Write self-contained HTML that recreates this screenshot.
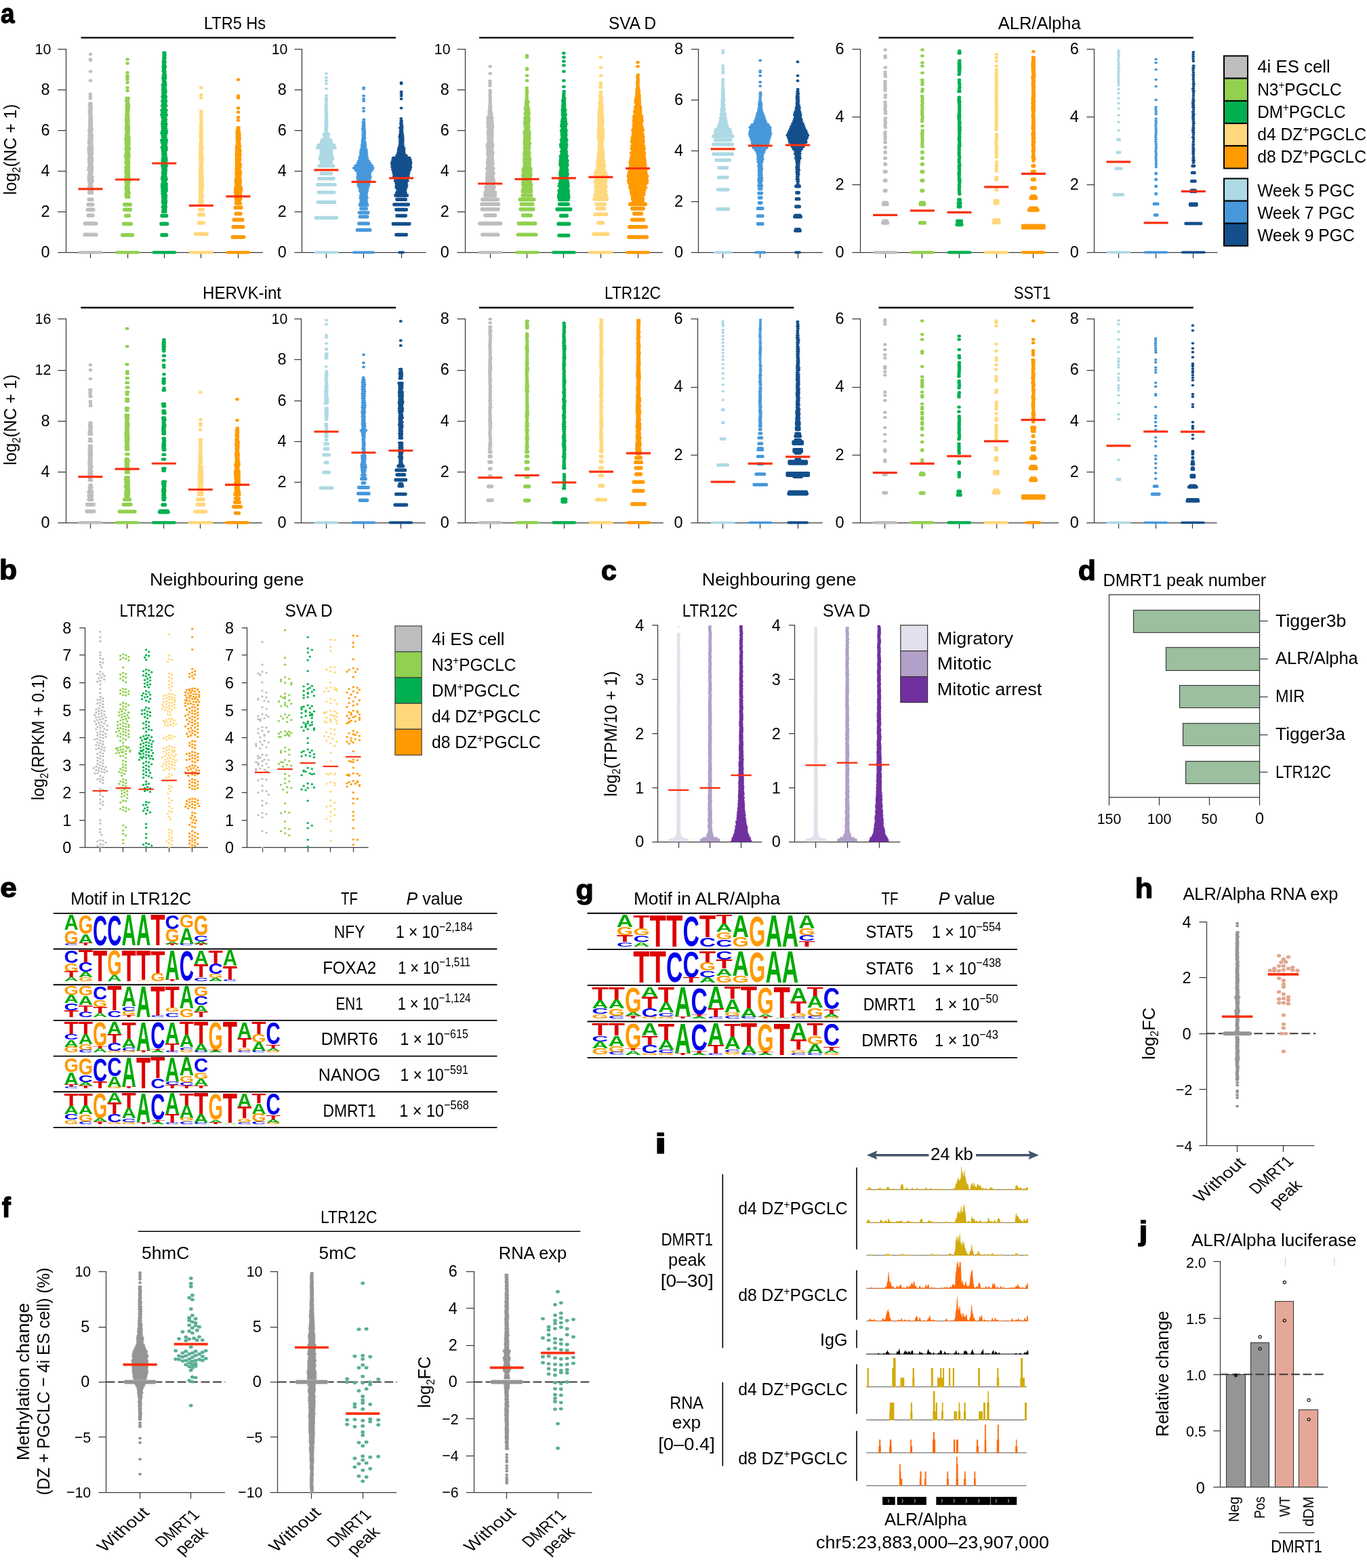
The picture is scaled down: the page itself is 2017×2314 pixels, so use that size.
<!DOCTYPE html>
<html><head><meta charset="utf-8"><title>Figure</title>
<style>html,body{margin:0;padding:0;background:#fff}svg{display:block}svg{font-family:"Liberation Sans",sans-serif;font-size:26.3px;fill:#000}path{fill:none}.d{stroke-linecap:round}</style></head>
<body><svg width="2017" height="2314" viewBox="0 0 2017 2314">
<rect width="2017" height="2314" fill="#fff"/>
<text transform="translate(1.1 33.5) scale(0.901 1)" font-weight="bold" font-size="41" stroke="#000" stroke-width="1.3" stroke-linejoin="round">a</text>
<path d="M119.5 55.6H584" stroke="#000" stroke-width="2.4"/>
<text transform="translate(346.5 43.4) scale(0.896 1)" text-anchor="middle">LTR5 Hs</text>
<path d="M97.5 71.9V372.5M85.3 372.5H97.5M85.3 312.5H97.5M85.3 252.5H97.5M85.3 192.5H97.5M85.3 132.5H97.5M85.3 72.5H97.5M85.3 372.5H387.8M133.5 372.5v8.5M188.5 372.5v8.5M242.5 372.5v8.5M296.5 372.5v8.5M351.5 372.5v8.5" stroke="#3a3a3a" stroke-width="1.25"/>
<text transform="translate(73.5 379.8) scale(1.020 1)" text-anchor="end" font-size="23">0</text>
<text transform="translate(73.5 319.8) scale(1.020 1)" text-anchor="end" font-size="23">2</text>
<text transform="translate(73.5 259.8) scale(1.020 1)" text-anchor="end" font-size="23">4</text>
<text transform="translate(73.5 199.9) scale(1.020 1)" text-anchor="end" font-size="23">6</text>
<text transform="translate(73.5 139.9) scale(1.020 1)" text-anchor="end" font-size="23">8</text>
<text transform="translate(75.3 79.9) scale(0.930 1)" text-anchor="end" font-size="23">10</text>
<path class="d" d="M131.7 356.3h3.7M131.9 352h3.6M131.5 347.8h4.3M131.8 343.5h3.1M132.4 339.3h2.1M131.6 335h4.4M131.3 330.8h4.5M131.3 326.5h4.7M131.7 322.3h2.9M132.5 318h2.6M131 313.8h4.6M131.1 309.5h4.4M132.2 305.3h3.1M131.9 301h2.8M131.7 296.8h3.7M131.3 292.5h4.5M132.1 288.3h2.5M131.7 284h3.8M131.4 279.8h4M131 275.5h4.7M131.4 271.3h4.4M132.2 267h2.8M131.5 262.8h3.3M131.7 258.5h3.6M132.2 254.3h2.8M131.9 250h3.7M132.5 245.8h2M131.9 241.5h2.9M132.2 237.3h2.8M132.8 233h1.6M132.6 228.8h2.1M132.4 224.5h2.2M132.7 220.3h1.9M132.9 216h1.5M132.9 211.8h1.2M132.2 207.5h1.8M132.6 203.3h1.7M133 199h1.1M132.3 194.8h1.9M132.8 190.5h1M133.3 182h0M133.3 177.8h0M133.3 173.5h0M125.3 432.1h16.4M125.3 433.6h16.4M125.3 411.5h16.4M125.3 413h16.4M130.3 396.5h6.4M130.3 398h6.4M129.3 386h8.4M129.3 387.5h8.4M130.3 376.7h6.4M130.3 378.2h6.4M131.3 367.3h4.4M131.3 368.8h4.4M133.5 148.7h0M133.5 131.9h0M133.5 111.2h0M133.5 109.4h0M133.5 100h0M118.3 465.5h30.4" stroke="#bebebe" stroke-width="5.6" transform="scale(1 0.8)"/>
<path class="d" d="M186.6 363.8h3.3M186.1 359.5h3.3M186.4 355.3h3.8M186.6 351h2.6M185.8 346.8h3.9M186.6 342.5h2.3M186.7 338.3h2.8M186 334h4.1M186 329.8h4.1M186 325.5h3.8M186.7 321.3h2.9M185.8 317h3.9M186.2 312.8h3.1M185.9 308.5h3.7M187.1 304.3h2.2M185.8 300h4.1M186.6 295.8h3M186.2 291.5h3.3M185.3 287.3h4.9M186.6 283h3.2M186.8 278.8h2.7M185.8 274.5h4.7M186.7 270.3h2.8M186.2 266h3.9M186.5 261.8h3.6M185.6 257.5h4.3M186.6 253.3h3.4M186.2 249h3M187.1 244.8h2.4M186.7 240.5h2.8M186.5 236.3h3.1M186.9 232h2.5M187 227.8h1.8M186.5 223.5h2.7M186.7 219.3h2.3M186.9 215h1.7M186.8 210.8h1.8M187.4 206.5h1.3M187.2 202.3h1.9M187.2 198h2.3M187.1 193.8h2.4M187.3 189.5h1.4M186.7 185.3h1.9M187.1 181h2.2M180.8 432.9h14.4M180.8 434.4h14.4M182.8 412.3h10.4M182.8 413.8h10.4M185.8 397.3h4.4M185.8 398.8h4.4M183.8 386h8.4M183.8 387.5h8.4M183.8 376.7h8.4M183.8 378.2h8.4M188 167.5h0M188 161.9h0M188 152.5h0M188 146.9h0M188 143.1h0M188 139.4h0M188 133.7h0M188 116.9h0M188 109.4h0M172.8 465.5h30.4" stroke="#92d050" stroke-width="5.6" transform="scale(1 0.8)"/>
<path class="d" d="M240.5 390.5h3.4M241.1 386.3h2.8M240.3 382h4M241.4 377.8h2.5M240.3 373.5h4.2M240.7 369.3h3.6M240.7 365h3.6M240.4 360.8h4.1M240 356.5h3.9M239.9 352.3h5.2M239.7 348h5.5M239.5 343.8h5.5M239.7 339.5h5.5M240.8 335.3h2.9M239.7 331h5.5M239.8 326.8h4.6M240.6 322.5h3.2M240.3 318.3h3.9M240.9 314h3.5M240.7 309.8h3.6M239.7 305.5h5.5M240.3 301.3h3.9M240.1 297h4.8M240.2 292.8h4.8M241 288.5h3.2M240.6 284.3h3.4M240.8 280h3.2M240.1 275.8h5M239.4 271.5h5.6M240.6 267.3h3.7M239.5 263h5.4M238.7 258.8h6.6M240.6 254.5h3.6M240.1 250.3h3.9M239 246h6.1M239.8 241.8h5.5M240.4 237.5h4.1M240.2 233.3h4M239.8 229h5.1M240.1 224.8h4M240.9 220.5h3.5M240 216.3h4M238.9 212h6.3M239.9 207.8h4.2M239 203.5h6M240.8 199.3h2.8M239.7 195h5M240.8 190.8h3M239.7 186.5h5M241 182.3h2.9M240 178h4.4M240.9 173.8h2.3M240.7 169.5h3.5M240.4 165.3h3.4M240.9 161h2.2M240.3 156.8h3.5M241.6 152.5h2M241.3 148.3h1.5M240.8 144h2.8M241.3 139.8h2.2M242 135.5h1.2M241.2 131.3h1.7M241.4 127h1.2M241.3 122.8h2.2M241.6 118.5h0.9M241.3 114.3h1.8M241.7 110h0.8M241.9 105.8h1.1M242 101.5h1.1M242 97.3h0.8M239.1 432.9h6.4M239.1 434.4h6.4M238.1 412.3h8.4M238.1 413.8h8.4M239.1 397.3h6.4M239.1 398.8h6.4M227.1 465.5h30.4" stroke="#00b050" stroke-width="5.6" transform="scale(1 0.8)"/>
<path class="d" d="M295.2 375h3.1M295.3 370.8h2.7M295.5 366.5h2M295.2 362.3h3.2M295.2 358h2.8M295.1 353.8h2.9M295.5 349.5h2.1M295.3 345.3h3.4M295.5 341h2.8M295.3 336.8h3.2M295.7 332.5h2M295.7 328.3h2.7M295.3 324h2.7M296.1 319.8h1.7M295.3 315.5h2.4M295.3 311.3h2.3M296 307h1.5M296.2 302.8h1.1M295.9 298.5h2.2M295.5 294.3h2.3M295.8 290h2.3M295.7 285.8h1.7M296 281.5h1.2M296.1 277.3h1M296 273h1.9M295.7 268.8h1.6M296.3 264.5h0.6M296.4 260.3h0.8M296.6 256h1.1M295.8 251.8h1.3M296.2 247.5h0.8M296 243.3h1.3M296.7 239h0.7M296.4 234.8h1M296.5 230.5h0M296.9 226.3h0M297 222h0M296.8 217.8h0M296.6 213.5h0M297 209.3h0M297 205h0M288.6 431h16.4M288.6 432.5h16.4M293.6 410.4h6.4M293.6 411.9h6.4M293.6 395.4h6.4M293.6 396.9h6.4M294.6 386h4.4M294.6 387.5h4.4M296.8 180.6h0M296.8 175h0M296.8 161.9h0M281.6 465.5h30.4" stroke="#ffd87c" stroke-width="5.6" transform="scale(1 0.8)"/>
<path class="d" d="M348.6 375.5h6M348.9 371.3h4.5M348.4 367h6.5M348.8 362.8h5.2M347.9 358.5h6.6M347.5 354.3h7.4M347.5 350h8.2M347.9 345.8h7.4M348.9 341.5h5M348.4 337.3h5.9M348.1 333h6.3M348.8 328.8h5M349.7 324.5h3.9M348.8 320.3h5.7M349.2 316h5.1M349.2 311.8h4M349.2 307.5h4.7M349.3 303.3h5.2M349.4 299h3.6M349.2 294.8h4.4M349.5 290.5h3.9M349.1 286.3h4.9M349.3 282h4.2M349.4 277.8h4.7M349.3 273.5h3.7M349.6 269.3h3.9M350.6 265h2.3M350.5 260.8h2M350.2 256.5h3.1M350.1 252.3h2.9M350.2 248h2.8M349.9 243.8h2.5M350.7 239.5h1.3M351.2 235.3h0.8M343.3 436.6h16.4M343.3 438.1h16.4M344.3 417.9h14.4M344.3 419.4h14.4M345.3 404.8h12.4M345.3 406.3h12.4M348.3 393.5h6.4M348.3 395h6.4M347.3 382.3h8.4M347.3 383.8h8.4M351.5 221.8h0M351.5 216.2h0M351.5 206.8h0M351.5 199.3h0M351.5 180.6h0M351.5 176.8h0M351.5 146.9h0M336.3 465.5h30.4" stroke="#ff9a00" stroke-width="5.6" transform="scale(1 0.8)"/>
<path d="M115.5 278.8h36" stroke="#f9300f" stroke-width="3.2"/>
<path d="M170 265h36" stroke="#f9300f" stroke-width="3.2"/>
<path d="M224.3 241h36" stroke="#f9300f" stroke-width="3.2"/>
<path d="M278.8 303.4h36" stroke="#f9300f" stroke-width="3.2"/>
<path d="M333.5 289.9h36" stroke="#f9300f" stroke-width="3.2"/>
<path d="M445.5 71.9V372.5M434.5 372.5H445.5M434.5 312.5H445.5M434.5 252.5H445.5M434.5 192.5H445.5M434.5 132.5H445.5M434.5 72.5H445.5M434.5 372.5H628.5M481.5 372.5v8.5M536.5 372.5v8.5M592.5 372.5v8.5" stroke="#3a3a3a" stroke-width="1.25"/>
<text transform="translate(422.7 379.8) scale(1.020 1)" text-anchor="end" font-size="23">0</text>
<text transform="translate(422.7 319.8) scale(1.020 1)" text-anchor="end" font-size="23">2</text>
<text transform="translate(422.7 259.8) scale(1.020 1)" text-anchor="end" font-size="23">4</text>
<text transform="translate(422.7 199.9) scale(1.020 1)" text-anchor="end" font-size="23">6</text>
<text transform="translate(422.7 139.9) scale(1.020 1)" text-anchor="end" font-size="23">8</text>
<text transform="translate(424.5 79.9) scale(0.930 1)" text-anchor="end" font-size="23">10</text>
<path class="d" d="M480.7 244.3h1.5M480.4 240.1h1.3M480.5 235.8h1.6M481 231.6h1.5M480.3 227.3h1.7M480.6 223.1h1.7M480.9 218.8h1.2M480.7 214.6h1.6M481 210.3h1.1M480.9 206.1h0.8M480.6 201.8h1M481 197.6h0.7M480.6 193.3h1M481.3 189.1h0M481.3 184.8h0.6M480.9 180.6h0.6M481.7 176.3h0M465.9 401h31M465.9 402.5h31M468.9 372.2h25M468.9 373.7h25M469.9 354.2h23M469.9 355.7h23M468.4 339.9h26M468.4 341.4h26M470.4 328.7h22M470.4 330.2h22M473.9 319.3h15M473.9 320.8h15M470.9 305.4h21M470.9 306.9h21M473.9 298.7h15M473.9 300.2h15M471.9 292.3h19M471.9 293.8h19M472.9 286.7h17M472.9 288.2h17M473.9 281.1h15M473.9 282.6h15M473.9 276.6h15M473.9 278.1h15M468.4 271.7h26M468.4 273.2h26M469.9 267.2h23M469.9 268.7h23M473.9 262.3h15M473.9 263.8h15M474.9 257.8h13M474.9 259.3h13M478.9 252.9h5M478.9 254.4h5M477.9 247.3h7M477.9 248.8h7M481.4 163.7h0M481.4 154.4h0M481.4 148.7h0M481.4 143.1h0M481.4 135.6h0M465.9 465.5h31" stroke="#add9e4" stroke-width="5.0" transform="scale(1 0.8)"/>
<path class="d" d="M532.2 373.7h8.7M532.9 369.4h7.6M531.8 365.2h9.5M532.3 360.9h8.4M532.8 356.7h8M531.2 352.4h10.4M530.8 348.2h11.4M529.2 343.9h14.2M528.6 339.7h15.6M528 335.4h16.6M528.1 331.2h17.2M527.5 326.9h18.9M528.1 322.7h17.5M527.8 318.4h18.3M525 314.2h23.8M522.3 309.9h28M524.5 305.7h24.3M527.7 301.4h18.4M529.2 297.2h14.7M530.6 292.9h11.5M531.2 288.7h10.2M532.5 284.4h8.2M532.3 280.2h8.6M532.9 275.9h7.4M534.1 271.7h4.9M534.3 267.4h4.6M534.8 263.2h3.8M535 258.9h2.6M535.5 254.7h2.6M535.7 250.4h2M535.8 246.2h2.2M535.8 241.9h2.1M535.1 237.7h2.3M535.7 233.4h1.6M536 229.2h1.4M535.9 224.9h1M536.9 220.7h0M527.1 423.5h19M527.1 425h19M529.6 411.5h14M529.6 413h14M531.1 399.1h11M531.1 400.6h11M530.1 391.6h13M530.1 393.1h13M532.6 384.2h8M532.6 385.7h8M531.1 377.4h11M531.1 378.9h11M536.6 205h0M536.6 199.3h0M536.6 186.2h0M536.6 182.5h0M536.6 176.8h0M536.6 163.7h0M536.6 161.9h0M522.1 465.5h29" stroke="#4698db" stroke-width="5.0" transform="scale(1 0.8)"/>
<path class="d" d="M585.2 354.9h13.2M586.7 350.7h11.3M584.8 346.4h14.5M584.8 342.2h15.3M584.5 337.9h15M583.2 333.7h18.1M583 329.4h18.3M581.4 325.2h20.7M581 320.9h21.8M580.4 316.7h23M579.3 312.4h25.9M578.8 308.2h27.1M578.5 303.9h27.2M578.3 299.7h27.9M579.4 295.4h26.1M580.1 291.2h24.1M585.5 286.9h13.9M587.2 282.7h9.2M587.9 278.4h8.1M588.2 274.2h8M589.4 269.9h5.4M590.2 265.7h4.1M590.3 261.4h4.1M590.4 257.2h4M589.7 252.9h4.5M590.2 248.7h3.8M591 244.4h2.2M591.1 240.2h1.9M590.4 235.9h2.9M591.7 231.7h1.4M591.4 227.4h1.1M591.8 223.2h0.7M591.8 218.9h0M584.6 432.1h15M584.6 433.6h15M580.1 412.3h24M580.1 413.8h24M585.6 397.3h13M585.6 398.8h13M584.6 386h15M584.6 387.5h15M581.6 376.7h21M581.6 378.2h21M585.6 367.3h13M585.6 368.8h13M583.6 359.8h17M583.6 361.3h17M592.1 199.3h0M592.1 182.5h0M592.1 176.8h0M592.1 173.1h0M592.1 169.3h0M592.1 154.4h0M592.1 152.5h0M589.6 465.5h5" stroke="#134f8b" stroke-width="5.0" transform="scale(1 0.8)"/>
<path d="M463.4 250.9h36" stroke="#f9300f" stroke-width="3.2"/>
<path d="M518.6 268.3h36" stroke="#f9300f" stroke-width="3.2"/>
<path d="M574.1 262.9h36" stroke="#f9300f" stroke-width="3.2"/>
<path d="M707 55.6H1171.5" stroke="#000" stroke-width="2.4"/>
<text transform="translate(933 43.4) scale(0.927 1)" text-anchor="middle">SVA D</text>
<path d="M686.5 71.9V372.5M674.6 372.5H686.5M674.6 312.5H686.5M674.6 252.5H686.5M674.6 192.5H686.5M674.6 132.5H686.5M674.6 72.5H686.5M674.6 372.5H977.8M723.5 372.5v8.5M777.5 372.5v8.5M831.5 372.5v8.5M886.5 372.5v8.5M941.5 372.5v8.5" stroke="#3a3a3a" stroke-width="1.25"/>
<text transform="translate(662.8 379.8) scale(1.020 1)" text-anchor="end" font-size="23">0</text>
<text transform="translate(662.8 319.8) scale(1.020 1)" text-anchor="end" font-size="23">2</text>
<text transform="translate(662.8 259.8) scale(1.020 1)" text-anchor="end" font-size="23">4</text>
<text transform="translate(662.8 199.9) scale(1.020 1)" text-anchor="end" font-size="23">6</text>
<text transform="translate(662.8 139.9) scale(1.020 1)" text-anchor="end" font-size="23">8</text>
<text transform="translate(664.6 79.9) scale(0.930 1)" text-anchor="end" font-size="23">10</text>
<path class="d" d="M717.9 349.3h10.1M716.9 345h12.2M719.1 340.8h8.5M718.5 336.5h10.1M718.5 332.3h9.8M718.6 328h8.8M719.1 323.8h7.6M718.9 319.5h9.3M720.1 315.3h6.6M718.4 311h9.5M719.8 306.8h6.2M719.6 302.5h7.6M719.6 298.3h7.4M719.9 294h6.6M720.9 289.8h5.2M720 285.5h6.3M719.6 281.3h7.6M720.3 277h5.4M719.8 272.8h6.3M719.2 268.5h7.5M720.1 264.3h6.2M721.3 260h4.1M720.5 255.8h5.2M721 251.5h4.7M720.3 247.3h5.9M720.4 243h5.2M721.1 238.8h4.8M719.9 234.5h6.7M720.6 230.3h5.6M720 226h5.9M720.4 221.8h5.3M720 217.5h6M721.5 213.3h3M722.2 209h2.6M722.1 204.8h1.6M722.9 200.5h0.9M722.6 196.3h1.3M723.3 192h0M723.4 187.8h0M723.2 183.5h0M723.3 179.3h0M722.9 175h0M723.4 170.8h0M723.1 166.5h0M723 158h0M723 153.8h0M722.9 149.5h0M712 432.1h22.4M712 433.6h22.4M708 411.5h30.4M708 413h30.4M716 396.5h14.4M716 398h14.4M711.5 385.3h23.4M711.5 386.8h23.4M711 375.9h24.4M711 377.4h24.4M712 367.3h22.4M712 368.8h22.4M716 359.8h14.4M716 361.3h14.4M716 354.2h14.4M716 355.7h14.4M723.2 135.6h0M723.2 122.5h0M708 465.5h30.4" stroke="#bebebe" stroke-width="5.6" transform="scale(1 0.8)"/>
<path class="d" d="M771.7 349.3h11.7M772.9 345h9.9M771.7 340.8h12M771.6 336.5h11.2M772.6 332.3h9.5M772.3 328h9.9M771.6 323.8h11.2M772.9 319.5h9.8M772 315.3h10.5M772.5 311h10.5M774 306.8h7.3M774.2 302.5h7.1M773.9 298.3h7.2M773.7 294h8.1M774.2 289.8h6.8M773.9 285.5h6.4M774 281.3h7M774.7 277h5.2M774.2 272.8h6.5M774.9 268.5h5.5M774 264.3h7.7M774.4 260h5.7M774.4 255.8h6.4M774.8 251.5h5.8M774.3 247.3h6.7M774.1 243h6.8M775.7 238.8h3.9M775.3 234.5h4.7M775 230.3h4.4M774.4 226h5.6M775.1 221.8h5.1M774.8 217.5h5.3M775.9 213.3h3.6M775.1 209h5.3M776.1 204.8h3.5M775.2 200.5h4.4M776 196.3h2.5M776.5 192h1.7M776.4 187.8h2.8M777.2 183.5h0M777.3 179.3h0M777.2 175h0M777.7 170.8h0M777.2 166.5h0M777.2 162.3h0M764.3 432.1h26.4M764.3 433.6h26.4M765.3 411.5h24.4M765.3 413h24.4M771.8 396.5h11.4M771.8 398h11.4M768.3 385.3h18.4M768.3 386.8h18.4M769.3 375.9h16.4M769.3 377.4h16.4M767.3 367.3h20.4M767.3 368.8h20.4M771.3 359.8h12.4M771.3 361.3h12.4M771.3 352.3h12.4M771.3 353.8h12.4M777.5 148.7h0M777.5 139.4h0M777.5 128.1h0M777.5 126.2h0M777.5 105.6h0M777.5 102.6h0M762.3 465.5h30.4" stroke="#92d050" stroke-width="5.6" transform="scale(1 0.8)"/>
<path class="d" d="M824.6 364.3h14.3M824.7 360h13.9M825.5 355.8h12.5M825 351.5h13.4M827 347.3h10.4M825.2 343h12.8M825.9 338.8h11.9M827 334.5h10.2M827.1 330.3h9.5M827.5 326h8.6M826.8 321.8h10.4M827 317.5h9.5M827.8 313.3h8.9M828.1 309h7.7M827 304.8h10M827 300.5h9.4M827.2 296.3h9.7M827.6 292h8M827.3 287.8h9.1M829.1 283.5h6.2M828.6 279.3h6.5M829.6 275h5.2M827.9 270.8h7.4M827.6 266.5h8.1M829.1 262.3h5.9M828.6 258h7.2M829.7 253.8h4.9M829.4 249.5h5.5M829.2 245.3h5.5M828.6 241h6.5M830.1 236.8h4M828.7 232.5h5.6M829.3 228.3h5.7M829.5 224h4.9M830.1 219.8h3.9M830.9 215.5h2.5M830.2 211.3h4.1M830.3 207h2.7M830.1 202.8h3.6M830.7 198.5h1.8M830.7 194.3h2.1M831.1 190h1.3M830.6 185.8h2M831.4 181.5h1.4M831.8 177.3h0M831.9 173h0M832.2 168.8h0M825.2 433.6h13.4M825.2 435.1h13.4M824.2 412.3h15.4M824.2 413.8h15.4M827.7 397.3h8.4M827.7 398.8h8.4M822.2 385.3h19.4M822.2 386.8h19.4M825.7 375.9h12.4M825.7 377.4h12.4M825.7 367.3h12.4M825.7 368.8h12.4M831.9 160h0M831.9 148.7h0M831.9 131.9h0M831.9 120.6h0M831.9 113.1h0M831.9 105.6h0M831.9 98.1h0M816.7 465.5h30.4" stroke="#00b050" stroke-width="5.6" transform="scale(1 0.8)"/>
<path class="d" d="M879.9 356.8h13.3M879.1 352.5h14.4M879.8 348.3h13.3M879.1 344h15.2M880 339.8h12.5M878.2 335.5h15.7M879.7 331.3h13.9M878.3 327h16.2M878.5 322.8h15.8M879.2 318.5h14.1M880.2 314.3h11.8M882.1 310h8.4M881.7 305.8h10M882.8 301.5h7.8M882 297.3h8.7M882.8 293h6.5M883.1 288.8h7.2M883.2 284.5h6.1M883.7 280.3h5.9M884.1 276h4.9M884.3 271.8h4.4M884.5 267.5h3.6M884.8 263.3h3.7M884.5 259h4M883 254.8h6.8M883.7 250.5h5.6M883.3 246.3h5.9M883.6 242h5.6M883.3 237.8h6.5M884.2 233.5h4.1M884.4 229.3h4.1M883.9 225h5.4M884.6 220.8h4.2M883.7 216.5h4.8M884 212.3h4.3M884.5 208h3.2M884.1 203.8h4.1M885.4 199.5h2.6M885.1 195.3h2.9M884.9 191h2.6M885.8 186.8h1.1M886.3 182.5h0.9M885.7 178.3h1.5M886.4 174h0M886.3 169.8h0.7M886.1 161.3h0M886.5 157h0M886.4 152.8h0M876.2 431h20.4M876.2 432.5h20.4M883.2 410.4h6.4M883.2 411.9h6.4M878.2 394.6h16.4M878.2 396.1h16.4M881.2 384.2h10.4M881.2 385.7h10.4M880.2 375.9h12.4M880.2 377.4h12.4M877.2 366.5h18.4M877.2 368h18.4M878.2 359.8h16.4M878.2 361.3h16.4M886.4 139.4h0M886.4 124.4h0M886.4 105.6h0M871.2 465.5h30.4" stroke="#ffd87c" stroke-width="5.6" transform="scale(1 0.8)"/>
<path class="d" d="M934.4 371.8h14M933.7 367.5h14.7M933.5 363.3h14.3M932.3 359h17.4M931.7 354.8h18.2M931.3 350.5h19.4M929.6 346.3h23M930 342h21.4M928.5 337.8h25.7M927.4 333.5h27.2M928.2 329.3h25.4M927.4 325h27.4M928 320.8h25.2M928.8 316.5h23.9M928.8 312.3h24.3M930.4 308h21.7M930.7 303.8h21.2M930.2 299.5h20.9M931.2 295.3h19.9M931.4 291h19.2M932.7 286.8h17.3M931.5 282.5h19M933.5 278.3h15.7M932.3 274h18M932.8 269.8h16.6M933.9 265.5h14.6M932.3 261.3h16.8M933.1 257h15.4M933.4 252.8h15.6M934.5 248.5h13.6M934.6 244.3h12.5M933.8 240h14.6M935.4 235.8h11.9M935.2 231.5h11.4M935.8 227.3h10.1M935.2 223h12M935.8 218.8h10.8M935.7 214.5h10.8M937.4 210.3h7.3M936.6 206h8M937.9 201.8h6.8M937.7 197.5h7.1M939.2 193.3h4.1M938 189h5.5M938.3 184.8h4.9M938.9 180.5h4.1M939.6 176.3h3.5M940 172h2.3M940.1 167.8h2.4M940.3 163.5h1.4M941.2 159.3h0M940.9 155h0M940.8 150.8h0.6M941.3 146.5h0M940.9 142.3h0M941.2 138h0M927.8 436.6h26.4M927.8 438.1h26.4M928.8 417.9h24.4M928.8 419.4h24.4M932.8 404.8h16.4M932.8 406.3h16.4M935.8 393.5h10.4M935.8 395h10.4M932.8 384.2h16.4M932.8 385.7h16.4M929.8 375.9h22.4M929.8 377.4h22.4M941 122.5h0M941 115h0M925.8 465.5h30.4" stroke="#ff9a00" stroke-width="5.6" transform="scale(1 0.8)"/>
<path d="M705.2 271h36" stroke="#f9300f" stroke-width="3.2"/>
<path d="M759.5 264.4h36" stroke="#f9300f" stroke-width="3.2"/>
<path d="M813.9 262.9h36" stroke="#f9300f" stroke-width="3.2"/>
<path d="M868.4 261.4h36" stroke="#f9300f" stroke-width="3.2"/>
<path d="M923 248.5h36" stroke="#f9300f" stroke-width="3.2"/>
<path d="M1030.5 71.9V372.5M1019.8 372.5H1030.5M1019.8 297.5H1030.5M1019.8 222.5H1030.5M1019.8 147.5H1030.5M1019.8 72.5H1030.5M1019.8 372.5H1213.8M1066.5 372.5v8.5M1121.5 372.5v8.5M1177.5 372.5v8.5" stroke="#3a3a3a" stroke-width="1.25"/>
<text transform="translate(1008 379.8) scale(1.020 1)" text-anchor="end" font-size="23">0</text>
<text transform="translate(1008 304.8) scale(1.020 1)" text-anchor="end" font-size="23">2</text>
<text transform="translate(1008 229.8) scale(1.020 1)" text-anchor="end" font-size="23">4</text>
<text transform="translate(1008 154.9) scale(1.020 1)" text-anchor="end" font-size="23">6</text>
<text transform="translate(1008 79.9) scale(1.020 1)" text-anchor="end" font-size="23">8</text>
<path class="d" d="M1060.3 231.2h12.6M1062.1 227h9.5M1062.9 222.7h8.3M1062.8 218.5h7.8M1064.1 214.2h5.7M1063.9 210h5.9M1065 205.7h2.9M1064.5 201.5h4.2M1065.6 197.2h2.6M1065.4 193h2.6M1065.4 188.7h2.1M1065.6 184.5h2.6M1066.2 180.2h1.5M1066.1 176h1.8M1066 171.7h1.4M1066.1 167.5h1.3M1066.4 163.2h1M1066.6 159h0M1066.5 154.7h0M1066.5 150.5h0M1066.9 146.2h0M1058.7 385.1h16M1058.7 386.6h16M1059.2 349h15M1059.2 350.5h15M1060.2 326.5h13M1060.2 328h13M1060.7 308.7h12M1060.7 310.2h12M1056.7 294.7h20M1056.7 296.2h20M1052.7 283.4h28M1052.7 284.9h28M1052.7 265.6h28M1052.7 267.1h28M1055.2 257.6h23M1055.2 259.1h23M1052.2 250.6h29M1052.2 252.1h29M1055.2 244.5h23M1055.2 246h23M1056.2 238.4h21M1056.2 239.9h21M1060.2 232.8h13M1060.2 234.3h13M1066.7 135.1h0M1066.7 130.5h0M1066.7 125.8h0M1066.7 121.1h0M1066.7 97.7h0M1066.7 93h0M1055.2 465.5h23" stroke="#add9e4" stroke-width="5.0" transform="scale(1 0.8)"/>
<path class="d" d="M1120.1 336.6h2.8M1119.4 332.4h4.4M1119.9 328.1h4M1119.9 323.9h3.5M1120.1 319.6h3.1M1119.9 315.4h3.5M1120.1 311.1h3.7M1119.4 306.9h4.1M1119.8 302.6h3.4M1118.6 298.4h5.6M1118.5 294.1h6.7M1118.6 289.9h6.3M1118.2 285.6h6.9M1117.2 281.4h9.6M1115 277.1h12.9M1111.8 272.9h19.3M1111.2 268.6h21.4M1110.2 264.4h23M1109.6 260.1h24.2M1108.6 255.9h26.3M1107.1 251.6h28.7M1106.1 247.4h30.9M1106.5 243.1h29.9M1107.6 238.9h28.4M1106.8 234.6h29.3M1109.4 230.4h24.2M1113.5 226.1h16.7M1114.5 221.9h14.4M1116 217.6h11.6M1116.9 213.4h9.7M1117.7 209.1h7.5M1119.2 204.9h4.6M1119.6 200.6h3.7M1120.5 196.4h2.3M1120.3 192.1h2.9M1121 187.9h1.3M1121.5 183.6h0M1121.7 179.4h0M1121.7 175.1h0.6M1122 170.9h0M1118.2 412.3h7M1118.2 413.8h7M1118.2 397.7h7M1118.2 399.2h7M1118.2 383.7h7M1118.2 385.2h7M1120.2 373.4h3M1120.2 374.9h3M1120.2 364h3M1120.2 365.5h3M1119.7 355.6h4M1119.7 357.1h4M1120.2 347.6h3M1120.2 349.1h3M1119.7 341.5h4M1119.7 343h4M1121.7 158.6h0M1121.7 151.5h0M1121.7 139.8h0M1121.7 132.8h0M1121.7 130.5h0M1121.7 111.7h0M1115.2 465.5h13" stroke="#4698db" stroke-width="5.0" transform="scale(1 0.8)"/>
<path class="d" d="M1177.3 339h0M1176.8 334.7h0.9M1175.9 330.5h1.7M1176.2 326.2h1.1M1176.3 322h1.9M1175.7 317.7h2.1M1175.7 313.5h3M1175.5 309.2h2.5M1176.1 305h2.1M1175.9 300.7h2.6M1175.6 296.5h3.2M1174.3 292.2h6M1174.8 288h5.1M1173.2 283.7h7M1173.7 279.5h6.6M1171.1 275.2h11.4M1169.1 271h16M1168.2 266.7h17.6M1165.1 262.5h24.1M1164.6 258.2h24.5M1163.4 254h27.4M1161.8 249.7h30.1M1163.3 245.5h27.1M1164.8 241.2h24.4M1166.5 237h20.6M1167.7 232.7h18.1M1169.4 228.5h15.3M1171.1 224.2h11.6M1172.2 220h10M1173.3 215.7h7.5M1172.3 211.5h8.9M1173.1 207.2h7.2M1174.7 203h4.6M1174.9 198.7h4.6M1176 194.5h2.6M1175.8 190.2h1.9M1176.3 186h1.8M1175.8 181.7h1.9M1176 177.5h1.6M1176.5 173.2h1.3M1176.6 169h0.8M1177.2 164.7h0M1173.5 424.9h7M1173.5 426.4h7M1174.5 422.6h5M1174.5 424.1h5M1172.5 399.1h9M1172.5 400.6h9M1173.5 396.8h7M1173.5 398.3h7M1174.5 380.4h5M1174.5 381.9h5M1175 366.3h4M1175 367.8h4M1175.5 354.6h3M1175.5 356.1h3M1174.5 342.9h5M1174.5 344.4h5M1177 149.2h0M1177 139.8h0M1177 114.1h0M1174.5 465.5h5" stroke="#134f8b" stroke-width="5.0" transform="scale(1 0.8)"/>
<path d="M1048.7 219.8h36" stroke="#f9300f" stroke-width="3.2"/>
<path d="M1103.7 215h36" stroke="#f9300f" stroke-width="3.2"/>
<path d="M1159 214.2h36" stroke="#f9300f" stroke-width="3.2"/>
<path d="M1296.5 55.6H1760.8" stroke="#000" stroke-width="2.4"/>
<text transform="translate(1533.7 43.4) scale(0.970 1)" text-anchor="middle">ALR/Alpha</text>
<path d="M1269.5 71.9V372.5M1257.4 372.5H1269.5M1257.4 272.5H1269.5M1257.4 172.5H1269.5M1257.4 72.5H1269.5M1257.4 372.5H1561.8M1306.5 372.5v8.5M1360.5 372.5v8.5M1415.5 372.5v8.5M1470.5 372.5v8.5M1524.5 372.5v8.5" stroke="#3a3a3a" stroke-width="1.25"/>
<text transform="translate(1245.6 379.8) scale(1.020 1)" text-anchor="end" font-size="23">0</text>
<text transform="translate(1245.6 279.8) scale(1.020 1)" text-anchor="end" font-size="23">2</text>
<text transform="translate(1245.6 179.9) scale(1.020 1)" text-anchor="end" font-size="23">4</text>
<text transform="translate(1245.6 79.9) scale(1.020 1)" text-anchor="end" font-size="23">6</text>
<path class="d" d="M1305.9 256.2h0M1306.2 251.9h0M1305.9 247.7h0M1306.1 243.4h0M1306.4 234.9h0M1306.1 230.7h0M1306.5 226.4h0M1306 222.2h0M1306.4 217.9h0M1306.5 209.4h0M1306.5 205.2h0M1306 200.9h0M1306.3 196.7h0M1306.1 192.4h0M1306 188.2h0M1306.3 179.7h0M1306.5 175.4h0M1305.9 166.9h0M1306.1 162.7h0M1306 158.4h0M1305.9 154.2h0M1306.1 149.9h0M1306.4 141.4h0M1306.1 137.2h0M1306 132.9h0M1306.3 124.4h0M1303 410.4h6.4M1303 411.9h6.4M1304 407.3h4.4M1304 408.8h4.4M1303.5 376h5.4M1303.5 377.5h5.4M1304 373.5h4.4M1304 375h4.4M1305.5 351h1.4M1305.5 352.5h1.4M1305.5 332.3h1.4M1305.5 333.8h1.4M1305.5 316h1.4M1305.5 317.5h1.4M1306 302.3h0.4M1306 303.8h0.4M1306 291.1h0.4M1306 292.6h0.4M1306.2 280.4h0M1306.2 281.9h0M1306.2 271.1h0M1306.2 272.6h0M1306.2 261.7h0M1306.2 263.2h0M1306.2 106.2h0M1306.2 103.1h0M1306.2 91.9h0M1291 465.5h30.4" stroke="#bebebe" stroke-width="5.6" transform="scale(1 0.8)"/>
<path class="d" d="M1361 270.7h0M1360.8 266.4h0M1361 262.2h0M1361.1 257.9h0M1360.8 253.7h0M1360.8 249.4h0M1360.8 245.2h0M1361.2 240.9h0M1361 232.4h0M1360.7 223.9h0M1360.8 219.7h0M1361.2 215.4h0M1360.7 211.2h0M1360.6 206.9h0M1360.7 202.7h0M1360.9 198.4h0M1360.7 194.2h0M1361.2 189.9h0M1360.8 185.7h0M1361 181.4h0M1360.6 177.2h0M1360.7 168.7h0M1361.2 164.4h0M1361 155.9h0M1361 151.7h0M1360.8 147.4h0M1357.7 410.4h6.4M1357.7 411.9h6.4M1358.2 376h5.4M1358.2 377.5h5.4M1358.7 373.5h4.4M1358.7 375h4.4M1360.2 351h1.4M1360.2 352.5h1.4M1360.2 332.3h1.4M1360.2 333.8h1.4M1360.2 316h1.4M1360.2 317.5h1.4M1360.7 302.3h0.4M1360.7 303.8h0.4M1360.7 291.1h0.4M1360.7 292.6h0.4M1360.7 280.4h0.4M1360.7 281.9h0.4M1360.9 134.4h0M1360.9 121.9h0M1360.9 115.6h0M1360.9 103.1h0M1360.9 91.9h0M1345.7 465.5h30.4" stroke="#92d050" stroke-width="5.6" transform="scale(1 0.8)"/>
<path class="d" d="M1415.8 358h0M1415.4 353.8h0M1415.3 349.5h0M1415.6 345.3h0M1415.4 341h0M1415.8 336.8h0M1415.3 332.5h0.8M1415.3 328.3h0M1415.3 324h0M1414.8 319.8h0.6M1415.5 315.5h0M1415.4 311.3h0M1415 307h0.7M1415.8 302.8h0M1415.2 298.5h0M1415.2 294.3h0M1415.8 290h0M1415.2 285.8h0M1415.2 281.5h0M1415.3 277.3h0M1415.2 273h0M1415.2 268.8h0.8M1415.8 264.5h0M1415.6 260.3h0M1415.1 256h0.6M1415.7 251.8h0M1415.6 247.5h0M1415.7 243.3h0M1415.4 239h0.8M1415.5 234.8h0.6M1415.7 230.5h0M1415.4 226.3h0.7M1415.4 222h0M1414.9 217.8h0.8M1414.8 213.5h0.8M1415.5 209.3h0M1415.7 205h0M1415.7 200.8h0M1415.8 196.5h0M1415.5 192.3h0M1415.2 188h0.6M1414.8 183.8h0.6M1415.3 179.5h0M1412.3 413.5h6.4M1412.3 415h6.4M1412.8 407.3h5.4M1412.8 408.8h5.4M1414.3 380.4h2.4M1414.3 381.9h2.4M1414.3 374.2h2.4M1414.3 375.7h2.4M1414.8 367.9h1.4M1414.8 369.4h1.4M1400.3 465.5h30.4" stroke="#00b050" stroke-width="5.6" transform="scale(1 0.8)"/>
<path class="d" d="M1414.9 168.7h0.8M1415.5 164.5h0M1415.8 160.2h0M1415.8 156h0M1415.3 151.7h0M1415.5 147.5h0" stroke="#00b050" stroke-width="5.6" transform="scale(1 0.8)"/>
<path class="d" d="M1415.2 137.5h0M1415.6 133.2h0M1415.2 129h0.7M1415.3 124.7h0.8M1415.2 120.5h0.7M1415 116.2h0.7M1415.8 112h0" stroke="#00b050" stroke-width="5.6" transform="scale(1 0.8)"/>
<path class="d" d="M1415.2 98.1h0.8M1415.7 93.9h0" stroke="#00b050" stroke-width="5.6" transform="scale(1 0.8)"/>
<path class="d" d="M1470.4 315.5h0M1469.9 311.3h0M1470.4 307h0M1470.4 302.8h0M1470.3 298.5h0M1470.1 290h0M1470.5 285.8h0M1470.1 281.5h0M1469.9 277.3h0M1470.5 273h0M1470.3 268.8h0M1469.9 264.5h0M1470.1 260.3h0M1470.3 256h0M1470.5 251.8h0M1470.3 247.5h0M1470 239h0M1469.9 234.8h0M1470.2 230.5h0M1470.1 226.3h0M1469.9 222h0M1470.4 217.8h0M1469.9 213.5h0M1470.5 209.3h0M1470.4 205h0M1470.4 200.8h0M1470.1 196.5h0M1470.4 192.3h0M1470 188h0M1469.9 183.8h0M1470.1 179.5h0M1470.2 175.3h0M1470.1 171h0M1470.1 166.8h0M1470.1 162.5h0M1470.3 158.3h0M1470.1 154h0M1470.4 149.8h0M1470.2 145.5h0M1470.1 141.3h0M1470.1 137h0M1470.3 132.8h0M1470.4 128.5h0M1466.5 409.8h7.4M1466.5 411.3h7.4M1467 405.4h6.4M1467 406.9h6.4M1468.5 374.2h3.4M1468.5 375.7h3.4M1468.5 369.8h3.4M1468.5 371.3h3.4M1470 349.2h0.4M1470 350.7h0.4M1470 346h0.4M1470 347.5h0.4M1470 330.4h0.4M1470 331.9h0.4M1470 327.3h0.4M1470 328.8h0.4M1470.2 121.9h0M1470.2 112.5h0M1470.2 106.2h0M1470.2 100h0M1455 465.5h30.4" stroke="#ffd87c" stroke-width="5.6" transform="scale(1 0.8)"/>
<path class="d" d="M1524.9 296.8h0M1524.4 292.6h1.5M1524.1 288.3h0.9M1524.9 284.1h0M1524.2 279.8h0.9M1524.6 275.6h0.8M1524.6 271.3h0.6M1524.2 267.1h0.6M1524.3 262.8h1.4M1524.5 258.6h0.7M1524.1 254.3h1.5M1524.1 250.1h1.2M1524 245.8h1.4M1524.9 241.6h0M1524 237.3h1.2M1524.1 233.1h1.2M1524.6 228.8h0.7M1524.3 224.6h0.8M1524.6 220.3h0.6M1524.2 216.1h0.7M1524 211.8h1M1524.8 207.6h0M1524 203.3h1.5M1523.9 199.1h1.4M1524.3 194.8h0.9M1524 190.6h1M1524.2 186.3h1.3M1524 182.1h1M1524.5 177.8h1.1M1524.6 173.6h1M1524.6 169.3h0.7M1524.4 165.1h0.7M1524.7 160.8h0.7M1524.2 156.6h1M1524.3 152.3h0.8M1524.5 148.1h0.9M1523.7 143.8h1.5M1524.3 139.6h1.6M1524.7 135.3h0.9M1524.3 131.1h0.9M1524 126.8h1.4M1524.1 122.6h1.3M1523.8 118.3h1.5M1524 114.1h1.4M1524.6 109.8h0.7M1524.4 105.6h0.6M1509.6 419.1h30.4M1509.6 420.6h30.4M1509.6 416h30.4M1509.6 417.5h30.4M1518.6 386.7h12.4M1518.6 388.2h12.4M1520.6 383.5h8.4M1520.6 385h8.4M1521.1 364.8h7.4M1521.1 366.3h7.4M1522.6 361.7h4.4M1522.6 363.2h4.4M1522.6 346h4.4M1522.6 347.5h4.4M1523.6 330.4h2.4M1523.6 331.9h2.4M1523.6 316h2.4M1523.6 317.5h2.4M1524.1 305.4h1.4M1524.1 306.9h1.4M1524.8 95h0M1509.6 465.5h30.4" stroke="#ff9a00" stroke-width="5.6" transform="scale(1 0.8)"/>
<path d="M1288.2 317.4h36" stroke="#f9300f" stroke-width="3.2"/>
<path d="M1342.9 310.9h36" stroke="#f9300f" stroke-width="3.2"/>
<path d="M1397.5 313.4h36" stroke="#f9300f" stroke-width="3.2"/>
<path d="M1452.2 275.9h36" stroke="#f9300f" stroke-width="3.2"/>
<path d="M1506.8 256.4h36" stroke="#f9300f" stroke-width="3.2"/>
<path d="M1614.5 71.9V372.5M1603.5 372.5H1614.5M1603.5 272.5H1614.5M1603.5 172.5H1614.5M1603.5 72.5H1614.5M1603.5 372.5H1796.3M1650.5 372.5v8.5M1705.5 372.5v8.5M1760.5 372.5v8.5" stroke="#3a3a3a" stroke-width="1.25"/>
<text transform="translate(1591.7 379.8) scale(1.020 1)" text-anchor="end" font-size="23">0</text>
<text transform="translate(1591.7 279.8) scale(1.020 1)" text-anchor="end" font-size="23">2</text>
<text transform="translate(1591.7 179.9) scale(1.020 1)" text-anchor="end" font-size="23">4</text>
<text transform="translate(1591.7 79.9) scale(1.020 1)" text-anchor="end" font-size="23">6</text>
<path class="d" d="M1650.6 153.1h0M1650.2 148.9h0M1650.2 144.6h0M1650.5 140.4h0M1650.2 136.1h0M1650.1 131.9h0M1650.7 127.6h0M1650.6 123.4h0M1650.6 119.1h0M1650.5 114.9h0M1650.1 110.6h0M1650.5 106.4h0M1650.7 102.1h0M1650.2 97.9h0M1650.6 93.6h0M1643.7 358.5h13.4M1643.7 360h13.4M1646.7 310.4h7.4M1646.7 311.9h7.4M1648.7 280.4h3.4M1648.7 281.9h3.4M1649.2 256.7h2.4M1649.2 258.2h2.4M1650.4 240.6h0M1650.4 225h0M1650.4 212.5h0M1650.4 200h0M1650.4 190.6h0M1650.4 181.2h0M1650.4 171.8h0M1650.4 164.4h0M1650.4 157.5h0M1634.7 465.5h31.4" stroke="#add9e4" stroke-width="4.6" transform="scale(1 0.8)"/>
<path class="d" d="M1705.8 308.2h0M1705.7 303.9h0M1705.8 299.7h0M1705.9 295.4h0M1705.4 291.2h0M1705.8 286.9h0M1705.8 282.7h0M1705.3 278.4h0M1705.8 274.2h0M1705.9 269.9h0M1705.8 265.7h0M1705.3 261.4h0M1705.5 257.2h0M1705.3 252.9h0M1705.5 248.7h0M1705.7 244.4h0M1705.7 240.2h0M1705.6 235.9h0M1705.3 231.7h0M1705.7 227.4h0M1705.6 223.2h0M1705.6 218.9h0M1705.6 210.4h0M1705.8 206.2h0M1705.3 201.9h0M1705.5 197.7h0M1703.9 396h3.4M1703.9 397.5h3.4M1702.9 375.4h5.4M1702.9 376.9h5.4M1705.4 356.7h0.4M1705.4 358.2h0.4M1705.4 342.9h0.4M1705.4 344.4h0.4M1705.4 330.4h0.4M1705.4 331.9h0.4M1705.4 319.2h0.4M1705.4 320.7h0.4M1705.6 184.3h0M1705.6 159.4h0M1705.6 146.9h0M1705.6 128.1h0M1705.6 115.6h0M1705.6 109.4h0M1689.9 465.5h31.4" stroke="#4698db" stroke-width="4.6" transform="scale(1 0.8)"/>
<path class="d" d="M1760.7 299.9h0.6M1760.3 295.7h1.4M1760.5 291.4h0.8M1760.9 287.2h0M1760.3 282.9h0.8M1760.4 278.7h0.8M1760.4 274.4h0.9M1760.5 270.2h0M1760.4 265.9h0.7M1760.7 261.7h0M1761.1 257.4h0M1760.1 253.2h0.9M1761 248.9h0M1760.4 244.7h0.9M1759.9 240.4h1.2M1760.4 236.2h0.9M1760.9 231.9h0M1760.8 227.7h0.7M1760.6 223.4h0.7M1760.3 219.2h0.8M1760.2 214.9h0.8M1760.4 210.7h1.1M1759.9 206.4h1.1M1761.1 202.2h0M1760.2 197.9h1.1M1760.2 193.7h0.9M1759.9 189.4h1M1760.5 185.2h0.9M1760.7 180.9h0M1760.9 176.7h0M1761 172.4h0M1760.6 168.2h1M1760.1 163.9h0.9M1761.1 159.7h0M1760.7 155.4h0.9M1761.1 151.2h0M1760.7 146.9h0M1760.9 142.7h0M1760.4 138.4h0.8M1760.9 134.2h0M1760.5 129.9h0M1760.4 125.7h0.7M1760.8 121.4h0.6M1760.8 112.9h0M1760.6 108.7h0M1760.6 104.4h0M1760.5 100.2h0M1760.9 95.9h0M1749.6 411.6h22.4M1749.6 413.1h22.4M1756.1 377.3h9.4M1756.1 378.8h9.4M1756.1 375.4h9.4M1756.1 376.9h9.4M1757.1 352.3h7.4M1757.1 353.8h7.4M1758.1 350.4h5.4M1758.1 351.9h5.4M1758.1 333.5h5.4M1758.1 335h5.4M1759.1 317.9h3.4M1759.1 319.4h3.4M1759.6 305.4h2.4M1759.6 306.9h2.4M1745.1 465.5h31.4" stroke="#134f8b" stroke-width="4.6" transform="scale(1 0.8)"/>
<path d="M1632.4 238.9h36" stroke="#f9300f" stroke-width="3.2"/>
<path d="M1687.6 328.9h36" stroke="#f9300f" stroke-width="3.2"/>
<path d="M1742.8 282.4h36" stroke="#f9300f" stroke-width="3.2"/>
<path d="M119.3 454H584" stroke="#000" stroke-width="2.4"/>
<text transform="translate(357 441) scale(0.916 1)" text-anchor="middle">HERVK-int</text>
<path d="M97.5 469.9V771.5M85.4 771.5H97.5M85.4 696.5H97.5M85.4 621.5H97.5M85.4 546.5H97.5M85.4 470.5H97.5M85.4 771.5H386.8M133.5 771.5v8.5M187.5 771.5v8.5M241.5 771.5v8.5M295.5 771.5v8.5M350.5 771.5v8.5" stroke="#3a3a3a" stroke-width="1.25"/>
<text transform="translate(73.6 778.7) scale(1.020 1)" text-anchor="end" font-size="23">0</text>
<text transform="translate(73.6 703.6) scale(1.020 1)" text-anchor="end" font-size="23">4</text>
<text transform="translate(73.6 628.5) scale(1.020 1)" text-anchor="end" font-size="23">8</text>
<text transform="translate(75.4 553.4) scale(0.930 1)" text-anchor="end" font-size="23">12</text>
<text transform="translate(75.4 478.3) scale(0.930 1)" text-anchor="end" font-size="23">16</text>
<path class="d" d="M132.5 903.1h1.5M132.2 898.9h2.8M132.9 894.6h1.4M132.5 886.1h1.8M132.6 881.9h1.4M132 877.6h2.9M131.8 873.4h2.8M132 869.1h2.6M132.3 864.9h1.5M132.3 860.6h2.8M132 856.4h2.2M131.8 852.1h2.4M132.2 847.9h1.7M132.5 843.6h1.8M132.2 839.4h2.5M132 835.1h2.2M132.4 830.9h2.1M132.3 826.6h1.9M132.3 822.4h2M132.6 813.9h1.7M132.5 809.6h1.2M132.2 801.1h2.3M132 796.9h2.2M132.9 792.6h1.2M132.7 788.4h1.9M132.7 784.1h1M132.8 779.9h1.4M128.2 942.5h10.4M128.2 944h10.4M128.7 930h9.4M128.7 931.5h9.4M131.2 920.7h4.4M131.2 922.2h4.4M131.2 913.6h4.4M131.2 915.1h4.4M131.2 907h4.4M131.2 908.5h4.4M133.4 698.9h0M133.4 682.5h0M133.4 673.1h0M118.2 964.1h30.4" stroke="#bebebe" stroke-width="5.6" transform="scale(1 0.8)"/>
<path class="d" d="M133.7 748.7h0M133.5 744.4h0M133.3 740.2h0M133.2 731.7h0.7M133.1 727.4h0M133.1 723.2h0M132.9 718.9h0.8" stroke="#bebebe" stroke-width="5.6" transform="scale(1 0.8)"/>
<path class="d" d="M185.7 910.1h3.8M186 905.9h3.8M186.5 901.6h2.7M185.2 897.4h4.1M186.3 893.1h2.9M185.7 888.9h3.7M185.5 884.6h3.6M186 880.4h3.1M186.6 871.9h2.6M186.3 867.6h3.1M186.1 863.4h2.4M186.4 859.1h2M186.4 854.9h1.8M186.1 850.6h3.2M186.3 846.4h1.9M186.7 837.9h2.3M186.5 829.4h2.3M186.2 825.1h2.3M186.6 820.9h1.7M186.8 816.6h1.7M186.2 812.4h2.5M186.6 808.1h2.4M186.1 803.9h2.5M186 799.6h2.5M186.6 795.4h1.6M186.7 791.1h1.6M186.6 786.9h1.9M186.5 782.6h2.6M186.9 778.4h1.2M186.8 774.1h1.5M186.2 769.9h2.2M186.2 765.6h2.5M186.7 757.1h1.3M186.3 752.9h2.1M186.8 740.1h1.7M186.8 735.9h1.5M187.1 727.4h0.8M187.2 723.1h1.2M187.2 714.6h1.6M187 706.1h1.5M187.3 697.6h1M187.4 689.1h0.7M187.9 684.9h0M187 672.1h0.8M176.4 943h22.4M176.4 944.5h22.4M182.4 930h10.4M182.4 931.5h10.4M183.9 920.7h7.4M183.9 922.2h7.4M185.9 913.6h3.4M185.9 915.1h3.4M187.6 639.1h0M187.6 606.2h0M172.4 964.1h30.4" stroke="#92d050" stroke-width="5.6" transform="scale(1 0.8)"/>
<path class="d" d="M241.1 922.3h1.2M240.8 918.1h2.2M241 913.8h1.4M240.9 909.6h1.5M240.5 905.3h2.5M241.1 901.1h1.3M241.3 896.8h1.6M240.5 892.6h2.2M240.7 888.3h2.8M235.6 943.9h12.4M235.6 945.4h12.4M236.6 942.3h10.4M236.6 943.8h10.4M240.1 930.5h3.4M240.1 932h3.4M226.6 964.1h30.4" stroke="#00b050" stroke-width="5.6" transform="scale(1 0.8)"/>
<path class="d" d="M241 868.3h1.2M240.9 864.1h2M240.6 847.1h1.9M241.1 838.6h1.5M241.2 830.1h1.7M241 825.8h1.2M240.9 821.6h1.8M241.2 817.3h1.2M241.7 813.1h0.8M241.2 808.8h1.3M241 800.3h1.5M241 796.1h1.5M240.7 791.8h1.4M241 787.6h1.7M241.2 783.3h1.6M241.2 779.1h0.8M241.2 774.8h1.9M240.7 770.6h1.8M241.1 762.1h2M241 757.8h1.4M241 749.3h1.7M240.5 745.1h1.9" stroke="#00b050" stroke-width="5.6" transform="scale(1 0.8)"/>
<path class="d" d="M241.2 720h1.3M242 715.8h0M241.3 707.3h0.7M241 703.1h1.1M241.3 698.8h0.9M242 690.3h0M241.8 677.6h0M241.6 673.3h0M241.3 664.8h0.7M241.6 656.3h0.8M241.8 647.8h0M241.2 643.6h0.9M241.3 639.3h0.9M241.2 635.1h0.9M241.3 630.8h0.9M241.9 626.6h0" stroke="#00b050" stroke-width="5.6" transform="scale(1 0.8)"/>
<path class="d" d="M293.9 912.9h3.8M293.8 908.7h3.7M293.6 904.4h4.8M293.6 900.2h3.9M294.6 895.9h2.7M294.5 891.7h2.9M294.4 887.4h3.4M294 883.2h4M294.3 878.9h3.1M293.5 874.7h4.1M294.6 870.4h3M294.5 866.2h2.5M294.2 861.9h3.7M295.1 857.7h0.9M295 853.4h1.1M295.5 849.2h1.2M295 844.9h1.5M295.1 840.7h1.1M295.5 836.4h0.7M295.1 832.2h0.9M296 827.9h0M295.3 823.7h1.2M296.1 819.4h0M295.7 815.2h0M295.6 810.9h0.8M288.1 943h15.4M288.1 944.5h15.4M291.1 930h9.4M291.1 931.5h9.4M291.6 920.7h8.4M291.6 922.2h8.4M295.8 792.8h0M295.8 784.6h0M295.8 781.1h0M295.8 774h0M295.8 723.6h0M280.6 964.1h30.4" stroke="#ffd87c" stroke-width="5.6" transform="scale(1 0.8)"/>
<path class="d" d="M347 912.9h5.8M347.3 908.7h5.3M348.6 904.4h3.5M348.1 900.2h3.1M348.5 895.9h3.4M347.5 891.7h5M348.4 887.4h3.8M348.1 883.2h4.1M347.7 878.9h4.6M347.4 874.7h4.6M347.6 870.4h4.7M348.5 866.2h2.5M348.7 861.9h2.4M347.7 857.7h4.4M348.7 853.4h3.2M349.3 849.2h2M349.1 844.9h1.8M348.7 840.7h2.6M348.7 836.4h2.6M349.2 832.2h1.3M349.1 827.9h1.7M349.1 823.7h2M348.6 819.4h2.4M349.3 815.2h2M349 810.9h1.4M349.5 806.7h0.9M349.1 802.4h1.2M349.7 798.2h0.9M349.3 793.9h1.2M350.3 789.7h0M347.8 945.8h4.4M347.8 947.3h4.4M344.8 934h10.4M344.8 935.5h10.4M346.8 925.8h6.4M346.8 927.3h6.4M347.8 918.8h4.4M347.8 920.3h4.4M350 775.2h0M350 736.5h0M334.8 964.1h30.4" stroke="#ff9a00" stroke-width="5.6" transform="scale(1 0.8)"/>
<path d="M115.4 703.7h36" stroke="#f9300f" stroke-width="3.2"/>
<path d="M169.6 692.1h36" stroke="#f9300f" stroke-width="3.2"/>
<path d="M223.8 684h36" stroke="#f9300f" stroke-width="3.2"/>
<path d="M277.8 722.5h36" stroke="#f9300f" stroke-width="3.2"/>
<path d="M332 715.4h36" stroke="#f9300f" stroke-width="3.2"/>
<path d="M444.5 469.9V771.5M434.3 771.5H444.5M434.3 711.5H444.5M434.3 651.5H444.5M434.3 591.5H444.5M434.3 530.5H444.5M434.3 470.5H444.5M434.3 771.5H627.8M481.5 771.5v8.5M536.5 771.5v8.5M591.5 771.5v8.5" stroke="#3a3a3a" stroke-width="1.25"/>
<text transform="translate(422.5 778.7) scale(1.020 1)" text-anchor="end" font-size="23">0</text>
<text transform="translate(422.5 718.6) scale(1.020 1)" text-anchor="end" font-size="23">2</text>
<text transform="translate(422.5 658.5) scale(1.020 1)" text-anchor="end" font-size="23">4</text>
<text transform="translate(422.5 598.5) scale(1.020 1)" text-anchor="end" font-size="23">6</text>
<text transform="translate(422.5 538.4) scale(1.020 1)" text-anchor="end" font-size="23">8</text>
<text transform="translate(424.3 478.3) scale(0.930 1)" text-anchor="end" font-size="23">10</text>
<path class="d" d="M481 795.1h0.6M481.4 790.9h0.8M481 786.6h0.8M480.4 782.4h1.6M481 773.9h1.4M480.7 769.6h1.6M480.6 765.4h2M481.2 761.2h1.3M480.5 756.9h2.6M480.7 752.7h1.9M479.9 744.2h2.8M480.3 739.9h3M480.4 735.7h2.9M480.3 731.4h2M480.6 727.2h1.8M480.1 722.9h2.2M480.9 718.7h1.3M480.6 714.4h2M481.1 710.2h1.3M481.2 705.9h0.9M480.7 701.7h1.1M480.8 697.4h0.7M481.3 693.2h1M481.1 688.9h1.2M481.7 684.7h0M481.2 676.2h0M473 899.5h17M473 901h17M477.5 870.6h8M477.5 872.1h8M480 852.6h3M480 854.1h3M477.5 838.3h8M477.5 839.8h8M479 827.1h5M479 828.6h5M479.5 818.1h4M479.5 819.6h4M481 810.5h1M481 812h1M480.5 803.8h2M480.5 805.3h2M480.5 797.4h2M480.5 798.9h2M481.5 645h0M481.5 643.1h0M481.5 633.7h0M481.5 622.4h0M481.5 618.7h0M481.5 598h0M481.5 590.5h0M466 964.1h31" stroke="#add9e4" stroke-width="5.0" transform="scale(1 0.8)"/>
<path class="d" d="M480.8 660.9h1.2M481 656.6h1.3M481.2 652.4h1.3" stroke="#add9e4" stroke-width="5.0" transform="scale(1 0.8)"/>
<path class="d" d="M534.3 866.5h4.3M533.9 862.2h5.6M533.6 858h5.3M534.2 853.7h3.8M535.1 849.5h3.1M534.4 845.2h4.1M534.2 841h4.2M536.3 836.7h0.9M536 832.5h1.6M535.6 828.2h1.7M535.9 824h1.3M535.9 819.7h1.7M536 815.5h1.2M535.5 811.2h1.5M536 807h1.3M535.2 802.7h2M534.8 798.5h2.9M532.9 794.2h7M535.3 790h2.5M535.2 785.7h3M534.9 781.5h3.1M535 777.2h2.3M535.3 773h2.2M534.8 768.7h2.8M535.1 764.5h2.1M534.4 760.2h3.4M535.1 756h2.5M534.7 751.7h3.3M535.1 747.5h3.2M535.1 743.2h3M535.5 739h1.9M534.8 734.7h2.5M535 730.5h2.6M534.6 726.2h3.2M535.4 722h2.5M534.8 717.7h2.6M534.8 713.5h2.8M535.3 709.2h2.6M535 705h2.5M535.5 700.7h1.7M536.2 696.5h0M530.9 922.1h11M530.9 923.6h11M528.4 909.7h16M528.4 911.2h16M529.4 898.4h14M529.4 899.9h14M534.9 890.2h3M534.9 891.7h3M533.4 882.6h6M533.4 884.1h6M534.4 875.9h4M534.4 877.4h4M534.9 869.5h3M534.9 871h3M536.4 676.9h0M536.4 669.4h0M536.4 654.3h0M520.9 964.1h31" stroke="#4698db" stroke-width="5.0" transform="scale(1 0.8)"/>
<path class="d" d="M590.2 855.2h2.4M590.2 851h2.1M590.2 846.7h2.6M589.2 842.5h3.5M590 838.2h2.4M589.8 834h3.4M589.9 829.7h3.4M589.8 825.5h3.3M589.9 821.2h3.2M589.4 817h3.6M589.8 808.5h3.1M590 804.2h2.5M589.4 800h3.5M590 795.7h2.7M589.9 791.5h2.6M589.8 787.2h3.5M589.3 783h3.6M589.7 778.7h3.6M589.7 774.5h2.6M589.6 770.2h4.1M590.2 766h2.7M589.5 761.7h3.1M589.1 757.5h4.7M589 753.2h4.9M589.6 749h3.3M589 744.7h4.8M589.1 740.5h5.1M589.6 736.2h3.8M589.5 732h4.2M589.2 727.7h4.5M589.1 723.5h4.7M589.6 719.2h2.9M589.6 715h3.6M589.3 710.7h3.9M588.6 706.5h4.8M589.8 698h2.6M590.3 693.7h2.5M589.8 689.5h3M590.4 685.2h2M590.2 681h1.7M582.8 930.7h17M582.8 932.2h17M584.3 910.8h14M584.3 912.3h14M588.8 895.8h5M588.8 897.3h5M589.8 892h3M589.8 893.5h3M583.8 884.5h15M583.8 886h15M585.8 875.1h11M585.8 876.6h11M584.8 866.5h13M584.8 868h13M587.8 859h7M587.8 860.5h7M591.3 637.4h0M591.3 628.1h0M591.3 592.4h0M575.8 964.1h31" stroke="#134f8b" stroke-width="5.0" transform="scale(1 0.8)"/>
<path d="M463.5 637h36" stroke="#f9300f" stroke-width="3.2"/>
<path d="M518.4 668h36" stroke="#f9300f" stroke-width="3.2"/>
<path d="M573.3 665h36" stroke="#f9300f" stroke-width="3.2"/>
<path d="M707 454H1171.3" stroke="#000" stroke-width="2.4"/>
<text transform="translate(933.5 441) scale(0.865 1)" text-anchor="middle">LTR12C</text>
<path d="M686.5 469.9V771.5M674.6 771.5H686.5M674.6 696.5H686.5M674.6 621.5H686.5M674.6 546.5H686.5M674.6 470.5H686.5M674.6 771.5H978.8M723.5 771.5v8.5M777.5 771.5v8.5M832.5 771.5v8.5M887.5 771.5v8.5M942.5 771.5v8.5" stroke="#3a3a3a" stroke-width="1.25"/>
<text transform="translate(662.8 778.7) scale(1.020 1)" text-anchor="end" font-size="23">0</text>
<text transform="translate(662.8 703.6) scale(1.020 1)" text-anchor="end" font-size="23">2</text>
<text transform="translate(662.8 628.5) scale(1.020 1)" text-anchor="end" font-size="23">4</text>
<text transform="translate(662.8 553.4) scale(1.020 1)" text-anchor="end" font-size="23">6</text>
<text transform="translate(662.8 478.3) scale(1.020 1)" text-anchor="end" font-size="23">8</text>
<path class="d" d="M722.9 828h0M722.8 823.8h0.8M722.8 819.5h0.8M723.5 815.3h0M723.5 811h0M723.5 806.8h0M722.9 802.5h0M723 798.3h0M723.1 794h0M723.5 789.8h0M722.9 785.5h0.7M723 781.3h0.8M722.8 777h0.7M722.9 772.8h0M723.3 768.5h0M722.9 764.3h0M723 760h0M723 755.8h0M723.1 751.5h0.8M723.3 747.3h0M723.4 743h0M722.8 738.8h0.8M723.3 734.5h0M723.1 730.3h0M723.3 726h0M723.4 721.8h0M723.2 717.5h0M723.5 713.3h0M723.1 709h0M722.9 704.8h0M723.2 700.5h0.6M722.9 696.3h0M723 692h0M723 687.8h0M722.5 683.5h0.8M722.9 679.3h0.8M722.8 675h0.8M723.1 670.8h0M723.1 666.5h0M723 662.3h0.8M723.5 658h0M723.1 653.8h0M723.5 649.5h0M723.1 645.3h0M723 641h0M722.9 636.8h0M723.3 632.5h0M723.3 628.3h0M723.5 624h0M723.5 619.8h0M722.9 615.5h0M723.1 611.3h0.8M723.2 607h0M722.9 602.8h0.7M720.5 922.1h5.4M720.5 923.6h5.4M721 896.7h4.4M721 898.2h4.4M722.5 877.9h1.4M722.5 879.4h1.4M722.5 863.9h1.4M722.5 865.4h1.4M722 851.7h2.4M722 853.2h2.4M722.5 841.3h1.4M722.5 842.8h1.4M722.5 832.9h1.4M722.5 834.4h1.4M723.2 595.7h0M723.2 588.6h0M708 964.1h30.4" stroke="#bebebe" stroke-width="5.6" transform="scale(1 0.8)"/>
<path class="d" d="M777.4 828h0M777 823.8h1.2M777.7 819.5h0M777.7 815.3h0M777.2 811h0.9M777.1 806.8h1M777.9 802.5h0M777.4 798.3h0M777 794h1.2M777.6 789.8h0M777 785.5h1.1M777.3 781.3h0.8M777.4 777h0M777.7 772.8h0M777 768.5h0.7M777.3 764.3h1M777.2 760h0.9M777.9 755.8h0M777.9 751.5h0M777.5 747.3h0.6M777.6 743h0M777.6 738.8h0M777.9 734.5h0M777.4 730.3h0M777.8 726h0M777.2 721.8h1.1M776.9 717.5h1M777.2 713.3h1M777.4 709h0.6M777.2 704.8h0.6M777.7 700.5h0M777.5 696.3h0M777.3 692h0M777.3 687.8h0M777.1 683.5h1M777.4 679.3h0.8M777.5 675h0M777.2 670.8h0.8M777.7 666.5h0M777.9 662.3h0M777.7 658h0M777.6 653.8h0M777.9 649.5h0M777.3 645.3h0.8M777 641h0.8M777.7 636.8h0M777.9 632.5h0M777.8 628.3h0M777.4 624h0M777.3 619.8h0.8M777.6 615.5h0M774.9 922.5h5.4M774.9 924h5.4M774.9 896.7h5.4M774.9 898.2h5.4M776.4 878.9h2.4M776.4 880.4h2.4M776.4 863.9h2.4M776.4 865.4h2.4M776.4 851.7h2.4M776.4 853.2h2.4M776.9 841.3h1.4M776.9 842.8h1.4M776.9 832.9h1.4M776.9 834.4h1.4M762.4 964.1h30.4" stroke="#92d050" stroke-width="5.6" transform="scale(1 0.8)"/>
<path class="d" d="M777.4 605.1h0.6M777.5 600.8h0.6M777.5 596.6h0M777.5 592.3h0.7" stroke="#92d050" stroke-width="5.6" transform="scale(1 0.8)"/>
<path class="d" d="M831.7 900.8h0.7M832.5 896.5h0M832.4 892.3h0M832.3 888h0.7M832.5 883.8h0M832.6 879.5h0M832.4 875.3h0M830.1 924.9h4.4M830.1 926.4h4.4M830.1 920.2h4.4M830.1 921.7h4.4M817.1 964.1h30.4" stroke="#00b050" stroke-width="5.6" transform="scale(1 0.8)"/>
<path class="d" d="M831.9 863.7h1M831.8 859.4h0.6M832.4 855.2h0M832.2 850.9h0M832.6 846.7h0M831.6 842.4h1.1M832.2 838.2h0.6M832.5 833.9h0M832.2 829.7h0.8M832.2 825.4h0.7M831.4 821.2h1.3M831.7 816.9h1M832.1 812.7h0.9M831.5 808.4h1.1M831.6 804.2h1M832.5 799.9h0M832.3 795.7h0M831.7 791.4h1M831.7 787.2h1.1M831.5 782.9h0.9M832.1 778.7h0.7M832.1 774.4h0M831.9 770.2h0.8M831.7 765.9h0.7M832.5 761.7h0M832.6 757.4h0M831.7 753.2h0.7M831.7 748.9h1M832.6 744.7h0M832.1 740.4h1.1M831.6 736.2h0.6M832.6 731.9h0M832.5 727.7h0M831.7 723.4h0.7M832.6 719.2h0M832.2 714.9h0M832.2 710.7h0M832.2 706.4h0.6M832.2 702.2h0.7M832.2 697.9h0M832.3 693.7h0M832.1 689.4h0M832.5 685.2h0M832 680.9h0M832 676.7h0M832 672.4h0.6M832.2 668.2h0M832.4 663.9h0M832.2 659.7h0.8M832.5 655.4h0M832.3 651.2h0M832.6 646.9h0M832.2 642.7h0.9M832.1 638.4h0.8M832.1 634.2h0M831.9 629.9h0.7M832.4 625.7h0M832 621.4h0M832 617.2h0M832.4 612.9h0M832.2 608.7h0M832.6 604.4h0M832.5 600.2h0M832.1 595.9h0" stroke="#00b050" stroke-width="5.6" transform="scale(1 0.8)"/>
<path class="d" d="M886.9 828h0.8M886.9 823.8h0.7M887.4 819.5h0M887 815.3h0.8M887.2 811h0M886.2 806.8h1.2M886.8 802.5h0.7M886.8 798.3h0.6M886.9 794h0M887 789.8h0M886.9 785.5h1M886.6 781.3h1M886.8 777h1M887.4 772.8h0M887 768.5h0M886.8 764.3h0M886.9 760h0M887 755.8h0M886.9 751.5h1.1M886.8 747.3h0M887 743h0M887.3 738.8h0M887.2 734.5h0M886.4 730.3h1M886.8 726h1.1M886.9 721.8h0M887 717.5h0.8M886.9 713.3h0.8M886.7 709h1.1M886.9 704.8h0.7M886.7 700.5h0.8M886.7 696.3h0.8M887.4 692h0M887.3 687.8h0M887 683.5h0.7M887 679.3h0.7M886.6 675h0.9M887.2 670.8h0M886.4 666.5h0.7M887 662.3h0M887.2 658h0M886.9 653.8h0.9M887 649.5h0.6M887.1 645.3h0.6M886.6 641h0.8M886.9 636.8h0M887.2 632.5h0M886.9 628.3h0.8M887.4 624h0M886.8 619.8h0M887.2 615.5h0M887.1 611.3h0.7M886.6 607h0.7M886.5 602.8h0.9M886.6 598.5h0.7M887.2 594.3h0M887 590h0.6M880.9 921.1h12.4M880.9 922.6h12.4M884.9 895.3h4.4M884.9 896.8h4.4M885.9 876.5h2.4M885.9 878h2.4M885.9 862.5h2.4M885.9 864h2.4M886.4 850.7h1.4M886.4 852.2h1.4M886.4 841.3h1.4M886.4 842.8h1.4M886.4 831.9h1.4M886.4 833.4h1.4M871.9 964.1h30.4" stroke="#ffd87c" stroke-width="5.6" transform="scale(1 0.8)"/>
<path class="d" d="M940.3 837.4h3.2M939.9 833.1h4.2M939.6 828.9h4.2M940 824.6h3.3M939.9 820.4h4.5M940.2 816.1h3.5M941 811.9h2.4M940.2 807.6h4M940.3 803.4h2.9M940.9 799.1h2.4M940.7 794.9h2.1M940.6 790.6h3.2M939.9 786.4h3.6M940.6 782.1h3.2M940.7 777.9h2.1M940.9 773.6h2.5M941.1 769.4h1.7M940.9 765.1h2M940.5 760.9h3.4M940.1 756.6h3.2M940.6 752.4h2.2M940.5 748.1h3M940.6 743.9h2.1M940.9 739.6h2.7M941 735.4h2.5M940.8 731.1h1.8M941.2 726.9h1.5M941.2 722.6h1.3M941 718.4h1.6M941 714.1h1.4M941.5 709.9h1.2M941.3 705.6h1.1M941.7 701.4h1.2M941.1 697.1h2.2M940.9 692.9h2.1M940.9 688.6h2M941 684.4h1.9M941.5 680.1h0.8M941.1 675.9h1.4M941.3 671.6h1.6M941.7 667.4h1.1M941.4 663.1h1.1M941.7 658.9h0.7M941.5 654.6h1.1M941.4 650.4h1.6M941.4 646.1h0.8M941.5 641.9h1.1M941.6 637.6h1.3M941.2 633.4h1.1M942 629.1h0M941.1 624.9h1.2M941.4 620.6h1.2M941.3 616.4h0.7M941.8 612.1h0.9M941.4 607.9h0.7M942.1 603.6h0M941.6 599.4h0.9M941.7 595.1h0.7M941.8 590.9h0.7M932.8 929.1h18.4M932.8 930.6h18.4M935.3 904.7h13.4M935.3 906.2h13.4M935.3 888.3h13.4M935.3 889.8h13.4M938.8 874.2h6.4M938.8 875.7h6.4M938.3 862.5h7.4M938.3 864h7.4M937.8 852.1h8.4M937.8 853.6h8.4M938.8 843.7h6.4M938.8 845.2h6.4M926.8 964.1h30.4" stroke="#ff9a00" stroke-width="5.6" transform="scale(1 0.8)"/>
<path d="M705.2 704.8h36" stroke="#f9300f" stroke-width="3.2"/>
<path d="M759.6 701.5h36" stroke="#f9300f" stroke-width="3.2"/>
<path d="M814.3 712h36" stroke="#f9300f" stroke-width="3.2"/>
<path d="M869.1 696.2h36" stroke="#f9300f" stroke-width="3.2"/>
<path d="M924 668.8h36" stroke="#f9300f" stroke-width="3.2"/>
<path d="M1029.5 469.9V771.5M1019.4 771.5H1029.5M1019.4 671.5H1029.5M1019.4 571.5H1029.5M1019.4 470.5H1029.5M1019.4 771.5H1213.9M1066.5 771.5v8.5M1121.5 771.5v8.5M1177.5 771.5v8.5" stroke="#3a3a3a" stroke-width="1.25"/>
<text transform="translate(1007.6 778.7) scale(1.020 1)" text-anchor="end" font-size="23">0</text>
<text transform="translate(1007.6 678.6) scale(1.020 1)" text-anchor="end" font-size="23">2</text>
<text transform="translate(1007.6 578.4) scale(1.020 1)" text-anchor="end" font-size="23">4</text>
<text transform="translate(1007.6 478.3) scale(1.020 1)" text-anchor="end" font-size="23">6</text>
<path class="d" d="M1066.8 601.1h0M1066.6 596.9h0M1066.5 592.6h0M1059.5 857h14.4M1059.5 858.5h14.4M1064 808.8h5.4M1064 810.3h5.4M1066 778.8h1.4M1066 780.3h1.4M1066 755h1.4M1066 756.5h1.4M1066.7 737.6h0M1066.7 721.9h0M1066.7 709.4h0M1066.7 698.1h0M1066.7 688.8h0M1066.7 679.4h0M1066.7 671.9h0M1066.7 663.7h0M1066.7 657.5h0M1066.7 651.2h0M1066.7 645h0M1066.7 638.7h0M1066.7 632.4h0M1066.7 626.2h0M1066.7 619.9h0M1066.7 613.7h0M1066.7 608.7h0M1051 964.1h31.4" stroke="#add9e4" stroke-width="4.6" transform="scale(1 0.8)"/>
<path class="d" d="M1121.3 781.4h1.4M1120.8 777.1h1.5M1120.8 772.9h1.5M1121.4 768.6h1.1M1121.5 764.4h1.2M1121.1 760.1h1.7M1120.9 755.9h1.4M1121.4 751.6h1.1M1121 747.4h1.4M1120.8 743.1h1.3M1120.8 738.9h1.4M1120.9 734.6h1.3M1121.1 730.4h1.1M1121 726.1h1M1121 721.9h1.2M1121.4 717.6h1.2M1121.7 713.4h0.6M1121.7 709.1h0.8M1120.9 704.9h1.3M1121.6 700.6h0.6M1121.2 696.4h0.6M1121.2 692.1h1.3M1121.9 687.9h0M1121.7 683.6h0.8M1122 679.4h0M1121.5 675.1h1.1M1121.7 670.9h0M1121.7 666.6h0M1121.5 662.4h0M1121.7 658.1h0M1121.3 653.9h0.6M1121.3 649.6h0.7M1121.6 645.4h0.6M1121.7 641.1h0.7M1121.7 636.9h0M1121.6 632.6h0.6M1121.6 628.4h0M1121.8 624.1h0M1121.1 619.9h0.7M1121.5 615.6h0M1121.7 611.4h0M1121.5 607.1h0.6M1121.8 602.9h0M1121.9 598.6h0M1122 594.4h0M1122.1 590.1h0M1112.6 893.3h18.4M1112.6 894.8h18.4M1115.6 873.9h12.4M1115.6 875.4h12.4M1118.6 855.1h6.4M1118.6 856.6h6.4M1118.1 841.3h7.4M1118.1 842.8h7.4M1118.6 828.8h6.4M1118.6 830.3h6.4M1119.1 826.3h5.4M1119.1 827.8h5.4M1119.6 817.6h4.4M1119.6 819.1h4.4M1119.6 806.9h4.4M1119.6 808.4h4.4M1120.6 798.8h2.4M1120.6 800.3h2.4M1121.1 791.3h1.4M1121.1 792.8h1.4M1121.1 785h1.4M1121.1 786.5h1.4M1106.1 964.1h31.4" stroke="#4698db" stroke-width="4.6" transform="scale(1 0.8)"/>
<path class="d" d="M1175.7 776.4h2.5M1175.5 772.1h3.3M1176 767.9h2.4M1175.8 763.6h3.2M1175.5 759.4h2.8M1176.3 755.1h2.6M1176.2 750.9h1.5M1176.2 746.6h2.3M1176.2 742.4h1.8M1176.5 738.1h1.8M1176.6 733.9h2M1176.3 729.6h1.6M1175.9 725.4h2.5M1176.6 721.1h1.7M1176.4 716.9h2M1176.3 712.6h1.4M1176.4 708.4h2M1176.8 704.1h1.5M1176 699.9h2.1M1176.4 695.6h1.8M1176.2 691.4h2.1M1176.4 687.1h1M1176.7 682.9h1.7M1176.5 678.6h2M1176.4 674.4h1.3M1177 670.1h1M1176.9 665.9h1.1M1177 661.6h0.9M1176.8 657.4h0.7M1176.7 653.1h0.9M1176.7 648.9h1.3M1176.9 644.6h0.9M1176.6 640.4h1M1176.9 636.1h0M1176.7 631.9h1M1176.9 627.6h1.2M1176.4 623.4h1M1176.5 619.1h0.8M1176.9 614.9h0M1176.9 610.6h0M1177.3 606.4h0M1176.8 602.1h0.6M1177.1 597.9h0M1176.9 593.6h0M1163.8 910.2h26.8M1163.8 911.7h26.8M1164.8 907h24.8M1164.8 908.5h24.8M1161.8 875.8h30.8M1161.8 877.3h30.8M1161.8 872.6h30.8M1161.8 874.1h30.8M1171.8 878.3h10.8M1171.8 879.8h10.8M1164.8 853.9h24.8M1164.8 855.4h24.8M1164.8 850.7h24.8M1164.8 852.2h24.8M1174.8 847h4.8M1174.8 848.5h4.8M1171.8 831.9h10.8M1171.8 833.4h10.8M1171.8 828.8h10.8M1171.8 830.3h10.8M1173.8 834.5h6.8M1173.8 836h6.8M1170.8 817.6h12.8M1170.8 819.1h12.8M1170.8 814.4h12.8M1170.8 815.9h12.8M1173.8 811.3h6.8M1173.8 812.8h6.8M1173.8 803.8h6.8M1173.8 805.3h6.8M1174.8 799.4h4.8M1174.8 800.9h4.8M1175.3 791.3h3.8M1175.3 792.8h3.8M1175.3 788.1h3.8M1175.3 789.6h3.8M1175.3 781.9h3.8M1175.3 783.4h3.8M1175.3 778.8h3.8M1175.3 780.3h3.8M1163.8 964.1h26.8" stroke="#134f8b" stroke-width="5.2" transform="scale(1 0.8)"/>
<path d="M1048.7 711.2h36" stroke="#f9300f" stroke-width="3.2"/>
<path d="M1103.8 684.2h36" stroke="#f9300f" stroke-width="3.2"/>
<path d="M1159.2 674.2h36" stroke="#f9300f" stroke-width="3.2"/>
<path d="M1296.5 454H1760.8" stroke="#000" stroke-width="2.4"/>
<text transform="translate(1523 441) scale(0.821 1)" text-anchor="middle">SST1</text>
<path d="M1269.5 469.9V771.5M1257.4 771.5H1269.5M1257.4 671.5H1269.5M1257.4 571.5H1269.5M1257.4 470.5H1269.5M1257.4 771.5H1562M1305.5 771.5v8.5M1360.5 771.5v8.5M1415.5 771.5v8.5M1470.5 771.5v8.5M1524.5 771.5v8.5" stroke="#3a3a3a" stroke-width="1.25"/>
<text transform="translate(1245.6 778.7) scale(1.020 1)" text-anchor="end" font-size="23">0</text>
<text transform="translate(1245.6 678.6) scale(1.020 1)" text-anchor="end" font-size="23">2</text>
<text transform="translate(1245.6 578.4) scale(1.020 1)" text-anchor="end" font-size="23">4</text>
<text transform="translate(1245.6 478.3) scale(1.020 1)" text-anchor="end" font-size="23">6</text>
<path class="d" d="M1304.1 908.3h3.4M1304.1 909.8h3.4M1304.6 874.5h2.4M1304.6 876h2.4M1305.8 851.5h0M1305.8 848.3h0M1305.8 832.7h0M1305.8 829.6h0M1305.8 813.9h0M1305.8 801.4h0M1305.8 788.9h0M1305.8 770.1h0M1305.8 760.7h0M1305.8 738.8h0M1305.8 729.4h0M1305.8 723.2h0M1305.8 691.9h0M1305.8 685.6h0M1305.8 679.4h0M1305.8 676.2h0M1305.8 660.6h0M1305.8 654.3h0M1305.8 645h0M1305.8 635.6h0M1305.8 598h0M1305.8 593h0M1305.8 589.9h0M1290.6 964.1h30.4" stroke="#bebebe" stroke-width="5.6" transform="scale(1 0.8)"/>
<path class="d" d="M1358.5 908.9h4.4M1358.5 910.4h4.4M1358.5 874.5h4.4M1358.5 876h4.4M1359.5 872.6h2.4M1359.5 874.1h2.4M1360.7 852.7h0M1360.7 848.3h0M1360.7 831.4h0M1360.7 829.6h0M1360.7 815.2h0M1360.7 802.7h0M1360.7 792h0M1360.7 788.9h0M1360.7 782.6h0M1360.7 779.5h0M1360.7 773.2h0M1360.7 770.1h0M1360.7 763.9h0M1360.7 760.7h0M1360.7 754.5h0M1360.7 751.3h0M1360.7 745.1h0M1360.7 732.6h0M1360.7 729.4h0M1360.7 723.2h0M1360.7 713.8h0M1360.7 710.7h0M1360.7 707.5h0M1360.7 704.4h0M1360.7 701.3h0M1360.7 695h0M1360.7 676.2h0M1360.7 651.2h0M1360.7 648.1h0M1360.7 626.2h0M1360.7 616.8h0M1360.7 591.8h0M1345.5 964.1h30.4" stroke="#92d050" stroke-width="5.6" transform="scale(1 0.8)"/>
<path class="d" d="M1415.3 835.8h0M1414.9 831.6h0M1415.1 827.3h0M1415 823.1h0M1414.9 818.8h0M1414.9 810.3h0M1415.5 806.1h0M1415.5 801.8h0M1415 797.6h0M1415.4 793.3h0M1415.2 789.1h0M1415.2 784.8h0M1415.2 780.6h0M1415.5 776.3h0M1415.3 772.1h0M1415.2 767.8h0M1414.9 759.3h0M1415 750.8h0M1413.5 912.1h3.4M1413.5 913.6h3.4M1414 905.8h2.4M1414 907.3h2.4M1415.2 879.6h0M1415.2 875.3h0M1415.2 871.5h0M1415.2 854.6h0M1415.2 851.5h0M1415.2 645h0M1415.2 626.2h0M1415.2 619.9h0M1400 964.1h30.4" stroke="#00b050" stroke-width="5.6" transform="scale(1 0.8)"/>
<path class="d" d="M1414.9 732.6h0M1414.9 728.3h0M1415.4 724.1h0M1415 715.6h0M1415.5 711.3h0M1415.2 707.1h0M1415.1 702.8h0M1414.9 694.3h0M1415 690.1h0M1415.2 685.8h0M1415.5 681.6h0M1415.4 677.3h0M1415.2 673.1h0M1415.5 668.8h0M1415.5 660.3h0M1415.2 656.1h0" stroke="#00b050" stroke-width="5.6" transform="scale(1 0.8)"/>
<path class="d" d="M1469.8 809.7h0M1470 805.4h0M1470 801.2h0M1469.7 796.9h0M1470 792.7h0M1470.2 788.4h0M1470 784.2h0M1470.1 775.7h0M1470.3 771.4h0M1470 762.9h0M1469.8 754.4h0M1470 750.2h0M1470.3 745.9h0M1470.3 741.7h0M1466.3 908.3h7.4M1466.3 909.8h7.4M1467.8 903.9h4.4M1467.8 905.4h4.4M1467.8 872.6h4.4M1467.8 874.1h4.4M1467.8 869.5h4.4M1467.8 871h4.4M1469.3 847.6h1.4M1469.3 849.1h1.4M1469.3 844.5h1.4M1469.3 846h1.4M1469.8 828.8h0.4M1469.8 830.3h0.4M1469.8 825.7h0.4M1469.8 827.2h0.4M1470 601.1h0M1470 594.9h0M1470 591.8h0M1454.8 964.1h30.4" stroke="#ffd87c" stroke-width="5.6" transform="scale(1 0.8)"/>
<path class="d" d="M1469.7 724.1h0M1470.3 719.8h0M1469.8 702.8h0M1470.3 698.6h0M1469.8 694.3h0M1469.7 681.6h0M1469.9 673.1h0M1470.3 664.6h0M1470.1 660.3h0M1469.7 647.6h0M1470.2 634.8h0" stroke="#ffd87c" stroke-width="5.6" transform="scale(1 0.8)"/>
<path class="d" d="M1524.6 778.4h0M1524.2 774.1h1.2M1524.4 769.9h0.7M1524.3 765.6h1.1M1524.1 761.4h1.1M1524.9 757.1h0M1524.5 752.9h0M1524.1 748.6h0.8M1524.1 744.4h0.7M1524.6 740.1h0M1524.4 735.9h0.9M1523.9 731.6h0.8M1524.9 727.4h0M1524.9 723.1h0M1524.4 718.9h0.9M1524.4 714.6h0M1524.6 710.4h0.7M1523.9 706.1h0.9M1524.5 701.9h0M1523.8 697.6h1M1524.2 693.4h0.9M1524.2 689.1h0.9M1524.3 684.9h0M1524.1 680.6h0.9M1524.8 676.4h0M1524.2 672.1h0.7M1524.4 667.9h0.8M1524 663.6h0.7M1524.4 655.1h0M1524.5 650.9h0M1524.3 646.6h0M1509.4 917.7h30.4M1509.4 919.2h30.4M1509.4 914.6h30.4M1509.4 916.1h30.4M1520.9 885.1h7.4M1520.9 886.6h7.4M1522.4 882h4.4M1522.4 883.5h4.4M1520.4 863.2h8.4M1520.4 864.7h8.4M1521.9 860.1h5.4M1521.9 861.6h5.4M1521.4 844.5h6.4M1521.4 846h6.4M1523.4 841.3h2.4M1523.4 842.8h2.4M1523.4 828.8h2.4M1523.4 830.3h2.4M1523.4 825.7h2.4M1523.4 827.2h2.4M1522.9 815.1h3.4M1522.9 816.6h3.4M1524.4 803.8h0.4M1524.4 805.3h0.4M1523.4 794.4h2.4M1523.4 795.9h2.4M1522.9 788.1h3.4M1522.9 789.6h3.4M1524.6 632.4h0M1524.6 626.2h0M1524.6 591.8h0M1515.4 964.1h18.4" stroke="#ff9a00" stroke-width="5.6" transform="scale(1 0.8)"/>
<path d="M1287.8 697.7h36" stroke="#f9300f" stroke-width="3.2"/>
<path d="M1342.7 684.2h36" stroke="#f9300f" stroke-width="3.2"/>
<path d="M1397.2 673.2h36" stroke="#f9300f" stroke-width="3.2"/>
<path d="M1452 651.1h36" stroke="#f9300f" stroke-width="3.2"/>
<path d="M1506.6 619.6h36" stroke="#f9300f" stroke-width="3.2"/>
<path d="M1614.5 469.9V771.5M1603.5 771.5H1614.5M1603.5 696.5H1614.5M1603.5 621.5H1614.5M1603.5 546.5H1614.5M1603.5 470.5H1614.5M1603.5 771.5H1795.6M1650.5 771.5v8.5M1705.5 771.5v8.5M1759.5 771.5v8.5" stroke="#3a3a3a" stroke-width="1.25"/>
<text transform="translate(1591.7 778.7) scale(1.020 1)" text-anchor="end" font-size="23">0</text>
<text transform="translate(1591.7 703.6) scale(1.020 1)" text-anchor="end" font-size="23">2</text>
<text transform="translate(1591.7 628.5) scale(1.020 1)" text-anchor="end" font-size="23">4</text>
<text transform="translate(1591.7 553.4) scale(1.020 1)" text-anchor="end" font-size="23">6</text>
<text transform="translate(1591.7 478.3) scale(1.020 1)" text-anchor="end" font-size="23">8</text>
<path class="d" d="M1648.7 883.6h3.4M1648.7 885.1h3.4M1650.4 848.2h0M1650.4 773.1h0M1650.4 764.6h0M1650.4 743.5h0M1650.4 729.4h0M1650.4 720h0M1650.4 715.4h0M1650.4 710.7h0M1650.4 701.3h0M1650.4 696.6h0M1650.4 689.5h0M1650.4 677.8h0M1650.4 673.1h0M1650.4 668.4h0M1650.4 666.1h0M1650.4 661.4h0M1650.4 649.6h0M1650.4 640.3h0M1650.4 626.2h0M1650.4 612.1h0M1650.4 598h0M1650.4 591h0M1634.7 964.1h31.4" stroke="#add9e4" stroke-width="4.6" transform="scale(1 0.8)"/>
<path class="d" d="M1705.4 650.1h0M1705.2 645.8h0M1705.2 641.6h0M1704.9 637.3h0M1705 633.1h0M1705.1 628.8h0M1705.1 624.6h0M1700 910.8h10.4M1700 912.3h10.4M1703 896.3h4.4M1703 897.8h4.4M1705.2 882.9h0M1705.2 872.6h0M1705.2 863.2h0M1705.2 854.8h0M1705.2 846.8h0M1705.2 840.7h0M1705.2 823.3h0M1705.2 813.9h0M1705.2 806.9h0M1705.2 792.8h0M1705.2 785.8h0M1705.2 778.7h0M1705.2 771.7h0M1705.2 767h0M1705.2 750.6h0M1705.2 729.4h0M1705.2 727.1h0M1705.2 713h0M1705.2 706h0M1705.2 687.2h0M1705.2 682.5h0M1705.2 677.8h0M1705.2 668.4h0M1705.2 663.7h0M1689.5 964.1h31.4" stroke="#4698db" stroke-width="4.6" transform="scale(1 0.8)"/>
<path class="d" d="M1751.7 923.5h16.4M1751.7 925h16.4M1752.2 921.1h15.4M1752.2 922.6h15.4M1754.2 897.7h11.4M1754.2 899.2h11.4M1756.2 895.3h7.4M1756.2 896.8h7.4M1757.7 878.9h4.4M1757.7 880.4h4.4M1757.7 876.5h4.4M1757.7 878h4.4M1758.7 864.8h2.4M1758.7 866.3h2.4M1759.2 862.5h1.4M1759.2 864h1.4M1758.7 855.4h2.4M1758.7 856.9h2.4M1759.2 850.7h1.4M1759.2 852.2h1.4M1759.7 843.7h0.4M1759.7 845.2h0.4M1759.7 836.6h0.4M1759.7 838.1h0.4M1759.7 831.9h0.4M1759.7 833.4h0.4M1759.9 809.2h0M1759.9 802.2h0M1759.9 790.5h0M1759.9 788.1h0M1759.9 785.8h0M1759.9 778.7h0M1759.9 750.6h0M1759.9 745.9h0M1759.9 731.8h0M1759.9 727.1h0M1759.9 710.7h0M1759.9 701.3h0M1759.9 696.6h0M1759.9 691.9h0M1759.9 687.2h0M1759.9 684.8h0M1759.9 680.2h0M1759.9 675.5h0M1759.9 673.1h0M1759.9 670.8h0M1759.9 659h0M1759.9 649.6h0M1759.9 642.6h0M1759.9 633.2h0M1759.9 609.7h0M1759.9 600.4h0M1744.2 964.1h31.4" stroke="#134f8b" stroke-width="4.6" transform="scale(1 0.8)"/>
<path d="M1632.4 657.9h36" stroke="#f9300f" stroke-width="3.2"/>
<path d="M1687.2 636.9h36" stroke="#f9300f" stroke-width="3.2"/>
<path d="M1741.9 637.2h36" stroke="#f9300f" stroke-width="3.2"/>
<text transform="translate(24.3 220.6) rotate(-90) scale(0.929 1)" text-anchor="middle"><tspan dy="0">log</tspan><tspan dy="5.3" font-size="16.3">2</tspan><tspan dy="-5.3">(NC + 1)</tspan></text>
<text transform="translate(24.3 619.6) rotate(-90) scale(0.929 1)" text-anchor="middle"><tspan dy="0">log</tspan><tspan dy="5.3" font-size="16.3">2</tspan><tspan dy="-5.3">(NC + 1)</tspan></text>
<rect x="1806" y="82.5" width="35" height="33.2" fill="#bebebe" stroke="#000" stroke-width="2"/>
<text transform="translate(1855.2 107.3) scale(0.981 1)">4i ES cell</text>
<rect x="1806" y="115.7" width="35" height="33.2" fill="#92d050" stroke="#000" stroke-width="2"/>
<text transform="translate(1855.2 140.5) scale(0.931 1)"><tspan dy="0">N3</tspan><tspan dy="-9.5" font-size="16.3">+</tspan><tspan dy="9.5">PGCLC</tspan></text>
<rect x="1806" y="148.9" width="35" height="33.2" fill="#00b050" stroke="#000" stroke-width="2"/>
<text transform="translate(1855.2 173.7) scale(0.925 1)"><tspan dy="0">DM</tspan><tspan dy="-9.5" font-size="16.3">+</tspan><tspan dy="9.5">PGCLC</tspan></text>
<rect x="1806" y="182.1" width="35" height="33.2" fill="#ffd87c" stroke="#000" stroke-width="2"/>
<text transform="translate(1855.2 206.9) scale(0.937 1)"><tspan dy="0">d4 DZ</tspan><tspan dy="-9.5" font-size="16.3">+</tspan><tspan dy="9.5">PGCLC</tspan></text>
<rect x="1806" y="215.3" width="35" height="33.2" fill="#ff9a00" stroke="#000" stroke-width="2"/>
<text transform="translate(1855.2 240.1) scale(0.937 1)"><tspan dy="0">d8 DZ</tspan><tspan dy="-9.5" font-size="16.3">+</tspan><tspan dy="9.5">PGCLC</tspan></text>
<rect x="1806" y="263.5" width="35" height="33.1" fill="#add9e4" stroke="#000" stroke-width="2"/>
<text transform="translate(1855.2 289.5) scale(0.939 1)">Week 5 PGC</text>
<rect x="1806" y="296.6" width="35" height="33.1" fill="#4698db" stroke="#000" stroke-width="2"/>
<text transform="translate(1855.2 322.6) scale(0.939 1)">Week 7 PGC</text>
<rect x="1806" y="329.7" width="35" height="33.1" fill="#134f8b" stroke="#000" stroke-width="2"/>
<text transform="translate(1855.2 355.7) scale(0.939 1)">Week 9 PGC</text>
<text transform="translate(-1.1 855.2) scale(1.045 1)" font-weight="bold" font-size="41" stroke="#000" stroke-width="1.3" stroke-linejoin="round">b</text>
<text transform="translate(334.7 864) scale(1.024 1)" text-anchor="middle">Neighbouring gene</text>
<text transform="translate(217.1 909.6) scale(0.849 1)" text-anchor="middle">LTR12C</text>
<text transform="translate(455.6 909.6) scale(0.927 1)" text-anchor="middle">SVA D</text>
<text transform="translate(65.2 1088) rotate(-90) scale(0.911 1)" text-anchor="middle"><tspan dy="0">log</tspan><tspan dy="5.3" font-size="16.3">2</tspan><tspan dy="-5.3">(RPKM + 0.1)</tspan></text>
<path d="M125.5 925.9V1250.5M117.2 1250.5H125.5M117.2 1210.5H125.5M117.2 1169.5H125.5M117.2 1128.5H125.5M117.2 1088.5H125.5M117.2 1047.5H125.5M117.2 1007.5H125.5M117.2 966.5H125.5M117.2 926.5H125.5M117.2 1250.5H307M147.5 1250.5v7M181.5 1250.5v7M215.5 1250.5v7M249.5 1250.5v7M283.5 1250.5v7" stroke="#3a3a3a" stroke-width="1.25"/>
<text transform="translate(105.4 1259.4) scale(1.020 1)" text-anchor="end" font-size="23">0</text>
<text transform="translate(105.4 1218.8) scale(1.020 1)" text-anchor="end" font-size="23">1</text>
<text transform="translate(105.4 1178.2) scale(1.020 1)" text-anchor="end" font-size="23">2</text>
<text transform="translate(105.4 1137.7) scale(1.020 1)" text-anchor="end" font-size="23">3</text>
<text transform="translate(105.4 1097.1) scale(1.020 1)" text-anchor="end" font-size="23">4</text>
<text transform="translate(105.4 1056.5) scale(1.020 1)" text-anchor="end" font-size="23">5</text>
<text transform="translate(105.4 1016) scale(1.020 1)" text-anchor="end" font-size="23">6</text>
<text transform="translate(105.4 975.4) scale(1.020 1)" text-anchor="end" font-size="23">7</text>
<text transform="translate(105.4 934.8) scale(1.020 1)" text-anchor="end" font-size="23">8</text>
<path class="d" d="M147.9 1071.5h0M147.9 1080.8h0M147.9 1087.8h0M147.9 1106.7h0M147.9 1111.4h0M147.9 1116.5h0M151.9 1118.1h0M147.9 1122.9h0M151.9 1124h0M147.9 1127.6h0M149.9 1131.8h0M147.9 1139.3h0M151.9 1142.7h0M143.9 1143h0M147.9 1145.2h0M153.9 1146.8h0M149.9 1149.5h0M145.9 1150.4h0M153.9 1152.5h0M147.9 1155h0M143.9 1156.2h0M147.9 1161h0M147.9 1168.3h0M147.9 1175.7h0M147.9 1181.8h0M151.9 1184.5h0M147.9 1186.6h0M143.9 1187.1h0M151.9 1189.5h0M147.9 1191.9h0M143.9 1193.3h0M151.9 1194.9h0M147.9 1197.2h0M151.9 1199.6h0M145.9 1201.5h0M141.9 1203.5h0M149.9 1205h0M145.9 1206.2h0M153.9 1206.7h0M141.9 1208.5h0M149.9 1210.1h0M145.9 1211.3h0M153.9 1212.5h0M139.8 1213.1h0M149.9 1214.9h0M145.9 1216h0M156 1216.7h0M141.9 1217.3h0M151.9 1219h0M147.9 1220.5h0M143.9 1221.3h0M156 1222.4h0M139.8 1223.5h0M149.9 1224.9h0M145.9 1226.1h0M153.9 1227.2h0M141.9 1228.4h0M147.9 1230.2h0M158 1230.8h0M151.9 1232.2h0M143.9 1233h0M147.9 1234.8h0M153.9 1236.5h0M141.9 1237.2h0M158 1238.2h0M147.9 1240.2h0M151.9 1241.2h0M143.9 1242.7h0M156 1244.5h0M147.9 1245.4h0M151.9 1246.7h0M143.9 1247.5h0M156 1249.7h0M147.9 1250.5h0M151.9 1252h0M143.9 1253.2h0M139.8 1254.3h0M147.9 1255.7h0M151.9 1257.4h0M143.9 1259.5h0M147.9 1260.6h0M151.9 1262.5h0M141.9 1263.9h0M145.9 1264.7h0M149.9 1266.7h0M153.9 1268.2h0M145.9 1269.4h0M141.9 1270.8h0M149.9 1271.5h0M153.9 1273.2h0M147.9 1276h0M151.9 1278.1h0M143.9 1278.7h0M147.9 1281.9h0M151.9 1282.9h0M143.9 1285.3h0M147.9 1286.9h0M151.9 1289.6h0M143.9 1290.2h0M147.9 1292.7h0M151.9 1294.5h0M143.9 1296.1h0M147.9 1298.2h0M151.9 1299.6h0M141.9 1300.3h0M156 1301.4h0M145.9 1302.5h0M137.8 1302.8h0M149.9 1304.1h0M153.9 1305.6h0M141.9 1306.2h0M145.9 1307.1h0M158 1308.4h0M149.9 1308.8h0M153.9 1310.3h0M143.9 1311.4h0M139.8 1311.8h0M147.9 1316h0M151.9 1318.7h0M147.9 1320.9h0M143.9 1321.9h0M151.9 1323.4h0M147.9 1325.7h0M151.9 1328.5h0M147.9 1338.2h0M151.9 1340h0M147.9 1343.6h0M147.9 1348.2h0M151.9 1351.1h0M147.9 1356.3h0M151.9 1359.7h0M147.9 1362.6h0M151.9 1365.4h0M147.9 1372.1h0M147.9 1391h0M147.9 1396.8h0M147.9 1406.3h0M147.9 1411.5h0M149.9 1416h0M147.9 1425.1h0M151.9 1425.9h0M143.9 1427.4h0M156 1429.2h0M147.9 1432h0M151.9 1433.1h0M143.9 1435.1h0M147.9 1436.6h0" stroke="#bebebe" stroke-width="3.5" transform="scale(1 0.87)"/>
<path class="d" d="M181.7 1109.7h0M185.7 1111.5h0M177.7 1112.3h0M189.8 1114.1h0M181.7 1115.8h0M185.7 1117.4h0M177.7 1118.3h0M189.8 1120.1h0M181.7 1132.1h0M181.7 1141.4h0M185.7 1143.3h0M177.7 1144h0M181.7 1147.8h0M185.7 1149.3h0M177.7 1151.1h0M181.7 1154.1h0M185.7 1157.2h0M181.7 1168.4h0M185.7 1168.9h0M177.7 1171h0M189.8 1172.3h0M181.7 1173.2h0M185.7 1174.3h0M177.7 1176.5h0M189.8 1177.3h0M181.7 1179.3h0M185.7 1179.7h0M181.7 1192.1h0M185.7 1193.7h0M177.7 1194.9h0M189.8 1196.3h0M181.7 1197.6h0M185.7 1199.2h0M181.7 1202.3h0M177.7 1202.8h0M185.7 1204.7h0M179.7 1206.7h0M175.7 1208h0M189.8 1208.5h0M183.7 1209.7h0M179.7 1212h0M187.7 1213.2h0M175.7 1213.6h0M183.7 1215.3h0M179.7 1216.7h0M189.8 1217.4h0M185.7 1219.4h0M181.7 1220.8h0M177.7 1221.8h0M187.7 1223.5h0M173.6 1224.4h0M181.7 1226.3h0M185.7 1227.6h0M177.7 1228.5h0M189.8 1229.5h0M173.6 1230.1h0M181.7 1231.7h0M185.7 1232.8h0M189.8 1233h0M177.7 1235h0M173.6 1235.5h0M181.7 1236.3h0M185.7 1237.9h0M189.8 1239.2h0M175.7 1239.5h0M181.7 1241.2h0M171.6 1241.7h0M185.7 1242.6h0M177.7 1244.4h0M189.8 1245.5h0M181.7 1246.3h0M185.7 1247.7h0M173.6 1248.2h0M177.7 1249.8h0M189.8 1250.3h0M181.7 1252.9h0M185.7 1254.7h0M177.7 1256.7h0M181.7 1259.9h0M181.7 1265.2h0M185.7 1266.5h0M177.7 1267.3h0M189.8 1267.9h0M173.6 1268.8h0M187.7 1269.1h0M171.6 1269.7h0M181.7 1271h0M177.7 1272h0M191.8 1272.6h0M173.6 1273h0M185.7 1273.9h0M191.8 1275.1h0M181.7 1275.6h0M179.7 1275.9h0M175.7 1277.1h0M171.6 1277.5h0M185.7 1278.9h0M181.7 1282.1h0M177.7 1282.6h0M185.7 1285.4h0M181.7 1290.3h0M185.7 1291.9h0M181.7 1296.4h0M185.7 1298.1h0M181.7 1301.3h0M185.7 1302.7h0M177.7 1304.7h0M181.7 1306.4h0M185.7 1307.5h0M175.7 1309.2h0M179.7 1310.7h0M183.7 1312.6h0M179.7 1315.8h0M181.7 1321.9h0M185.7 1323.2h0M177.7 1325.2h0M181.7 1326.6h0M185.7 1328.5h0M175.7 1329.6h0M181.7 1331.9h0M185.7 1333.5h0M179.7 1335.9h0M175.7 1337.2h0M183.7 1339h0M179.7 1340.9h0M187.7 1341.8h0M183.7 1344.3h0M179.7 1346.3h0M187.7 1347.5h0M183.7 1349.8h0M179.7 1351.4h0M187.7 1353.7h0M181.7 1358.2h0M185.7 1359h0M177.7 1361.1h0M181.7 1369h0M185.7 1370.3h0M177.7 1372.1h0M189.8 1372.6h0M181.7 1374.4h0M185.7 1376.2h0M181.7 1400h0M185.7 1403.1h0M181.7 1408.9h0M181.7 1414.5h0M185.7 1417.3h0M181.7 1424.6h0M181.7 1430.5h0" stroke="#92d050" stroke-width="3.5" transform="scale(1 0.87)"/>
<path class="d" d="M215.6 1102.1h0M219.6 1105.8h0M215.6 1111.1h0M219.6 1112.5h0M213.6 1115.1h0M215.6 1119.3h0M215.6 1135.6h0M219.6 1137h0M211.6 1138.4h0M223.7 1140.1h0M215.6 1142.4h0M219.6 1144.6h0M211.6 1145.8h0M215.6 1147.2h0M221.6 1149.1h0M217.6 1151.4h0M213.6 1153.4h0M221.6 1154.4h0M217.6 1157.2h0M213.6 1159.4h0M221.6 1160.9h0M217.6 1161.9h0M213.6 1165h0M219.6 1165.8h0M215.6 1172.2h0M219.6 1174.5h0M211.6 1176h0M215.6 1177.6h0M221.6 1178.4h0M209.6 1180h0M217.6 1181.8h0M213.6 1182.7h0M221.6 1185.3h0M209.6 1185.9h0M215.6 1188.4h0M219.6 1190.2h0M215.6 1199.9h0M219.6 1201.4h0M213.6 1204h0M209.6 1205h0M217.6 1206.8h0M221.6 1208.2h0M213.6 1210.3h0M209.6 1211.2h0M217.6 1212.4h0M221.6 1214.1h0M213.6 1216.3h0M217.6 1218.4h0M215.6 1224h0M219.6 1224.9h0M211.6 1226.8h0M215.6 1229.4h0M219.6 1232.3h0M215.6 1234.2h0M211.6 1235.7h0M219.6 1237.3h0M223.7 1238.4h0M215.6 1241.2h0M215.6 1247.4h0M219.6 1247.5h0M211.6 1248.8h0M223.7 1250.4h0M207.5 1251.3h0M217.6 1251.8h0M213.6 1253.6h0M215.6 1253.8h0M221.6 1255.4h0M209.6 1256h0M225.7 1257.5h0M215.6 1258.8h0M219.6 1259.9h0M211.6 1260.7h0M223.7 1262.2h0M207.5 1262.7h0M215.6 1264h0M219.6 1265.2h0M211.6 1266.5h0M223.7 1266.8h0M207.5 1268.4h0M215.6 1269.1h0M219.6 1270.5h0M217.6 1270.7h0M211.6 1271.9h0M223.7 1272.7h0M207.5 1273.7h0M209.6 1274.3h0M215.6 1275.3h0M219.6 1275.8h0M225.7 1277.3h0M205.5 1277.7h0M211.6 1278.3h0M207.5 1279.4h0M215.6 1280.4h0M219.6 1281.4h0M223.7 1282.3h0M219.6 1282.7h0M211.6 1283.5h0M207.5 1284.6h0M215.6 1285.5h0M209.6 1286.1h0M221.6 1286.7h0M225.7 1287.5h0M205.5 1288.8h0M215.6 1291.9h0M219.6 1293.1h0M211.6 1294.7h0M223.7 1296.3h0M215.6 1298.5h0M219.6 1300.3h0M211.6 1301.4h0M215.6 1304.4h0M219.6 1306.4h0M211.6 1307h0M215.6 1309.8h0M221.6 1310.8h0M211.6 1313.2h0M215.6 1315.3h0M219.6 1316.6h0M211.6 1319h0M223.7 1319.3h0M215.6 1325.7h0M219.6 1329.2h0M215.6 1330.3h0M211.6 1331.4h0M217.6 1334.9h0M213.6 1336.8h0M221.6 1337.1h0M217.6 1339.8h0M213.6 1341.8h0M221.6 1343h0M215.6 1360.5h0M219.6 1361.1h0M215.6 1365.2h0M211.6 1365.5h0M217.6 1369.6h0M213.6 1371.3h0M217.6 1374.3h0M211.6 1375.4h0M221.6 1378h0M215.6 1380.2h0M215.6 1397.8h0M215.6 1403.9h0M215.6 1414.7h0M215.6 1421h0M215.6 1430.1h0M219.6 1431.7h0M211.6 1432.6h0M223.7 1434.5h0M215.6 1436.7h0" stroke="#00b050" stroke-width="3.5" transform="scale(1 0.87)"/>
<path class="d" d="M249.6 1076.1h0M249.6 1111.9h0M249.6 1118.1h0M253.6 1119.5h0M247.6 1122.5h0M249.6 1142.1h0M253.6 1144.3h0M249.6 1148.8h0M253.6 1151h0M249.6 1154.8h0M253.6 1157.8h0M249.6 1161.2h0M253.6 1164.1h0M249.6 1166.6h0M251.6 1170.9h0M249.6 1176.6h0M253.6 1177.6h0M245.6 1179h0M257.6 1179.5h0M241.5 1180.2h0M249.6 1181.5h0M253.6 1182.9h0M245.6 1183.6h0M257.6 1184.2h0M241.5 1185.3h0M249.6 1186.2h0M253.6 1186.7h0M257.6 1188.1h0M245.6 1189.2h0M241.5 1190.4h0M257.6 1190.6h0M249.6 1191.9h0M253.6 1192.8h0M245.6 1194.1h0M239.5 1194.5h0M257.6 1195.8h0M249.6 1196.7h0M253.6 1197.8h0M241.5 1197.9h0M245.6 1199.7h0M257.6 1200.6h0M249.6 1201.3h0M239.5 1202.1h0M253.6 1203.4h0M243.6 1203.9h0M247.6 1205.4h0M251.6 1207.6h0M247.6 1211.2h0M251.6 1213.2h0M249.6 1219.3h0M253.6 1219.7h0M245.6 1221.2h0M257.6 1222.1h0M241.5 1223h0M251.6 1223.7h0M243.6 1225h0M247.6 1225.8h0M255.6 1226.8h0M259.7 1227.8h0M251.6 1229.2h0M243.6 1229.7h0M247.6 1230.8h0M255.6 1231.4h0M249.6 1247.4h0M253.6 1247.9h0M245.6 1249.4h0M257.6 1250h0M249.6 1252h0M241.5 1252.4h0M253.6 1253.5h0M245.6 1254.7h0M249.6 1265.6h0M253.6 1267h0M245.6 1267.5h0M257.6 1268.3h0M241.5 1269.4h0M249.6 1271.2h0M253.6 1272.3h0M245.6 1272.4h0M257.6 1273.7h0M241.5 1275.1h0M255.6 1275.6h0M249.6 1276.9h0M245.6 1278.6h0M259.7 1279.3h0M253.6 1280.6h0M249.6 1281.6h0M243.6 1282.6h0M257.6 1283.4h0M239.5 1284.8h0M251.6 1285.6h0M247.6 1286.4h0M255.6 1287.6h0M243.6 1288.9h0M259.7 1289.7h0M249.6 1291h0M253.6 1292.1h0M245.6 1292.9h0M257.6 1293.7h0M241.5 1295.3h0M249.6 1295.7h0M253.6 1297h0M245.6 1297.9h0M257.6 1298.6h0M239.5 1299.9h0M249.6 1300.9h0M253.6 1302.7h0M245.6 1303.5h0M257.6 1304.5h0M249.6 1305.6h0M241.5 1306.5h0M249.6 1312.7h0M253.6 1314.6h0M249.6 1317.5h0M245.6 1319h0M249.6 1333.1h0M253.6 1334.8h0M249.6 1338h0M251.6 1342.5h0M247.6 1345.9h0M249.6 1354.4h0M253.6 1358.1h0M249.6 1361.6h0M249.6 1368h0M253.6 1371.3h0M249.6 1376h0M253.6 1377.5h0M247.6 1380.4h0M249.6 1385.6h0M251.6 1389.8h0M249.6 1407.1h0M253.6 1408.9h0M249.6 1412.7h0M253.6 1413.8h0M249.6 1417.9h0M253.6 1420.9h0M249.6 1423.4h0M253.6 1426.2h0M245.6 1427.1h0M249.6 1430.3h0M253.6 1433h0M249.6 1436.9h0" stroke="#ffd87c" stroke-width="3.5" transform="scale(1 0.87)"/>
<path class="d" d="M283.7 1066.8h0M283.7 1080.8h0M283.7 1101.8h0M283.7 1134.6h0M287.7 1138.3h0M283.7 1140.4h0M279.7 1142.8h0M287.7 1144.1h0M283.7 1146.3h0M279.7 1148.6h0M285.7 1150.8h0M283.7 1167.7h0M287.7 1167.9h0M279.7 1169.4h0M291.8 1169.7h0M275.6 1170.4h0M283.7 1171.6h0M279.7 1171.8h0M287.7 1173.1h0M293.8 1173.7h0M273.6 1174.5h0M281.7 1175h0M277.7 1176.1h0M285.7 1177.2h0M289.7 1177.5h0M293.8 1178.5h0M273.6 1179.4h0M281.7 1180.1h0M279.7 1180.5h0M285.7 1181.8h0M293.8 1181.9h0M289.7 1182.8h0M275.6 1183.5h0M279.7 1184.2h0M287.7 1185.4h0M283.7 1185.8h0M291.8 1187.2h0M273.6 1187.7h0M275.6 1188.1h0M279.7 1189.1h0M285.7 1190.4h0M293.8 1190.5h0M289.7 1191.2h0M273.6 1192.4h0M281.7 1193.3h0M277.7 1194h0M285.7 1195h0M291.8 1195.6h0M291.8 1196.6h0M273.6 1197.5h0M283.7 1199.3h0M287.7 1200.1h0M279.7 1201.3h0M291.8 1203h0M275.6 1203.6h0M283.7 1205.4h0M287.7 1205.9h0M279.7 1207.7h0M291.8 1208.8h0M283.7 1210.1h0M287.7 1210.9h0M277.7 1212.1h0M291.8 1213.4h0M273.6 1214h0M283.7 1215.6h0M287.7 1216.6h0M279.7 1217.9h0M291.8 1219.3h0M283.7 1220.6h0M275.6 1221.1h0M287.7 1222.8h0M279.7 1224.2h0M283.7 1225.3h0M291.8 1226.4h0M287.7 1227.5h0M277.7 1228.2h0M283.7 1230.4h0M291.8 1231.2h0M273.6 1232.1h0M287.7 1234.1h0M281.7 1234.8h0M277.7 1236.3h0M291.8 1237.1h0M283.7 1239.1h0M287.7 1240.4h0M279.7 1241.1h0M291.8 1242.8h0M283.7 1243.7h0M275.6 1244.7h0M287.7 1246.5h0M281.7 1247.8h0M277.7 1249.3h0M291.8 1250.1h0M283.7 1256.9h0M287.7 1257.6h0M279.7 1259.9h0M283.7 1262.3h0M287.7 1264h0M279.7 1264.7h0M283.7 1267.5h0M287.7 1269.3h0M283.7 1275.3h0M287.7 1276.6h0M279.7 1277.6h0M291.8 1278.6h0M275.6 1279.1h0M283.7 1281h0M287.7 1281.8h0M279.7 1282.5h0M291.8 1284.5h0M283.7 1286h0M287.7 1286.7h0M279.7 1288h0M275.6 1289h0M291.8 1289.9h0M283.7 1291.6h0M287.7 1292.7h0M283.7 1298.4h0M287.7 1298.8h0M279.7 1300.2h0M291.8 1301.5h0M275.6 1302.4h0M285.7 1302.9h0M281.7 1304.2h0M289.7 1305.9h0M277.7 1306.4h0M293.8 1307.3h0M283.7 1308.9h0M287.7 1310h0M273.6 1310.2h0M279.7 1311.3h0M291.8 1313h0M283.7 1313.8h0M287.7 1315.2h0M277.7 1315.7h0M283.7 1321.7h0M287.7 1323h0M279.7 1324.4h0M291.8 1325.6h0M283.7 1326.7h0M287.7 1328.3h0M279.7 1330.2h0M291.8 1331h0M283.7 1332.8h0M287.7 1333.3h0M279.7 1335.6h0M291.8 1336.6h0M283.7 1338.2h0M287.7 1338.6h0M283.7 1354.6h0M287.7 1355.2h0M279.7 1355.9h0M291.8 1357.6h0M275.6 1358.4h0M283.7 1359.7h0M287.7 1360.4h0M279.7 1361h0M291.8 1362.9h0M275.6 1363.8h0M283.7 1364.4h0M287.7 1365.5h0M279.7 1367h0M293.8 1367.4h0M273.6 1368.3h0M283.7 1369.6h0M287.7 1370.8h0M277.7 1371.3h0M283.7 1378.3h0M287.7 1379.3h0M283.7 1383.5h0M287.7 1386.1h0M281.7 1387.8h0M285.7 1390.7h0M289.7 1391.8h0M283.7 1395.2h0M287.7 1396.4h0M279.7 1399h0M283.7 1402.3h0M287.7 1403.5h0M283.7 1409.9h0M287.7 1412.3h0M279.7 1413.7h0M291.8 1414.4h0M283.7 1417h0M287.7 1418.7h0M279.7 1419.3h0M291.8 1421.4h0M283.7 1422.5h0M287.7 1424.7h0M279.7 1425.7h0M283.7 1427.1h0M287.7 1429.4h0M279.7 1430.9h0M291.8 1431.5h0M283.7 1433.5h0M287.7 1434.9h0M281.7 1437.4h0" stroke="#ff9a00" stroke-width="3.5" transform="scale(1 0.87)"/>
<path d="M136.7 1167.1h22.4" stroke="#f9300f" stroke-width="2.2"/>
<path d="M170.5 1163.1h22.4" stroke="#f9300f" stroke-width="2.2"/>
<path d="M204.4 1164.7h22.4" stroke="#f9300f" stroke-width="2.2"/>
<path d="M238.4 1151.7h22.4" stroke="#f9300f" stroke-width="2.2"/>
<path d="M272.5 1141.1h22.4" stroke="#f9300f" stroke-width="2.2"/>
<path d="M364.5 925.9V1250.5M356.8 1250.5H364.5M356.8 1210.5H364.5M356.8 1169.5H364.5M356.8 1128.5H364.5M356.8 1088.5H364.5M356.8 1047.5H364.5M356.8 1007.5H364.5M356.8 966.5H364.5M356.8 926.5H364.5M356.8 1250.5H543.6M387.5 1250.5v7M420.5 1250.5v7M454.5 1250.5v7M487.5 1250.5v7M521.5 1250.5v7" stroke="#3a3a3a" stroke-width="1.25"/>
<text transform="translate(345 1259.4) scale(1.020 1)" text-anchor="end" font-size="23">0</text>
<text transform="translate(345 1218.8) scale(1.020 1)" text-anchor="end" font-size="23">1</text>
<text transform="translate(345 1178.2) scale(1.020 1)" text-anchor="end" font-size="23">2</text>
<text transform="translate(345 1137.7) scale(1.020 1)" text-anchor="end" font-size="23">3</text>
<text transform="translate(345 1097.1) scale(1.020 1)" text-anchor="end" font-size="23">4</text>
<text transform="translate(345 1056.5) scale(1.020 1)" text-anchor="end" font-size="23">5</text>
<text transform="translate(345 1016) scale(1.020 1)" text-anchor="end" font-size="23">6</text>
<text transform="translate(345 975.4) scale(1.020 1)" text-anchor="end" font-size="23">7</text>
<text transform="translate(345 934.8) scale(1.020 1)" text-anchor="end" font-size="23">8</text>
<path class="d" d="M387 1089.2h0M387 1127.4h0M387 1139.5h0M393.1 1141h0M380.9 1142.2h0M383.9 1144.2h0M383.9 1145.2h0M387 1157.8h0M387 1171.6h0M393.1 1174.6h0M387 1181.7h0M393.1 1183h0M380.9 1185.1h0M380.9 1186.7h0M390.1 1188.5h0M396.2 1190.1h0M387 1199.4h0M393.1 1202.6h0M387 1211.6h0M393.1 1213.3h0M380.9 1214.8h0M396.2 1216.2h0M390.1 1218.3h0M383.9 1219.8h0M380.9 1220.2h0M383.9 1222.3h0M387 1233.4h0M393.1 1234.3h0M380.9 1236.2h0M387 1239.7h0M396.2 1240.7h0M396.2 1241.8h0M380.9 1243.8h0M390.1 1246.3h0M390.1 1248h0M383.9 1250.7h0M390.1 1256.5h0M383.9 1258.7h0M396.2 1259.6h0M377.8 1262h0M387 1263.1h0M377.8 1265.6h0M393.1 1267.5h0M383.9 1269.5h0M387 1280.2h0M393.1 1280.9h0M380.9 1282.6h0M383.9 1285h0M380.9 1286.4h0M390.1 1288.6h0M396.2 1289h0M387 1291h0M377.8 1292.6h0M380.9 1294.4h0M393.1 1295.7h0M380.9 1297.5h0M387 1298.9h0M396.2 1301.8h0M383.9 1303.4h0M377.8 1304.3h0M390.1 1305.7h0M377.8 1306.8h0M393.1 1308.5h0M383.9 1310.7h0M387 1321.1h0M393.1 1322.4h0M380.9 1323.3h0M387 1332.7h0M387 1341.4h0M393.1 1342h0M380.9 1344.3h0M396.2 1347.9h0M387 1358.3h0M393.1 1362.5h0M387 1366.4h0M387 1378.7h0M393.1 1381.1h0M380.9 1382.4h0M387 1386.2h0M387 1409.8h0M393.1 1412.4h0M387 1437.6h0" stroke="#bebebe" stroke-width="3.5" transform="scale(1 0.87)"/>
<path class="d" d="M420.6 1069.1h0M420.6 1115.8h0M420.6 1127.4h0M420.6 1148.9h0M426.7 1151.5h0M414.5 1152.8h0M414.5 1155.5h0M420.6 1158h0M429.8 1158.4h0M429.8 1161.1h0M420.6 1176.6h0M426.7 1179.1h0M414.5 1181.3h0M420.6 1181.9h0M417.5 1183.7h0M420.6 1184.9h0M426.7 1187.8h0M411.4 1189.6h0M411.4 1190.3h0M420.6 1192.2h0M429.8 1193.7h0M420.6 1196.1h0M414.5 1197.6h0M423.7 1198.4h0M420.6 1211.4h0M426.7 1213.2h0M414.5 1215h0M423.7 1216.9h0M417.5 1219h0M429.8 1221.2h0M411.4 1223h0M423.7 1224.8h0M420.6 1240.3h0M426.7 1241.1h0M414.5 1241.7h0M423.7 1243.1h0M429.8 1243.5h0M411.4 1244.4h0M423.7 1246h0M426.7 1246.5h0M420.6 1247.3h0M426.7 1248.4h0M414.5 1250h0M411.4 1250.1h0M420.6 1267.7h0M426.7 1271.5h0M414.5 1273.5h0M420.6 1274.7h0M414.5 1276.8h0M426.7 1280.1h0M420.6 1289h0M426.7 1291.1h0M414.5 1292.7h0M417.5 1293.1h0M411.4 1295.6h0M423.7 1297.2h0M429.8 1298.9h0M417.5 1300.2h0M417.5 1300.9h0M420.6 1312.8h0M426.7 1316h0M420.6 1321h0M426.7 1325.6h0M420.6 1328.4h0M414.5 1331.1h0M423.7 1335.2h0M429.8 1336.6h0M417.5 1339.2h0M423.7 1343.9h0M420.6 1363h0M420.6 1377.1h0M426.7 1378.3h0M414.5 1379.2h0M420.6 1393.3h0M420.6 1405h0M426.7 1406.3h0M414.5 1409.9h0M420.6 1413.5h0M426.7 1416.6h0" stroke="#92d050" stroke-width="3.5" transform="scale(1 0.87)"/>
<path class="d" d="M454.2 1080.8h0M454.2 1099.6h0M460.3 1102.4h0M454.2 1107h0M457.3 1113.8h0M454.2 1119.9h0M454.2 1138.2h0M454.2 1160.4h0M460.3 1163.4h0M448.1 1164.3h0M457.3 1166.7h0M454.2 1168.8h0M463.4 1170.2h0M448.1 1172h0M460.3 1173.6h0M454.2 1175h0M454.2 1176.7h0M448.1 1179.3h0M463.4 1180.3h0M454.2 1182.6h0M448.1 1184h0M454.2 1196.4h0M460.3 1197.6h0M448.1 1198.7h0M445 1199.8h0M457.3 1201.2h0M445 1202.8h0M445 1203.3h0M451.1 1205.4h0M463.4 1206.6h0M451.1 1207.1h0M457.3 1208.7h0M445 1209.6h0M460.3 1211.3h0M457.3 1213.1h0M460.3 1213.9h0M451.1 1214.5h0M445 1216.6h0M460.3 1218.1h0M454.2 1223.8h0M460.3 1225.1h0M448.1 1225.9h0M454.2 1226.8h0M451.1 1228.2h0M460.3 1229.4h0M457.3 1230.4h0M451.1 1231.4h0M445 1233.3h0M451.1 1233.6h0M463.4 1235.5h0M454.2 1236.9h0M463.4 1237.8h0M448.1 1239.3h0M454.2 1252h0M454.2 1260.4h0M454.2 1271.2h0M460.3 1272.9h0M448.1 1274.3h0M445 1276h0M457.3 1276.3h0M463.4 1279.3h0M451.1 1281h0M457.3 1282.4h0M445 1282.8h0M463.4 1284.6h0M454.2 1302.6h0M460.3 1304.3h0M448.1 1307h0M448.1 1308.4h0M451.1 1308.9h0M457.3 1311.7h0M463.4 1312.6h0M460.3 1313.4h0M445 1314.9h0M454.2 1328.9h0M460.3 1330.3h0M448.1 1333h0M463.4 1335.8h0M454.2 1336.5h0M445 1339h0M451.1 1340.2h0M454.2 1358.3h0M454.2 1396h0M460.3 1400.2h0M454.2 1404.6h0M454.2 1424.5h0M454.2 1436.2h0" stroke="#00b050" stroke-width="3.5" transform="scale(1 0.87)"/>
<path class="d" d="M487.8 1085h0M493.9 1085.5h0M487.8 1097.1h0M487.8 1104.1h0M487.8 1131.7h0M493.9 1132h0M481.7 1135.4h0M481.7 1136h0M487.8 1138.8h0M493.9 1140.5h0M487.8 1157.8h0M487.8 1165.8h0M493.9 1166.7h0M481.7 1167.3h0M497 1168.8h0M493.9 1170.2h0M497 1171.2h0M484.7 1172.4h0M478.6 1173.3h0M487.8 1185.3h0M493.9 1187.6h0M481.7 1189.8h0M487.8 1192.6h0M497 1194.3h0M487.8 1205.4h0M493.9 1206.6h0M481.7 1207.8h0M478.6 1208.4h0M497 1209.4h0M478.6 1210.4h0M487.8 1212.5h0M490.9 1213.6h0M493.9 1214.7h0M497 1215.6h0M481.7 1216.9h0M481.7 1217.8h0M493.9 1219.5h0M487.8 1220.4h0M487.8 1221.6h0M497 1222.7h0M478.6 1224.1h0M487.8 1224.5h0M481.7 1225.5h0M497 1227.5h0M487.8 1236.5h0M493.9 1237.3h0M481.7 1242.1h0M487.8 1244.5h0M493.9 1245.6h0M478.6 1248.5h0M484.7 1250.1h0M490.9 1252.8h0M481.7 1256.4h0M497 1258.1h0M487.8 1261h0M493.9 1264.9h0M487.8 1276.7h0M487.8 1290.7h0M487.8 1311.9h0M493.9 1312.5h0M481.7 1312.9h0M493.9 1313.2h0M484.7 1313.6h0M487.8 1326.6h0M493.9 1328.2h0M481.7 1329.2h0M493.9 1331.8h0M487.8 1342.9h0M487.8 1357.5h0M493.9 1361.3h0M487.8 1367.1h0M481.7 1368.2h0M493.9 1372.3h0M487.8 1377.2h0M493.9 1382.6h0M487.8 1384.4h0M481.7 1389.1h0M487.8 1393.4h0M487.8 1409.6h0M487.8 1425.9h0" stroke="#ffd87c" stroke-width="3.5" transform="scale(1 0.87)"/>
<path class="d" d="M521.2 1078h0M527.3 1078.5h0M521.2 1090.1h0M521.2 1097.1h0M521.2 1118.1h0M521.2 1133.4h0M527.3 1135.2h0M515.1 1136.3h0M512 1139.4h0M524.3 1139.8h0M521.2 1148.4h0M521.2 1165.4h0M527.3 1166.6h0M515.1 1168.7h0M530.4 1170.2h0M521.2 1172.6h0M512 1174.7h0M527.3 1175.3h0M518.1 1178.3h0M524.3 1182.5h0M515.1 1184.5h0M530.4 1187.8h0M521.2 1189.7h0M515.1 1192.6h0M527.3 1194.4h0M521.2 1196.9h0M512 1199.1h0M521.2 1205.5h0M527.3 1206.4h0M515.1 1207.7h0M527.3 1208.3h0M518.1 1209.9h0M530.4 1212.1h0M518.1 1212.3h0M512 1214.3h0M524.3 1215h0M521.2 1216.8h0M530.4 1217.6h0M515.1 1218.8h0M530.4 1220.9h0M518.1 1222.4h0M524.3 1223.5h0M515.1 1224.1h0M515.1 1225.5h0M512 1227h0M521.2 1239.7h0M527.3 1242.3h0M515.1 1243.7h0M521.2 1245.4h0M524.3 1246.7h0M530.4 1248.4h0M512 1250.1h0M518.1 1252.4h0M524.3 1253.8h0M530.4 1255.5h0M518.1 1256.6h0M512 1258.4h0M521.2 1259.5h0M515.1 1261.4h0M521.2 1274.4h0M521.2 1288.5h0M527.3 1289.7h0M515.1 1290.9h0M518.1 1292h0M521.2 1292.9h0M521.2 1302.3h0M521.2 1311.9h0M527.3 1312.6h0M515.1 1313.5h0M512 1314.6h0M530.4 1315.4h0M515.1 1315.9h0M521.2 1324.4h0M527.3 1325.3h0M515.1 1326.3h0M527.3 1326.9h0M512 1328.7h0M524.3 1329.3h0M518.1 1330.4h0M530.4 1331.7h0M530.4 1333.1h0M512 1334.4h0M521.2 1344.3h0M521.2 1354.6h0M527.3 1355h0M521.2 1363h0M521.2 1377h0M521.2 1384h0M521.2 1390.9h0M521.2 1404.9h0M521.2 1424.1h0M527.3 1424.5h0M521.2 1432.9h0" stroke="#ff9a00" stroke-width="3.5" transform="scale(1 0.87)"/>
<path d="M375.8 1139.9h22.4" stroke="#f9300f" stroke-width="2.2"/>
<path d="M409.4 1135.1h22.4" stroke="#f9300f" stroke-width="2.2"/>
<path d="M443 1126.1h22.4" stroke="#f9300f" stroke-width="2.2"/>
<path d="M476.6 1131h22.4" stroke="#f9300f" stroke-width="2.2"/>
<path d="M510 1116.8h22.4" stroke="#f9300f" stroke-width="2.2"/>
<rect x="582.9" y="923.8" width="39.3" height="38.1" fill="#bebebe" stroke="#444" stroke-width="1.2"/>
<text transform="translate(637 951.8) scale(0.981 1)">4i ES cell</text>
<rect x="582.9" y="961.9" width="39.3" height="38.1" fill="#92d050" stroke="#444" stroke-width="1.2"/>
<text transform="translate(637 989.9) scale(0.931 1)"><tspan dy="0">N3</tspan><tspan dy="-9.5" font-size="16.3">+</tspan><tspan dy="9.5">PGCLC</tspan></text>
<rect x="582.9" y="1000" width="39.3" height="38.1" fill="#00b050" stroke="#444" stroke-width="1.2"/>
<text transform="translate(637 1028) scale(0.925 1)"><tspan dy="0">DM</tspan><tspan dy="-9.5" font-size="16.3">+</tspan><tspan dy="9.5">PGCLC</tspan></text>
<rect x="582.9" y="1038.1" width="39.3" height="38.1" fill="#ffd87c" stroke="#444" stroke-width="1.2"/>
<text transform="translate(637 1066.1) scale(0.937 1)"><tspan dy="0">d4 DZ</tspan><tspan dy="-9.5" font-size="16.3">+</tspan><tspan dy="9.5">PGCLC</tspan></text>
<rect x="582.9" y="1076.2" width="39.3" height="38.1" fill="#ff9a00" stroke="#444" stroke-width="1.2"/>
<text transform="translate(637 1104.2) scale(0.937 1)"><tspan dy="0">d8 DZ</tspan><tspan dy="-9.5" font-size="16.3">+</tspan><tspan dy="9.5">PGCLC</tspan></text>
<text transform="translate(886.9 855.7) scale(1.005 1)" font-weight="bold" font-size="41" stroke="#000" stroke-width="1.3" stroke-linejoin="round">c</text>
<text transform="translate(1149.6 863.5) scale(1.024 1)" text-anchor="middle">Neighbouring gene</text>
<text transform="translate(1047.6 909.6) scale(0.854 1)" text-anchor="middle">LTR12C</text>
<text transform="translate(1249 909.6) scale(0.927 1)" text-anchor="middle">SVA D</text>
<text transform="translate(909.5 1083) rotate(-90) scale(0.933 1)" text-anchor="middle"><tspan dy="0">log</tspan><tspan dy="5.3" font-size="16.3">2</tspan><tspan dy="-5.3">(TPM/10 + 1)</tspan></text>
<path d="M970.5 921.9V1242.5M962.3 1242.5H970.5M962.3 1162.5H970.5M962.3 1082.5H970.5M962.3 1002.5H970.5M962.3 922.5H970.5M962.3 1242.5H1124.2M1001.5 1242.5v9M1047.5 1242.5v9M1093.5 1242.5v9" stroke="#3a3a3a" stroke-width="1.25"/>
<text transform="translate(950.2 1250.4) scale(1.020 1)" text-anchor="end" font-size="23">0</text>
<text transform="translate(950.2 1170.5) scale(1.020 1)" text-anchor="end" font-size="23">1</text>
<text transform="translate(950.2 1090.5) scale(1.020 1)" text-anchor="end" font-size="23">2</text>
<text transform="translate(950.2 1010.6) scale(1.020 1)" text-anchor="end" font-size="23">3</text>
<text transform="translate(950.2 930.6) scale(1.020 1)" text-anchor="end" font-size="23">4</text>
<path class="d" d="M988.1 1551.2h26.7M988.4 1548.5h25.7M995.2 1545.7h12.2M997.9 1543h6M998.6 1540.2h5.2M998.9 1537.5h4M999.4 1534.7h3.4M1000 1532h2.8M999.4 1529.2h3.1M999.5 1526.5h2.9M999.6 1523.7h3.1M1000.1 1521h2.7M999.5 1518.2h3.1M999.7 1515.5h2.8M999.7 1512.7h2.8M999.5 1510h2.7M999.9 1507.2h2.8M999.8 1504.5h2.6M999.5 1501.7h3M999.9 1499h2.6M999.9 1496.2h2.9M999.4 1493.5h3M1000 1490.7h3M999.7 1488h2.6M999.4 1485.2h3M999.9 1482.5h2.7M999.6 1479.7h2.8M1000.1 1477h2.6M1000 1474.2h2.8M999.9 1471.5h2.7M999.7 1468.7h2.6M999.8 1466h2.9M999.6 1463.2h2.9M1000.2 1460.5h2.7M999.9 1457.7h2.7M1000.3 1455h2.5M999.6 1452.2h2.8M999.6 1449.5h2.8M1000 1446.7h2.8M1000.1 1444h2.5M999.7 1441.2h2.7M1000 1438.5h2.8M1000.2 1435.7h2.3M999.7 1433h2.5M999.9 1430.2h2.6M999.6 1427.5h2.6M1000.2 1424.7h2.3M1000.1 1422h2.3M999.8 1419.2h2.5M1000.3 1416.5h2.4M1000 1413.7h2.4M999.8 1411h2.6M1000.1 1408.2h2.5M999.9 1405.5h2.4M999.6 1402.7h2.5M999.9 1400h2.5M999.9 1397.2h2.1M999.9 1394.5h2.2M1000.2 1391.7h2.5M1000.3 1389h2.3M999.9 1386.2h2.2M1000.2 1383.5h2.1M999.9 1380.7h2.1M1000.3 1378h2.4M999.8 1375.2h2.2M1000 1372.5h2.2M1000.4 1369.7h2.2M1000 1367h2.4M1000.2 1364.2h2.3M999.9 1361.5h2.3M1000.4 1358.7h2.2M1000.3 1356h2.4M1000.3 1353.2h2.3M1000.1 1350.5h2.1M1000.4 1347.7h1.9M1000.1 1345h2.1M1000.3 1342.2h1.9M999.9 1339.5h2M1000 1336.7h1.9M1000.1 1334h2.2M999.9 1331.2h2.3M999.8 1328.5h2.2M1000.5 1325.7h1.9M1000.4 1323h1.9M999.9 1320.2h1.9M1000.5 1317.5h1.9M1000.4 1314.7h2.1M1000.1 1312h2.1M1000 1309.2h2.1M1000 1306.5h2.1M999.8 1303.7h2.1M1000 1301h2.2M1000 1298.2h1.8M1000.4 1295.5h2M1000.3 1292.7h2M1000.6 1290h1.7M1000.5 1287.2h1.8M1000.1 1284.5h1.8M1000.3 1281.7h1.7M1000.3 1279h1.8M1000.6 1276.2h1.8M1000.3 1273.5h1.8M1000.3 1270.7h1.8M999.9 1268h1.9M1000.3 1265.2h1.7M1000.4 1262.5h1.9M1000.2 1259.7h1.5M1000.3 1257h1.6M1000 1254.2h1.9M1000.7 1251.5h1.8M1000.6 1248.7h1.7M1000 1246h1.9M1000.5 1243.2h1.7M1000.1 1240.5h1.8M1000.7 1237.7h1.6M1000.1 1235h1.6M1000.1 1232.2h1.7M1000.6 1229.5h1.5M1000.5 1226.7h1.8M1000.3 1224h1.6M1000.6 1221.2h1.5M1000.7 1218.5h1.6M1000.4 1215.7h1.4M1000.2 1213h1.5M1000.4 1210.2h1.6M1000.8 1207.5h1.4M1000.1 1204.7h1.7M1000.6 1202h1.4M1000.6 1199.2h1.8M1000.3 1196.5h1.6M1000.4 1193.7h1.4M1000.3 1191h1.7M1000.7 1188.2h1.6M1000.2 1185.5h1.4M1000.5 1182.7h1.2M1000.2 1180h1.6M1000.6 1177.2h1.4M1000.7 1174.5h1.5M1000.2 1171.7h1.6M1000.8 1169h1.5" stroke="#e4dfec" stroke-width="3.4" transform="scale(1 0.8)"/>
<path class="d" d="M1034 1551.2h27M1034.5 1548.5h26.4M1038.1 1545.7h19M1043.7 1543h7.7M1043.5 1540.2h7.6M1044.6 1537.5h6.1M1045.7 1534.7h4.2M1046.1 1532h3.5M1046.2 1529.2h3.5M1045.3 1526.5h4M1045.7 1523.7h3.4M1045.6 1521h3.6M1046.2 1518.2h3.5M1045.5 1515.5h3.9M1045.4 1512.7h3.9M1045.6 1510h3.6M1046 1507.2h3.2M1045.8 1504.5h3.3M1046.2 1501.7h3.4M1045.9 1499h3.4M1045.9 1496.2h3.4M1045.5 1493.5h3.6M1045.8 1490.7h3M1045.9 1488h3.2M1045.8 1485.2h3.1M1045.9 1482.5h2.9M1046 1479.7h3.2M1046.2 1477h3.3M1045.8 1474.2h2.9M1046 1471.5h3.3M1045.6 1468.7h3.3M1046.2 1466h2.9M1046 1463.2h2.7M1046.3 1460.5h3.1M1046.1 1457.7h2.8M1046.6 1455h2.7M1046.2 1452.2h2.8M1046 1449.5h3M1045.8 1446.7h3M1046.2 1444h2.7M1046.4 1441.2h2.7M1046.5 1438.5h2.9M1046 1435.7h2.8M1046.2 1433h2.8M1046 1430.2h2.8M1046.5 1427.5h2.6M1045.8 1424.7h2.9M1046.3 1422h2.8M1046.5 1419.2h2.8M1046.4 1416.5h2.6M1046.5 1413.7h2.5M1046.3 1411h2.5M1046.6 1408.2h2.5M1046.1 1405.5h2.5M1045.9 1402.7h2.8M1046.7 1400h2.4M1046.2 1397.2h2.4M1046.4 1394.5h2.8M1046.2 1391.7h2.7M1046.1 1389h2.7M1046.4 1386.2h2.4M1046.2 1383.5h2.5M1046.5 1380.7h2.6M1045.9 1378h2.8M1046.2 1375.2h2.4M1046.2 1372.5h2.5M1046.4 1369.7h2.6M1046.3 1367h2.5M1046.6 1364.2h2.3M1046.5 1361.5h2.7M1046.4 1358.7h2.5M1046.2 1356h2.5M1046.3 1353.2h2.4M1046.7 1350.5h2.3M1046.4 1347.7h2.7M1046.2 1345h2.7M1046 1342.2h2.5M1046.3 1339.5h2.2M1046.6 1336.7h2.5M1046.3 1334h2.4M1046.7 1331.2h2.5M1046.5 1328.5h2.2M1046.5 1325.7h2.3M1046.6 1323h2.4M1046.6 1320.2h2.3M1046.3 1317.5h2.6M1046.4 1314.7h2.6M1046.2 1312h2.4M1046.4 1309.2h2.5M1046.2 1306.5h2.4M1046.3 1303.7h2.5M1046.3 1301h2.1M1046.4 1298.2h2.1M1046.2 1295.5h2.2M1046.6 1292.7h2.1M1046.2 1290h2.4M1046.8 1287.2h2.1M1046.6 1284.5h2.1M1046.9 1281.7h2.1M1046.3 1279h2M1046.1 1276.2h2.4M1046.7 1273.5h2.4M1046.6 1270.7h2.4M1046.8 1268h1.9M1046.6 1265.2h2.3M1046.7 1262.5h2.3M1046.9 1259.7h2M1046.2 1257h2.4M1046.3 1254.2h2M1046.7 1251.5h1.9M1046.2 1248.7h2.3M1046.6 1246h2.3M1046.8 1243.2h1.9M1046.2 1240.5h2.2M1046.5 1237.7h1.9M1046.3 1235h2.2M1046.6 1232.2h2.3M1046.3 1229.5h2M1046.9 1226.7h2.1M1046.7 1224h2.2M1046.7 1221.2h2.1M1046.4 1218.5h1.8M1046.4 1215.7h2M1046.7 1213h2.1M1046.7 1210.2h2.1M1046.4 1207.5h2M1046.6 1204.7h1.8M1046.6 1202h2M1046.9 1199.2h2M1046.6 1196.5h2.1M1046.9 1193.7h1.8M1046.7 1191h2.1M1046.8 1188.2h2.2M1046.6 1185.5h1.8M1046.8 1182.7h1.8M1046.5 1180h2.1M1047 1177.2h1.8M1046.8 1174.5h2.1M1047 1171.7h1.9M1046.8 1169h2.1M1047 1166.2h1.8M1046.5 1163.5h1.8M1046.4 1160.7h1.8M1046.5 1158h1.6M1046.8 1155.2h1.6" stroke="#b1a0c7" stroke-width="3.4" transform="scale(1 0.8)"/>
<path class="d" d="M1080.1 1551.2h27.6M1080.8 1548.5h25.9M1081.1 1545.7h25.3M1083 1543h21.4M1083.1 1540.2h21M1084.2 1537.5h18.5M1084.9 1534.7h17.5M1085 1532h16.8M1085.8 1529.2h16M1086.1 1526.5h15.7M1086 1523.7h15.2M1087.2 1521h13.2M1086.7 1518.2h13.2M1086.6 1515.5h13.3M1088.3 1512.7h11.1M1087.9 1510h11.7M1088.3 1507.2h10.1M1088.2 1504.5h11.1M1088.7 1501.7h9.9M1088.6 1499h9.7M1089.3 1496.2h8.8M1089.5 1493.5h8.1M1089.2 1490.7h8.5M1090 1488h7.5M1089.9 1485.2h7.9M1090 1482.5h7.5M1090.1 1479.7h7.2M1090.1 1477h7.1M1090.6 1474.2h6M1090.3 1471.5h7.2M1090.4 1468.7h5.8M1090.4 1466h6.8M1090.7 1463.2h6.3M1090.8 1460.5h5.9M1090.6 1457.7h5.7M1091.2 1455h5.4M1090.7 1452.2h6.1M1090.9 1449.5h5.7M1090.8 1446.7h5.3M1090.7 1444h5.7M1090.9 1441.2h5.1M1091.3 1438.5h5.2M1091.4 1435.7h4.8M1091 1433h5.1M1091.3 1430.2h4.5M1090.9 1427.5h5M1091.4 1424.7h4.6M1091.1 1422h4.4M1091.1 1419.2h5.1M1091.5 1416.5h4.2M1091 1413.7h4.7M1091.1 1411h4.4M1091 1408.2h4.7M1091.2 1405.5h4.4M1092 1402.7h3.9M1091.6 1400h4.7M1091.4 1397.2h4M1091.6 1394.5h4.4M1091.7 1391.7h3.8M1091.8 1389h3.7M1091.8 1386.2h3.8M1091.4 1383.5h3.9M1091.6 1380.7h3.8M1091.4 1378h3.8M1091.6 1375.2h3.9M1091.9 1372.5h3.6M1092 1369.7h3.6M1092 1367h3.3M1091.8 1364.2h3.2M1091.8 1361.5h3.5M1091.7 1358.7h3.4M1091.8 1356h3.2M1092 1353.2h3M1091.8 1350.5h3.5M1092.2 1347.7h3.2M1092.1 1345h3.3M1092.4 1342.2h3M1091.8 1339.5h3.3M1091.9 1336.7h3.1M1091.7 1334h3.2M1092 1331.2h2.8M1092.2 1328.5h2.9M1092.2 1325.7h3.2M1092.4 1323h2.8M1092.4 1320.2h2.9M1092.2 1317.5h3M1092 1314.7h3M1091.9 1312h2.9M1092.5 1309.2h2.8M1092.4 1306.5h2.9M1092.3 1303.7h3.1M1092.1 1301h2.8M1092.3 1298.2h2.8M1092 1295.5h2.8M1092.4 1292.7h2.8M1091.9 1290h2.8M1092.7 1287.2h2.5M1092.3 1284.5h2.8M1092.2 1281.7h2.6M1092 1279h2.7M1092.3 1276.2h2.5M1092 1273.5h2.8M1092.5 1270.7h2.6M1092.1 1268h2.5M1092.4 1265.2h2.8M1092.1 1262.5h2.5M1092.5 1259.7h2.4M1092.5 1257h2.7M1092 1254.2h2.6M1092.1 1251.5h2.4M1092.3 1248.7h2.6M1092.4 1246h2.7M1092.3 1243.2h2.2M1092.4 1240.5h2.6M1092.6 1237.7h2.5M1092.4 1235h2.3M1092.4 1232.2h2.4M1092.7 1229.5h2.4M1092.4 1226.7h2.2M1092.2 1224h2.5M1092.2 1221.2h2.3M1092.4 1218.5h2.1M1092.7 1215.7h2.2M1092.4 1213h2.3M1092.6 1210.2h2.2M1092.4 1207.5h2.3M1092.9 1204.7h2M1092.8 1202h2.3M1092.5 1199.2h1.9M1092.3 1196.5h2.1M1092.5 1193.7h2.1M1092.8 1191h2M1092.3 1188.2h1.9M1092.5 1185.5h2M1092.3 1182.7h2M1092.7 1180h2.2M1092.5 1177.2h2.1M1093 1174.5h1.8M1092.5 1171.7h1.9M1092.9 1169h2M1092.9 1166.2h1.9M1092.3 1163.5h2.1M1092.7 1160.7h1.7M1092.3 1158h1.9M1092.4 1155.2h2" stroke="#7030a0" stroke-width="3.4" transform="scale(1 0.8)"/>
<path class="d" d="M1001.2 925h0" stroke="#e4dfec" stroke-width="3.2"/>
<path d="M986 1166h30.4" stroke="#f9300f" stroke-width="2.4"/>
<path d="M1032.4 1162.8h30.4" stroke="#f9300f" stroke-width="2.4"/>
<path d="M1078.4 1144.1h30.4" stroke="#f9300f" stroke-width="2.4"/>
<path d="M1172.5 921.9V1242.5M1164 1242.5H1172.5M1164 1162.5H1172.5M1164 1082.5H1172.5M1164 1002.5H1172.5M1164 922.5H1172.5M1164 1242.5H1328.4M1203.5 1242.5v9M1250.5 1242.5v9M1297.5 1242.5v9" stroke="#3a3a3a" stroke-width="1.25"/>
<text transform="translate(1151.9 1250.4) scale(1.020 1)" text-anchor="end" font-size="23">0</text>
<text transform="translate(1151.9 1170.5) scale(1.020 1)" text-anchor="end" font-size="23">1</text>
<text transform="translate(1151.9 1090.5) scale(1.020 1)" text-anchor="end" font-size="23">2</text>
<text transform="translate(1151.9 1010.6) scale(1.020 1)" text-anchor="end" font-size="23">3</text>
<text transform="translate(1151.9 930.6) scale(1.020 1)" text-anchor="end" font-size="23">4</text>
<path class="d" d="M1190.6 1551.2h26.4M1190.3 1548.5h27.2M1196.9 1545.7h13.4M1201 1543h5.5M1201.3 1540.2h4.6M1202.1 1537.5h3.9M1201.9 1534.7h3.9M1202.1 1532h3.1M1201.8 1529.2h3.3M1202.5 1526.5h2.7M1202.6 1523.7h2.8M1202.1 1521h2.8M1202.2 1518.2h2.8M1202.1 1515.5h2.9M1202.1 1512.7h2.9M1202.1 1510h3.1M1202.3 1507.2h3M1202.1 1504.5h2.9M1202.1 1501.7h2.9M1202 1499h3M1202.1 1496.2h2.6M1202.8 1493.5h2.6M1202.2 1490.7h2.9M1202.2 1488h2.8M1202.4 1485.2h3M1202.5 1482.5h2.8M1202.2 1479.7h2.8M1202.1 1477h2.9M1202.6 1474.2h2.6M1202.2 1471.5h2.5M1202.3 1468.7h2.9M1202.7 1466h2.5M1202 1463.2h2.8M1202.5 1460.5h2.7M1202.1 1457.7h2.7M1202.7 1455h2.5M1202.5 1452.2h2.6M1202.7 1449.5h2.4M1202 1446.7h2.8M1202.3 1444h2.7M1202.3 1441.2h2.5M1202.5 1438.5h2.6M1202.6 1435.7h2.7M1202.8 1433h2.4M1202.4 1430.2h2.4M1202.6 1427.5h2.6M1202.6 1424.7h2.7M1202.6 1422h2.3M1202.2 1419.2h2.5M1202.6 1416.5h2.4M1202.7 1413.7h2.2M1202.5 1411h2.3M1202.3 1408.2h2.3M1202.7 1405.5h2.2M1202.5 1402.7h2.5M1202.6 1400h2.4M1202.3 1397.2h2.5M1202.4 1394.5h2.2M1202.3 1391.7h2.5M1202.5 1389h2.3M1202.3 1386.2h2.4M1202.7 1383.5h2.3M1202.5 1380.7h2.5M1202.5 1378h2.3M1202.4 1375.2h2.3M1202.8 1372.5h2.4M1202.2 1369.7h2.5M1202.7 1367h2.4M1202.7 1364.2h2.5M1202.5 1361.5h2.4M1202.9 1358.7h2.2M1202.4 1356h2.3M1202.4 1353.2h2.3M1202.3 1350.5h2.3M1202.4 1347.7h2.2M1202.8 1345h2.2M1202.3 1342.2h2.4M1202.6 1339.5h2.4M1202.2 1336.7h2.2M1202.4 1334h2.3M1202.4 1331.2h2.2M1202.3 1328.5h2.4M1202.7 1325.7h2.4M1202.5 1323h2.1M1202.3 1320.2h2.2M1202.8 1317.5h2.3M1202.6 1314.7h2M1202.6 1312h2.1M1202.5 1309.2h2.3M1202.6 1306.5h2.2M1202.4 1303.7h2M1202.9 1301h2.3M1202.4 1298.2h2.2M1202.6 1295.5h2.1M1202.4 1292.7h2.2M1202.4 1290h2M1202.6 1287.2h1.9M1202.7 1284.5h2.1M1202.8 1281.7h2.2M1202.7 1279h2.1M1202.5 1276.2h1.8M1202.9 1273.5h2.1M1202.4 1270.7h1.9M1202.9 1268h2M1203 1265.2h2.1M1202.4 1262.5h2.2M1202.6 1259.7h1.8M1202.8 1257h1.8M1202.8 1254.2h2.1M1202.6 1251.5h2M1203 1248.7h1.8M1202.6 1246h2.1M1202.9 1243.2h2.1M1202.9 1240.5h1.9M1202.5 1237.7h1.7M1202.5 1235h1.9M1202.9 1232.2h1.6M1202.9 1229.5h1.8M1202.9 1226.7h1.7M1202.9 1224h1.6M1203.1 1221.2h1.8M1202.6 1218.5h1.8M1203.2 1215.7h1.6M1202.5 1213h1.8M1203 1210.2h2M1202.7 1207.5h1.8M1202.8 1204.7h1.6M1202.6 1202h1.9M1202.7 1199.2h2M1203 1196.5h1.6M1202.7 1193.7h1.7M1203.3 1191h1.5M1203 1188.2h1.6M1202.8 1185.5h1.5M1202.9 1182.7h1.5M1202.8 1180h1.9M1202.8 1177.2h1.5M1202.9 1174.5h1.8M1202.9 1171.7h1.7M1202.9 1169h1.6M1203.2 1166.2h1.4M1203.2 1163.5h1.6M1203 1160.7h1.6M1202.9 1158h1.4" stroke="#e4dfec" stroke-width="3.4" transform="scale(1 0.8)"/>
<path class="d" d="M1236.7 1551.2h26.7M1237.1 1548.5h25.8M1240.4 1545.7h18.9M1245.2 1543h9.2M1245.9 1540.2h8.6M1247.4 1537.5h6.1M1247.5 1534.7h5.2M1247.7 1532h4.6M1248.3 1529.2h3.9M1248 1526.5h3.8M1247.8 1523.7h4.3M1248.2 1521h3.8M1248.3 1518.2h3.9M1248.5 1515.5h3.6M1247.9 1512.7h3.7M1247.9 1510h4.2M1248.5 1507.2h3.8M1248.4 1504.5h3.9M1248.6 1501.7h3.4M1247.9 1499h3.8M1248 1496.2h3.9M1248.4 1493.5h3.6M1248.7 1490.7h3.3M1248.4 1488h3.9M1248.2 1485.2h3.5M1248.5 1482.5h3.8M1248.2 1479.7h3.3M1248.3 1477h3.5M1248.2 1474.2h3.2M1249 1471.5h3M1248.8 1468.7h3M1248.5 1466h3M1248.2 1463.2h3.1M1248.8 1460.5h3.3M1248.8 1457.7h3.1M1248.4 1455h3.1M1248.7 1452.2h3.1M1248.8 1449.5h3.1M1248.5 1446.7h2.7M1248.9 1444h2.7M1248.9 1441.2h2.8M1248.8 1438.5h3.1M1248.5 1435.7h2.7M1248.7 1433h2.6M1248.5 1430.2h3.1M1248.8 1427.5h2.9M1248.7 1424.7h2.7M1248.9 1422h2.9M1248.8 1419.2h3.1M1249 1416.5h2.8M1248.5 1413.7h2.7M1248.7 1411h3M1248.7 1408.2h2.6M1248.6 1405.5h2.6M1248.7 1402.7h2.8M1248.6 1400h2.6M1249 1397.2h2.9M1248.8 1394.5h2.8M1249 1391.7h2.9M1248.7 1389h3M1248.7 1386.2h2.8M1248.7 1383.5h2.8M1249.1 1380.7h2.5M1248.8 1378h2.9M1248.9 1375.2h2.8M1248.5 1372.5h2.9M1248.5 1369.7h2.6M1249 1367h2.6M1248.3 1364.2h2.9M1248.6 1361.5h2.9M1249 1358.7h2.7M1248.4 1356h2.9M1248.7 1353.2h2.9M1248.9 1350.5h2.6M1249 1347.7h2.8M1249 1345h2.9M1248.6 1342.2h2.4M1248.7 1339.5h2.8M1249.1 1336.7h2.4M1248.6 1334h2.5M1249.1 1331.2h2.4M1248.9 1328.5h2.5M1249.1 1325.7h2.6M1248.9 1323h2.4M1248.8 1320.2h2.5M1248.4 1317.5h2.8M1249 1314.7h2.4M1248.9 1312h2.3M1249.2 1309.2h2.3M1248.9 1306.5h2.4M1248.6 1303.7h2.6M1248.7 1301h2.5M1248.6 1298.2h2.3M1248.7 1295.5h2.4M1249 1292.7h2.2M1248.6 1290h2.6M1248.5 1287.2h2.5M1248.7 1284.5h2.3M1248.7 1281.7h2.3M1248.8 1279h2.6M1249 1276.2h2.3M1248.8 1273.5h2.5M1248.8 1270.7h2.6M1248.7 1268h2.3M1249.2 1265.2h2.2M1249 1262.5h2.1M1249.2 1259.7h2.3M1249 1257h2.1M1249.3 1254.2h2.2M1249 1251.5h2.1M1249.1 1248.7h2.1M1249.2 1246h2.3M1248.7 1243.2h2.5M1248.8 1240.5h2.2M1249.1 1237.7h2.4M1249 1235h2.1M1248.9 1232.2h2.3M1248.8 1229.5h2.1M1248.7 1226.7h2.2M1248.7 1224h2.4M1249 1221.2h2.1M1248.8 1218.5h2.1M1249.3 1215.7h2.2M1248.9 1213h2.3M1249.2 1210.2h1.9M1248.8 1207.5h2M1249 1204.7h2.1M1248.8 1202h2.2M1248.8 1199.2h2.2M1248.9 1196.5h2.1M1249.4 1193.7h1.9M1248.9 1191h2M1249.2 1188.2h2M1249.5 1185.5h1.9M1249 1182.7h1.9M1249.3 1180h2.2M1249.4 1177.2h2.1M1248.9 1174.5h2M1249.2 1171.7h2M1249.2 1169h2.2M1249 1166.2h1.9M1248.9 1163.5h1.9M1249.2 1160.7h1.9M1249.2 1158h2.1" stroke="#b1a0c7" stroke-width="3.4" transform="scale(1 0.8)"/>
<path class="d" d="M1283.5 1551.2h26.5M1284.5 1548.5h25.1M1284.9 1545.7h23.5M1287.3 1543h19.6M1288.3 1540.2h17.4M1289.3 1537.5h15.2M1289.9 1534.7h14.8M1290.2 1532h14.2M1290.3 1529.2h13.7M1291.1 1526.5h12.1M1291 1523.7h11.3M1291.2 1521h11M1291.6 1518.2h10.9M1292.4 1515.5h9.6M1292 1512.7h10.5M1291.9 1510h10.1M1291.8 1507.2h9.8M1292.2 1504.5h9.7M1293.1 1501.7h8.2M1292.6 1499h8.8M1292.7 1496.2h8.8M1293.3 1493.5h7.9M1293.2 1490.7h7.1M1292.5 1488h8.6M1292.9 1485.2h7.9M1293.5 1482.5h7.3M1293.6 1479.7h6.7M1293.3 1477h7.2M1293.3 1474.2h7.4M1293.6 1471.5h6.5M1294 1468.7h6.7M1293.7 1466h6.3M1294.1 1463.2h6.2M1293.9 1460.5h5.6M1294.4 1457.7h5M1294 1455h5.7M1294 1452.2h5.3M1294.3 1449.5h5.4M1294.2 1446.7h5.3M1294.9 1444h4.6M1294.2 1441.2h5.3M1294.5 1438.5h4.9M1294.7 1435.7h4.6M1294.5 1433h5.3M1294.6 1430.2h5M1294.8 1427.5h5M1294.9 1424.7h4.2M1294.9 1422h4.3M1294.9 1419.2h4.7M1294.9 1416.5h4.7M1294.8 1413.7h4.9M1295 1411h4.5M1294.5 1408.2h4.8M1294.9 1405.5h4.6M1295 1402.7h4M1295 1400h4.6M1295.1 1397.2h4.2M1294.8 1394.5h4.5M1295.2 1391.7h3.9M1294.6 1389h4.3M1294.7 1386.2h4.1M1295.3 1383.5h3.6M1295 1380.7h4.2M1295.4 1378h3.6M1294.9 1375.2h3.9M1295 1372.5h3.9M1294.9 1369.7h3.6M1295 1367h3.4M1295.4 1364.2h3.7M1295.6 1361.5h3.4M1295.5 1358.7h3.7M1295.6 1356h3.3M1295 1353.2h3.6M1295 1350.5h3.4M1295.3 1347.7h3.6M1295.2 1345h3.6M1295.1 1342.2h3.1M1295.3 1339.5h3M1295.6 1336.7h3.2M1295.3 1334h3.6M1295.1 1331.2h3.4M1295.1 1328.5h3.3M1295.5 1325.7h3.3M1295.1 1323h3.3M1295.2 1320.2h3.3M1295.1 1317.5h3.4M1295.1 1314.7h3.2M1295.6 1312h3M1295.4 1309.2h3M1295.3 1306.5h3.4M1295.5 1303.7h3.2M1295.5 1301h2.8M1295.8 1298.2h2.9M1295.2 1295.5h3M1295.6 1292.7h2.8M1295.4 1290h3M1295.9 1287.2h2.8M1295.8 1284.5h2.8M1295.8 1281.7h2.8M1295.6 1279h2.7M1295.7 1276.2h2.7M1295.6 1273.5h3.1M1295.8 1270.7h2.6M1295.6 1268h2.7M1295.5 1265.2h2.5M1295.8 1262.5h2.8M1296 1259.7h2.5M1295.3 1257h2.8M1295.5 1254.2h3M1295.4 1251.5h2.8M1295.7 1248.7h2.5M1295.8 1246h2.6M1295.5 1243.2h2.4M1295.3 1240.5h2.8M1295.4 1237.7h2.8M1295.7 1235h2.8M1295.9 1232.2h2.6M1295.9 1229.5h2.6M1295.4 1226.7h2.6M1295.6 1224h2.6M1296 1221.2h2.7M1296.2 1218.5h2.3M1295.9 1215.7h2.6M1295.9 1213h2.3M1295.6 1210.2h2.5M1295.7 1207.5h2.2M1295.7 1204.7h2.2M1296.1 1202h2.2M1295.8 1199.2h2.3M1295.7 1196.5h2.5M1295.4 1193.7h2.5M1295.8 1191h2M1295.5 1188.2h2.4M1296.2 1185.5h2.2M1296.1 1182.7h2.4M1296.1 1180h2.3M1296 1177.2h2M1295.6 1174.5h2.3M1295.7 1171.7h2.3M1296.1 1169h2.3M1296 1166.2h2.3M1296.2 1163.5h2.1M1296.3 1160.7h2M1296.2 1158h1.9M1295.8 1155.2h1.8" stroke="#7030a0" stroke-width="3.4" transform="scale(1 0.8)"/>
<path d="M1188.5 1129.3h30.4" stroke="#f9300f" stroke-width="2.4"/>
<path d="M1234.9 1125.7h30.4" stroke="#f9300f" stroke-width="2.4"/>
<path d="M1281.8 1128.5h30.4" stroke="#f9300f" stroke-width="2.4"/>
<rect x="1328.8" y="922.6" width="39.8" height="38" fill="#e4dfec" stroke="#333" stroke-width="1.2"/>
<text transform="translate(1382.8 950.7) scale(1.024 1)">Migratory</text>
<rect x="1328.8" y="960.6" width="39.8" height="38" fill="#b1a0c7" stroke="#333" stroke-width="1.2"/>
<text transform="translate(1382.8 988.4) scale(1.058 1)">Mitotic</text>
<rect x="1328.8" y="998.6" width="39.8" height="38" fill="#7030a0" stroke="#333" stroke-width="1.2"/>
<text transform="translate(1382.8 1026.1) scale(1.026 1)">Mitotic arrest</text>
<text transform="translate(1590.8 855.8) scale(1.045 1)" font-weight="bold" font-size="41" stroke="#000" stroke-width="1.3" stroke-linejoin="round">d</text>
<text transform="translate(1627.5 864.5) scale(0.960 1)">DMRT1 peak number</text>
<path d="M1636.5 1188.4V877.5H1858.5V1188.4M1636.5 1176.5H1858.5M1710.5 1176.5v12M1784.5 1176.5v12" stroke="#3a3a3a" stroke-width="1.25"/>
<rect x="1672.5" y="900.5" width="186" height="33" fill="#9bbf9f" stroke="#3a3a3a" stroke-width="1.2"/>
<path d="M1858.5 916.5L1870.6 916.5" stroke="#3a3a3a" stroke-width="1.25"/>
<text transform="translate(1882.1 924.5) scale(1.014 1)">Tigger3b</text>
<rect x="1720.5" y="955.5" width="138" height="34" fill="#9bbf9f" stroke="#3a3a3a" stroke-width="1.2"/>
<path d="M1858.5 972.5L1870.6 972.5" stroke="#3a3a3a" stroke-width="1.25"/>
<text transform="translate(1882.1 980.1) scale(0.968 1)">ALR/Alpha</text>
<rect x="1740.5" y="1011.5" width="118" height="33" fill="#9bbf9f" stroke="#3a3a3a" stroke-width="1.2"/>
<path d="M1858.5 1028.5L1870.6 1028.5" stroke="#3a3a3a" stroke-width="1.25"/>
<text transform="translate(1882.1 1035.8) scale(0.892 1)">MIR</text>
<rect x="1745.5" y="1067.5" width="113" height="33" fill="#9bbf9f" stroke="#3a3a3a" stroke-width="1.2"/>
<path d="M1858.5 1084.5L1870.6 1084.5" stroke="#3a3a3a" stroke-width="1.25"/>
<text transform="translate(1882.1 1091.9)">Tigger3a</text>
<rect x="1749.5" y="1123.5" width="109" height="33" fill="#9bbf9f" stroke="#3a3a3a" stroke-width="1.2"/>
<path d="M1858.5 1139.5L1870.6 1139.5" stroke="#3a3a3a" stroke-width="1.25"/>
<text transform="translate(1882.1 1147.6) scale(0.854 1)">LTR12C</text>
<text transform="translate(1636.5 1216.3) scale(0.930 1)" text-anchor="middle" font-size="23">150</text>
<text transform="translate(1710.5 1216.3) scale(0.930 1)" text-anchor="middle" font-size="23">100</text>
<text transform="translate(1784.4 1216.3) scale(0.930 1)" text-anchor="middle" font-size="23">50</text>
<text transform="translate(1858.4 1216.3) scale(1.020 1)" text-anchor="middle" font-size="23">0</text>
<g font-weight="bold" font-size="10">
<text transform="matrix(2.950 0 0 3.216 94.4 1372.4)" fill="#0a0">A</text>
<text transform="matrix(2.738 0 0 2.824 94.4 1392.7)" fill="#f90">G</text>
<text transform="matrix(2.950 0 0 0.328 94.4 1395.4)" fill="#00e">C</text>
<text transform="matrix(2.738 0 0 3.941 115.7 1378.2)" fill="#f90">G</text>
<text transform="matrix(2.950 0 0 1.916 115.7 1392)" fill="#0a0">A</text>
<text transform="matrix(3.486 0 0 0.479 115.7 1395.4)" fill="#d00">T</text>
<text transform="matrix(2.950 0 0 6.240 137 1394.7)" fill="#00e">C</text>
<text transform="matrix(2.950 0 0 6.240 158.3 1394.7)" fill="#00e">C</text>
<text transform="matrix(2.950 0 0 6.500 179.6 1395.4)" fill="#0a0">A</text>
<text transform="matrix(2.950 0 0 6.500 200.9 1395.4)" fill="#0a0">A</text>
<text transform="matrix(3.486 0 0 6.500 222.2 1395.4)" fill="#d00">T</text>
<text transform="matrix(2.950 0 0 2.865 243.5 1370.5)" fill="#00e">C</text>
<text transform="matrix(2.738 0 0 2.674 243.5 1390)" fill="#f90">G</text>
<text transform="matrix(2.950 0 0 0.464 243.5 1393.5)" fill="#0a0">A</text>
<text transform="matrix(3.486 0 0 0.265 243.5 1395.4)" fill="#d00">T</text>
<text transform="matrix(2.738 0 0 2.702 264.8 1369.3)" fill="#f90">G</text>
<text transform="matrix(2.950 0 0 3.351 264.8 1393.1)" fill="#0a0">A</text>
<text transform="matrix(2.950 0 0 0.322 264.8 1395.4)" fill="#00e">C</text>
<text transform="matrix(2.738 0 0 4.246 286.1 1380.4)" fill="#f90">G</text>
<text transform="matrix(2.950 0 0 1.094 286.1 1388.7)" fill="#00e">C</text>
<text transform="matrix(2.950 0 0 0.670 286.1 1393.5)" fill="#0a0">A</text>
<text transform="matrix(3.486 0 0 0.268 286.1 1395.4)" fill="#d00">T</text>
<text transform="matrix(2.950 0 0 2.627 94.4 1421.4)" fill="#00e">C</text>
<text transform="matrix(2.738 0 0 1.642 94.4 1433.5)" fill="#f90">G</text>
<text transform="matrix(3.486 0 0 1.232 94.4 1442.3)" fill="#d00">T</text>
<text transform="matrix(2.950 0 0 0.821 94.4 1448)" fill="#0a0">A</text>
<text transform="matrix(3.486 0 0 2.505 115.7 1420)" fill="#d00">T</text>
<text transform="matrix(2.950 0 0 1.950 115.7 1434)" fill="#00e">C</text>
<text transform="matrix(2.950 0 0 1.083 115.7 1441.8)" fill="#0a0">A</text>
<text transform="matrix(2.738 0 0 0.845 115.7 1447.9)" fill="#f90">G</text>
<text transform="matrix(3.486 0 0 6.500 137 1448)" fill="#d00">T</text>
<text transform="matrix(2.738 0 0 5.094 158.3 1439.1)" fill="#f90">G</text>
<text transform="matrix(2.950 0 0 1.194 158.3 1448)" fill="#0a0">A</text>
<text transform="matrix(3.486 0 0 6.500 179.6 1448)" fill="#d00">T</text>
<text transform="matrix(3.486 0 0 6.237 200.9 1446.2)" fill="#d00">T</text>
<text transform="matrix(2.738 0 0 0.252 200.9 1448)" fill="#f90">G</text>
<text transform="matrix(3.486 0 0 4.875 222.2 1436.6)" fill="#d00">T</text>
<text transform="matrix(2.738 0 0 1.560 222.2 1447.8)" fill="#f90">G</text>
<text transform="matrix(2.950 0 0 6.237 243.5 1446.2)" fill="#0a0">A</text>
<text transform="matrix(3.486 0 0 0.263 243.5 1448)" fill="#d00">T</text>
<text transform="matrix(2.950 0 0 6.240 264.8 1447.3)" fill="#00e">C</text>
<text transform="matrix(2.950 0 0 2.911 286.1 1422.9)" fill="#0a0">A</text>
<text transform="matrix(3.486 0 0 2.776 286.1 1442.3)" fill="#d00">T</text>
<text transform="matrix(2.950 0 0 0.780 286.1 1447.9)" fill="#00e">C</text>
<text transform="matrix(3.486 0 0 2.708 307.4 1421.5)" fill="#d00">T</text>
<text transform="matrix(2.950 0 0 2.145 307.4 1436.9)" fill="#00e">C</text>
<text transform="matrix(2.738 0 0 0.845 307.4 1443.2)" fill="#f90">G</text>
<text transform="matrix(2.950 0 0 0.677 307.4 1448)" fill="#0a0">A</text>
<text transform="matrix(2.950 0 0 3.250 328.7 1425.2)" fill="#0a0">A</text>
<text transform="matrix(3.486 0 0 2.911 328.7 1445.6)" fill="#d00">T</text>
<text transform="matrix(2.950 0 0 0.325 328.7 1448)" fill="#00e">C</text>
<text transform="matrix(2.738 0 0 1.792 94.4 1468.1)" fill="#f90">G</text>
<text transform="matrix(2.950 0 0 1.729 94.4 1480.4)" fill="#0a0">A</text>
<text transform="matrix(2.950 0 0 1.460 94.4 1490.9)" fill="#00e">C</text>
<text transform="matrix(3.486 0 0 1.383 94.4 1500.7)" fill="#d00">T</text>
<text transform="matrix(2.738 0 0 1.971 115.7 1469.4)" fill="#f90">G</text>
<text transform="matrix(2.950 0 0 1.916 115.7 1483)" fill="#0a0">A</text>
<text transform="matrix(3.486 0 0 1.368 115.7 1492.6)" fill="#d00">T</text>
<text transform="matrix(2.950 0 0 1.117 115.7 1500.6)" fill="#00e">C</text>
<text transform="matrix(2.950 0 0 2.759 137 1475)" fill="#00e">C</text>
<text transform="matrix(2.738 0 0 1.511 137 1486.2)" fill="#f90">G</text>
<text transform="matrix(3.486 0 0 1.232 137 1495)" fill="#d00">T</text>
<text transform="matrix(2.950 0 0 0.821 137 1500.7)" fill="#0a0">A</text>
<text transform="matrix(3.486 0 0 5.146 158.3 1491.2)" fill="#d00">T</text>
<text transform="matrix(2.950 0 0 1.300 158.3 1500.6)" fill="#00e">C</text>
<text transform="matrix(2.950 0 0 4.266 179.6 1485.1)" fill="#0a0">A</text>
<text transform="matrix(2.950 0 0 0.910 179.6 1491.6)" fill="#00e">C</text>
<text transform="matrix(2.738 0 0 0.845 179.6 1497.8)" fill="#f90">G</text>
<text transform="matrix(3.486 0 0 0.406 179.6 1500.7)" fill="#d00">T</text>
<text transform="matrix(2.950 0 0 6.500 200.9 1500.7)" fill="#0a0">A</text>
<text transform="matrix(3.486 0 0 6.232 222.2 1498.8)" fill="#d00">T</text>
<text transform="matrix(2.950 0 0 0.257 222.2 1500.7)" fill="#00e">C</text>
<text transform="matrix(3.486 0 0 4.495 243.5 1486.7)" fill="#d00">T</text>
<text transform="matrix(2.738 0 0 0.929 243.5 1493.3)" fill="#f90">G</text>
<text transform="matrix(2.950 0 0 0.996 243.5 1500.6)" fill="#00e">C</text>
<text transform="matrix(2.950 0 0 4.740 264.8 1488.4)" fill="#0a0">A</text>
<text transform="matrix(2.738 0 0 1.690 264.8 1500.5)" fill="#f90">G</text>
<text transform="matrix(2.738 0 0 2.102 286.1 1470.3)" fill="#f90">G</text>
<text transform="matrix(2.950 0 0 1.773 286.1 1483.3)" fill="#00e">C</text>
<text transform="matrix(2.950 0 0 1.437 286.1 1493.5)" fill="#0a0">A</text>
<text transform="matrix(3.486 0 0 1.026 286.1 1500.7)" fill="#d00">T</text>
<text transform="matrix(3.486 0 0 2.546 94.4 1525.7)" fill="#d00">T</text>
<text transform="matrix(2.950 0 0 1.158 94.4 1534)" fill="#00e">C</text>
<text transform="matrix(2.950 0 0 1.474 94.4 1544.5)" fill="#0a0">A</text>
<text transform="matrix(2.738 0 0 1.222 94.4 1553.3)" fill="#f90">G</text>
<text transform="matrix(3.486 0 0 2.546 115.7 1525.7)" fill="#d00">T</text>
<text transform="matrix(2.950 0 0 2.144 115.7 1540.7)" fill="#0a0">A</text>
<text transform="matrix(2.738 0 0 1.222 115.7 1549.5)" fill="#f90">G</text>
<text transform="matrix(2.950 0 0 0.515 115.7 1553.3)" fill="#00e">C</text>
<text transform="matrix(2.738 0 0 5.018 137 1543.9)" fill="#f90">G</text>
<text transform="matrix(3.486 0 0 0.335 137 1546.8)" fill="#d00">T</text>
<text transform="matrix(2.950 0 0 0.938 137 1553.4)" fill="#0a0">A</text>
<text transform="matrix(2.950 0 0 2.546 158.3 1525.7)" fill="#0a0">A</text>
<text transform="matrix(3.486 0 0 1.876 158.3 1538.9)" fill="#d00">T</text>
<text transform="matrix(2.950 0 0 1.673 158.3 1550.9)" fill="#00e">C</text>
<text transform="matrix(2.738 0 0 0.322 158.3 1553.4)" fill="#f90">G</text>
<text transform="matrix(3.486 0 0 3.515 179.6 1532.5)" fill="#d00">T</text>
<text transform="matrix(2.950 0 0 1.923 179.6 1546)" fill="#0a0">A</text>
<text transform="matrix(2.950 0 0 0.637 179.6 1550.5)" fill="#00e">C</text>
<text transform="matrix(2.738 0 0 0.382 179.6 1553.4)" fill="#f90">G</text>
<text transform="matrix(2.950 0 0 6.168 200.9 1551.1)" fill="#0a0">A</text>
<text transform="matrix(3.486 0 0 0.332 200.9 1553.4)" fill="#d00">T</text>
<text transform="matrix(2.950 0 0 5.468 222.2 1547.2)" fill="#00e">C</text>
<text transform="matrix(3.486 0 0 0.402 222.2 1550.6)" fill="#d00">T</text>
<text transform="matrix(2.950 0 0 0.402 222.2 1553.4)" fill="#0a0">A</text>
<text transform="matrix(2.950 0 0 4.510 243.5 1539.5)" fill="#0a0">A</text>
<text transform="matrix(3.486 0 0 1.724 243.5 1551.5)" fill="#d00">T</text>
<text transform="matrix(2.950 0 0 0.255 243.5 1553.4)" fill="#00e">C</text>
<text transform="matrix(3.486 0 0 2.776 264.8 1527.3)" fill="#d00">T</text>
<text transform="matrix(2.950 0 0 2.573 264.8 1545.3)" fill="#0a0">A</text>
<text transform="matrix(2.950 0 0 0.585 264.8 1549.5)" fill="#00e">C</text>
<text transform="matrix(2.738 0 0 0.520 264.8 1553.3)" fill="#f90">G</text>
<text transform="matrix(3.486 0 0 4.643 286.1 1540.4)" fill="#d00">T</text>
<text transform="matrix(2.950 0 0 1.592 286.1 1551.5)" fill="#0a0">A</text>
<text transform="matrix(2.950 0 0 0.255 286.1 1553.4)" fill="#00e">C</text>
<text transform="matrix(2.738 0 0 5.673 307.4 1548.6)" fill="#f90">G</text>
<text transform="matrix(3.486 0 0 0.328 307.4 1551.6)" fill="#d00">T</text>
<text transform="matrix(2.950 0 0 0.263 307.4 1553.4)" fill="#0a0">A</text>
<text transform="matrix(3.486 0 0 6.500 328.7 1553.4)" fill="#d00">T</text>
<text transform="matrix(2.950 0 0 3.385 350 1531.6)" fill="#0a0">A</text>
<text transform="matrix(3.486 0 0 2.099 350 1546.3)" fill="#d00">T</text>
<text transform="matrix(2.738 0 0 0.585 350 1550.5)" fill="#f90">G</text>
<text transform="matrix(2.950 0 0 0.390 350 1553.4)" fill="#00e">C</text>
<text transform="matrix(3.486 0 0 2.573 371.3 1525.9)" fill="#d00">T</text>
<text transform="matrix(2.738 0 0 1.690 371.3 1538)" fill="#f90">G</text>
<text transform="matrix(2.950 0 0 1.760 371.3 1550.6)" fill="#0a0">A</text>
<text transform="matrix(2.950 0 0 0.390 371.3 1553.4)" fill="#00e">C</text>
<text transform="matrix(2.950 0 0 4.555 392.6 1540.6)" fill="#00e">C</text>
<text transform="matrix(3.486 0 0 0.910 392.6 1547.5)" fill="#d00">T</text>
<text transform="matrix(2.950 0 0 0.520 392.6 1551.1)" fill="#0a0">A</text>
<text transform="matrix(2.738 0 0 0.312 392.6 1553.4)" fill="#f90">G</text>
<text transform="matrix(2.738 0 0 2.993 94.4 1582.1)" fill="#f90">G</text>
<text transform="matrix(2.950 0 0 2.653 94.4 1601)" fill="#0a0">A</text>
<text transform="matrix(3.486 0 0 0.464 94.4 1604.2)" fill="#d00">T</text>
<text transform="matrix(2.950 0 0 0.255 94.4 1606.1)" fill="#00e">C</text>
<text transform="matrix(2.738 0 0 3.538 115.7 1586)" fill="#f90">G</text>
<text transform="matrix(2.950 0 0 1.415 115.7 1596.6)" fill="#00e">C</text>
<text transform="matrix(2.950 0 0 0.804 115.7 1602.3)" fill="#0a0">A</text>
<text transform="matrix(3.486 0 0 0.536 115.7 1606.1)" fill="#d00">T</text>
<text transform="matrix(2.950 0 0 4.875 137 1595.6)" fill="#00e">C</text>
<text transform="matrix(3.486 0 0 1.422 137 1606.1)" fill="#d00">T</text>
<text transform="matrix(2.950 0 0 3.860 158.3 1588.3)" fill="#00e">C</text>
<text transform="matrix(2.950 0 0 2.211 158.3 1604.2)" fill="#0a0">A</text>
<text transform="matrix(2.738 0 0 0.257 158.3 1606.1)" fill="#f90">G</text>
<text transform="matrix(2.950 0 0 6.237 179.6 1604.3)" fill="#0a0">A</text>
<text transform="matrix(3.486 0 0 0.263 179.6 1606.1)" fill="#d00">T</text>
<text transform="matrix(3.486 0 0 6.500 200.9 1606.1)" fill="#d00">T</text>
<text transform="matrix(3.486 0 0 4.356 222.2 1591.1)" fill="#d00">T</text>
<text transform="matrix(2.950 0 0 2.059 222.2 1605.9)" fill="#00e">C</text>
<text transform="matrix(2.950 0 0 4.979 243.5 1595.5)" fill="#0a0">A</text>
<text transform="matrix(2.950 0 0 0.730 243.5 1600.7)" fill="#00e">C</text>
<text transform="matrix(3.486 0 0 0.761 243.5 1606.1)" fill="#d00">T</text>
<text transform="matrix(2.950 0 0 3.820 264.8 1587.3)" fill="#0a0">A</text>
<text transform="matrix(2.738 0 0 1.351 264.8 1597)" fill="#f90">G</text>
<text transform="matrix(2.950 0 0 0.708 264.8 1602.3)" fill="#00e">C</text>
<text transform="matrix(3.486 0 0 0.536 264.8 1606.1)" fill="#d00">T</text>
<text transform="matrix(2.950 0 0 2.956 286.1 1581.8)" fill="#00e">C</text>
<text transform="matrix(2.738 0 0 1.314 286.1 1591.6)" fill="#f90">G</text>
<text transform="matrix(2.950 0 0 1.437 286.1 1601.8)" fill="#0a0">A</text>
<text transform="matrix(3.486 0 0 0.616 286.1 1606.1)" fill="#d00">T</text>
<text transform="matrix(3.486 0 0 2.747 94.4 1632.5)" fill="#d00">T</text>
<text transform="matrix(2.950 0 0 1.675 94.4 1644.3)" fill="#0a0">A</text>
<text transform="matrix(2.950 0 0 1.094 94.4 1652.1)" fill="#00e">C</text>
<text transform="matrix(2.738 0 0 0.901 94.4 1658.7)" fill="#f90">G</text>
<text transform="matrix(3.486 0 0 2.600 115.7 1631.5)" fill="#d00">T</text>
<text transform="matrix(2.950 0 0 1.847 115.7 1644.4)" fill="#0a0">A</text>
<text transform="matrix(2.738 0 0 1.445 115.7 1654.8)" fill="#f90">G</text>
<text transform="matrix(2.950 0 0 0.525 115.7 1658.7)" fill="#00e">C</text>
<text transform="matrix(2.738 0 0 5.094 137 1649.9)" fill="#f90">G</text>
<text transform="matrix(2.950 0 0 0.663 137 1655.1)" fill="#0a0">A</text>
<text transform="matrix(3.486 0 0 0.531 137 1658.8)" fill="#d00">T</text>
<text transform="matrix(2.950 0 0 2.010 158.3 1627.4)" fill="#0a0">A</text>
<text transform="matrix(3.486 0 0 2.345 158.3 1643.8)" fill="#d00">T</text>
<text transform="matrix(2.950 0 0 1.737 158.3 1656.3)" fill="#00e">C</text>
<text transform="matrix(2.738 0 0 0.322 158.3 1658.8)" fill="#f90">G</text>
<text transform="matrix(3.486 0 0 3.115 179.6 1635.1)" fill="#d00">T</text>
<text transform="matrix(2.950 0 0 2.167 179.6 1650.3)" fill="#0a0">A</text>
<text transform="matrix(2.950 0 0 0.780 179.6 1655.9)" fill="#00e">C</text>
<text transform="matrix(2.738 0 0 0.390 179.6 1658.8)" fill="#f90">G</text>
<text transform="matrix(2.950 0 0 6.102 200.9 1656)" fill="#0a0">A</text>
<text transform="matrix(3.486 0 0 0.398 200.9 1658.8)" fill="#d00">T</text>
<text transform="matrix(2.950 0 0 5.443 222.2 1652.4)" fill="#00e">C</text>
<text transform="matrix(3.486 0 0 0.415 222.2 1655.9)" fill="#d00">T</text>
<text transform="matrix(2.950 0 0 0.415 222.2 1658.8)" fill="#0a0">A</text>
<text transform="matrix(2.950 0 0 4.444 243.5 1644.4)" fill="#0a0">A</text>
<text transform="matrix(3.486 0 0 1.791 243.5 1656.9)" fill="#d00">T</text>
<text transform="matrix(2.950 0 0 0.255 243.5 1658.8)" fill="#00e">C</text>
<text transform="matrix(3.486 0 0 2.463 264.8 1630.5)" fill="#d00">T</text>
<text transform="matrix(2.950 0 0 2.737 264.8 1649.7)" fill="#0a0">A</text>
<text transform="matrix(2.738 0 0 0.657 264.8 1654.4)" fill="#f90">G</text>
<text transform="matrix(2.950 0 0 0.591 264.8 1658.7)" fill="#00e">C</text>
<text transform="matrix(3.486 0 0 4.444 286.1 1644.4)" fill="#d00">T</text>
<text transform="matrix(2.950 0 0 1.791 286.1 1656.9)" fill="#0a0">A</text>
<text transform="matrix(2.950 0 0 0.255 286.1 1658.8)" fill="#00e">C</text>
<text transform="matrix(2.738 0 0 5.412 307.4 1652.2)" fill="#f90">G</text>
<text transform="matrix(2.950 0 0 0.531 307.4 1656.5)" fill="#0a0">A</text>
<text transform="matrix(3.486 0 0 0.332 307.4 1658.8)" fill="#d00">T</text>
<text transform="matrix(3.486 0 0 6.301 328.7 1657.4)" fill="#d00">T</text>
<text transform="matrix(2.950 0 0 0.199 328.7 1658.8)" fill="#0a0">A</text>
<text transform="matrix(2.950 0 0 2.948 350 1633.9)" fill="#0a0">A</text>
<text transform="matrix(3.486 0 0 2.345 350 1650.4)" fill="#d00">T</text>
<text transform="matrix(2.738 0 0 0.772 350 1655.9)" fill="#f90">G</text>
<text transform="matrix(2.950 0 0 0.386 350 1658.8)" fill="#00e">C</text>
<text transform="matrix(3.486 0 0 2.053 371.3 1627.7)" fill="#d00">T</text>
<text transform="matrix(2.950 0 0 2.258 371.3 1643.5)" fill="#0a0">A</text>
<text transform="matrix(2.738 0 0 1.642 371.3 1655.3)" fill="#f90">G</text>
<text transform="matrix(2.950 0 0 0.460 371.3 1658.7)" fill="#00e">C</text>
<text transform="matrix(2.950 0 0 4.393 392.6 1644.9)" fill="#00e">C</text>
<text transform="matrix(3.486 0 0 0.929 392.6 1651.8)" fill="#d00">T</text>
<text transform="matrix(2.950 0 0 0.663 392.6 1656.5)" fill="#0a0">A</text>
<text transform="matrix(2.738 0 0 0.318 392.6 1658.8)" fill="#f90">G</text>
<text transform="matrix(3.380 0 0 2.560 909.8 1368.1)" fill="#0a0">A</text>
<text transform="matrix(3.136 0 0 1.661 909.8 1380)" fill="#f90">G</text>
<text transform="matrix(3.993 0 0 1.384 909.8 1389.9)" fill="#d00">T</text>
<text transform="matrix(3.380 0 0 0.930 909.8 1396.6)" fill="#00e">C</text>
<text transform="matrix(3.993 0 0 2.768 934.2 1369.6)" fill="#d00">T</text>
<text transform="matrix(3.136 0 0 1.461 934.2 1380.1)" fill="#f90">G</text>
<text transform="matrix(3.380 0 0 1.329 934.2 1389.8)" fill="#00e">C</text>
<text transform="matrix(3.380 0 0 0.969 934.2 1396.7)" fill="#0a0">A</text>
<text transform="matrix(3.993 0 0 6.643 958.6 1396.7)" fill="#d00">T</text>
<text transform="matrix(3.993 0 0 6.643 983 1396.7)" fill="#d00">T</text>
<text transform="matrix(3.380 0 0 6.377 1007.4 1396)" fill="#00e">C</text>
<text transform="matrix(3.993 0 0 4.705 1031.8 1383.1)" fill="#d00">T</text>
<text transform="matrix(3.380 0 0 1.860 1031.8 1396.5)" fill="#00e">C</text>
<text transform="matrix(3.993 0 0 1.868 1056.2 1363.3)" fill="#d00">T</text>
<text transform="matrix(3.380 0 0 1.730 1056.2 1375.4)" fill="#0a0">A</text>
<text transform="matrix(3.136 0 0 1.461 1056.2 1385.9)" fill="#f90">G</text>
<text transform="matrix(3.380 0 0 1.461 1056.2 1396.5)" fill="#00e">C</text>
<text transform="matrix(3.380 0 0 4.609 1080.6 1382.5)" fill="#0a0">A</text>
<text transform="matrix(3.136 0 0 1.952 1080.6 1396.5)" fill="#f90">G</text>
<text transform="matrix(3.136 0 0 6.377 1105 1396)" fill="#f90">G</text>
<text transform="matrix(3.380 0 0 6.643 1129.4 1396.7)" fill="#0a0">A</text>
<text transform="matrix(3.380 0 0 6.643 1153.8 1396.7)" fill="#0a0">A</text>
<text transform="matrix(3.380 0 0 2.768 1178.2 1369.6)" fill="#0a0">A</text>
<text transform="matrix(3.136 0 0 1.461 1178.2 1380.1)" fill="#f90">G</text>
<text transform="matrix(3.380 0 0 1.129 1178.2 1388.3)" fill="#00e">C</text>
<text transform="matrix(3.993 0 0 1.176 1178.2 1396.7)" fill="#d00">T</text>
<text transform="matrix(3.993 0 0 6.643 934.2 1450.1)" fill="#d00">T</text>
<text transform="matrix(3.993 0 0 6.643 958.6 1450.1)" fill="#d00">T</text>
<text transform="matrix(3.380 0 0 6.377 983 1449.4)" fill="#00e">C</text>
<text transform="matrix(3.380 0 0 5.370 1007.4 1442.2)" fill="#00e">C</text>
<text transform="matrix(3.993 0 0 1.049 1007.4 1450.1)" fill="#d00">T</text>
<text transform="matrix(3.993 0 0 2.440 1031.8 1420.7)" fill="#d00">T</text>
<text transform="matrix(3.136 0 0 1.627 1031.8 1432.4)" fill="#f90">G</text>
<text transform="matrix(3.380 0 0 1.301 1031.8 1441.9)" fill="#00e">C</text>
<text transform="matrix(3.380 0 0 1.152 1031.8 1450.1)" fill="#0a0">A</text>
<text transform="matrix(3.380 0 0 1.709 1056.2 1415.9)" fill="#00e">C</text>
<text transform="matrix(3.993 0 0 1.849 1056.2 1429)" fill="#d00">T</text>
<text transform="matrix(3.380 0 0 1.507 1056.2 1439.6)" fill="#0a0">A</text>
<text transform="matrix(3.136 0 0 1.446 1056.2 1449.9)" fill="#f90">G</text>
<text transform="matrix(3.380 0 0 5.136 1080.6 1439.6)" fill="#0a0">A</text>
<text transform="matrix(3.136 0 0 1.446 1080.6 1449.9)" fill="#f90">G</text>
<text transform="matrix(3.136 0 0 6.377 1105 1449.4)" fill="#f90">G</text>
<text transform="matrix(3.380 0 0 6.643 1129.4 1450.1)" fill="#0a0">A</text>
<text transform="matrix(3.380 0 0 6.643 1153.8 1450.1)" fill="#0a0">A</text>
<text transform="matrix(3.993 0 0 2.808 873.2 1476.3)" fill="#d00">T</text>
<text transform="matrix(3.380 0 0 1.712 873.2 1488.2)" fill="#0a0">A</text>
<text transform="matrix(3.380 0 0 1.118 873.2 1496.3)" fill="#00e">C</text>
<text transform="matrix(3.136 0 0 0.920 873.2 1503)" fill="#f90">G</text>
<text transform="matrix(3.993 0 0 2.657 897.6 1475.2)" fill="#d00">T</text>
<text transform="matrix(3.380 0 0 1.888 897.6 1488.4)" fill="#0a0">A</text>
<text transform="matrix(3.136 0 0 1.477 897.6 1499)" fill="#f90">G</text>
<text transform="matrix(3.380 0 0 0.537 897.6 1503)" fill="#00e">C</text>
<text transform="matrix(3.136 0 0 5.206 922 1494)" fill="#f90">G</text>
<text transform="matrix(3.380 0 0 0.678 922 1499.3)" fill="#0a0">A</text>
<text transform="matrix(3.993 0 0 0.542 922 1503.1)" fill="#d00">T</text>
<text transform="matrix(3.380 0 0 2.054 946.4 1471)" fill="#0a0">A</text>
<text transform="matrix(3.993 0 0 2.397 946.4 1487.8)" fill="#d00">T</text>
<text transform="matrix(3.380 0 0 1.775 946.4 1500.5)" fill="#00e">C</text>
<text transform="matrix(3.136 0 0 0.329 946.4 1503.1)" fill="#f90">G</text>
<text transform="matrix(3.993 0 0 3.183 970.8 1478.9)" fill="#d00">T</text>
<text transform="matrix(3.380 0 0 2.214 970.8 1494.4)" fill="#0a0">A</text>
<text transform="matrix(3.380 0 0 0.797 970.8 1500.1)" fill="#00e">C</text>
<text transform="matrix(3.136 0 0 0.399 970.8 1503.1)" fill="#f90">G</text>
<text transform="matrix(3.380 0 0 6.236 995.2 1500.3)" fill="#0a0">A</text>
<text transform="matrix(3.993 0 0 0.407 995.2 1503.1)" fill="#d00">T</text>
<text transform="matrix(3.380 0 0 5.563 1019.6 1496.6)" fill="#00e">C</text>
<text transform="matrix(3.993 0 0 0.424 1019.6 1500.1)" fill="#d00">T</text>
<text transform="matrix(3.380 0 0 0.424 1019.6 1503.1)" fill="#0a0">A</text>
<text transform="matrix(3.380 0 0 4.542 1044 1488.4)" fill="#0a0">A</text>
<text transform="matrix(3.993 0 0 1.830 1044 1501.2)" fill="#d00">T</text>
<text transform="matrix(3.380 0 0 0.260 1044 1503.1)" fill="#00e">C</text>
<text transform="matrix(3.993 0 0 2.517 1068.4 1474.2)" fill="#d00">T</text>
<text transform="matrix(3.380 0 0 2.797 1068.4 1493.8)" fill="#0a0">A</text>
<text transform="matrix(3.136 0 0 0.671 1068.4 1498.6)" fill="#f90">G</text>
<text transform="matrix(3.380 0 0 0.604 1068.4 1503)" fill="#00e">C</text>
<text transform="matrix(3.993 0 0 4.542 1092.8 1488.4)" fill="#d00">T</text>
<text transform="matrix(3.380 0 0 1.830 1092.8 1501.2)" fill="#0a0">A</text>
<text transform="matrix(3.380 0 0 0.260 1092.8 1503.1)" fill="#00e">C</text>
<text transform="matrix(3.136 0 0 5.531 1117.2 1496.3)" fill="#f90">G</text>
<text transform="matrix(3.380 0 0 0.542 1117.2 1500.7)" fill="#0a0">A</text>
<text transform="matrix(3.993 0 0 0.339 1117.2 1503.1)" fill="#d00">T</text>
<text transform="matrix(3.993 0 0 6.440 1141.6 1501.7)" fill="#d00">T</text>
<text transform="matrix(3.380 0 0 0.203 1141.6 1503.1)" fill="#0a0">A</text>
<text transform="matrix(3.380 0 0 3.013 1166 1477.7)" fill="#0a0">A</text>
<text transform="matrix(3.993 0 0 2.397 1166 1494.5)" fill="#d00">T</text>
<text transform="matrix(3.136 0 0 0.789 1166 1500.1)" fill="#f90">G</text>
<text transform="matrix(3.380 0 0 0.394 1166 1503.1)" fill="#00e">C</text>
<text transform="matrix(3.993 0 0 2.098 1190.4 1471.3)" fill="#d00">T</text>
<text transform="matrix(3.380 0 0 2.308 1190.4 1487.4)" fill="#0a0">A</text>
<text transform="matrix(3.136 0 0 1.678 1190.4 1499.5)" fill="#f90">G</text>
<text transform="matrix(3.380 0 0 0.470 1190.4 1503)" fill="#00e">C</text>
<text transform="matrix(3.380 0 0 4.490 1214.8 1488.8)" fill="#00e">C</text>
<text transform="matrix(3.993 0 0 0.949 1214.8 1496)" fill="#d00">T</text>
<text transform="matrix(3.380 0 0 0.678 1214.8 1500.7)" fill="#0a0">A</text>
<text transform="matrix(3.136 0 0 0.325 1214.8 1503.1)" fill="#f90">G</text>
<text transform="matrix(3.993 0 0 2.602 873.2 1528.2)" fill="#d00">T</text>
<text transform="matrix(3.380 0 0 1.183 873.2 1536.7)" fill="#00e">C</text>
<text transform="matrix(3.380 0 0 1.507 873.2 1547.4)" fill="#0a0">A</text>
<text transform="matrix(3.136 0 0 1.249 873.2 1556.4)" fill="#f90">G</text>
<text transform="matrix(3.993 0 0 2.602 897.6 1528.2)" fill="#d00">T</text>
<text transform="matrix(3.380 0 0 2.191 897.6 1543.6)" fill="#0a0">A</text>
<text transform="matrix(3.136 0 0 1.249 897.6 1552.5)" fill="#f90">G</text>
<text transform="matrix(3.380 0 0 0.526 897.6 1556.4)" fill="#00e">C</text>
<text transform="matrix(3.136 0 0 5.128 922 1546.8)" fill="#f90">G</text>
<text transform="matrix(3.993 0 0 0.342 922 1549.8)" fill="#d00">T</text>
<text transform="matrix(3.380 0 0 0.959 922 1556.5)" fill="#0a0">A</text>
<text transform="matrix(3.380 0 0 2.602 946.4 1528.2)" fill="#0a0">A</text>
<text transform="matrix(3.993 0 0 1.918 946.4 1541.6)" fill="#d00">T</text>
<text transform="matrix(3.380 0 0 1.709 946.4 1553.9)" fill="#00e">C</text>
<text transform="matrix(3.136 0 0 0.329 946.4 1556.5)" fill="#f90">G</text>
<text transform="matrix(3.993 0 0 3.593 970.8 1535.1)" fill="#d00">T</text>
<text transform="matrix(3.380 0 0 1.966 970.8 1548.9)" fill="#0a0">A</text>
<text transform="matrix(3.380 0 0 0.651 970.8 1553.6)" fill="#00e">C</text>
<text transform="matrix(3.136 0 0 0.390 970.8 1556.5)" fill="#f90">G</text>
<text transform="matrix(3.380 0 0 6.304 995.2 1554.1)" fill="#0a0">A</text>
<text transform="matrix(3.993 0 0 0.339 995.2 1556.5)" fill="#d00">T</text>
<text transform="matrix(3.380 0 0 5.588 1019.6 1550.1)" fill="#00e">C</text>
<text transform="matrix(3.993 0 0 0.411 1019.6 1553.6)" fill="#d00">T</text>
<text transform="matrix(3.380 0 0 0.411 1019.6 1556.5)" fill="#0a0">A</text>
<text transform="matrix(3.380 0 0 4.609 1044 1542.3)" fill="#0a0">A</text>
<text transform="matrix(3.993 0 0 1.762 1044 1554.6)" fill="#d00">T</text>
<text transform="matrix(3.380 0 0 0.260 1044 1556.5)" fill="#00e">C</text>
<text transform="matrix(3.993 0 0 2.837 1068.4 1529.9)" fill="#d00">T</text>
<text transform="matrix(3.380 0 0 2.629 1068.4 1548.3)" fill="#0a0">A</text>
<text transform="matrix(3.380 0 0 0.598 1068.4 1552.6)" fill="#00e">C</text>
<text transform="matrix(3.136 0 0 0.531 1068.4 1556.4)" fill="#f90">G</text>
<text transform="matrix(3.993 0 0 4.745 1092.8 1543.2)" fill="#d00">T</text>
<text transform="matrix(3.380 0 0 1.627 1092.8 1554.6)" fill="#0a0">A</text>
<text transform="matrix(3.380 0 0 0.260 1092.8 1556.5)" fill="#00e">C</text>
<text transform="matrix(3.136 0 0 5.797 1117.2 1551.6)" fill="#f90">G</text>
<text transform="matrix(3.993 0 0 0.335 1117.2 1554.6)" fill="#d00">T</text>
<text transform="matrix(3.380 0 0 0.268 1117.2 1556.5)" fill="#0a0">A</text>
<text transform="matrix(3.993 0 0 6.643 1141.6 1556.5)" fill="#d00">T</text>
<text transform="matrix(3.380 0 0 3.460 1166 1534.2)" fill="#0a0">A</text>
<text transform="matrix(3.993 0 0 2.145 1166 1549.2)" fill="#d00">T</text>
<text transform="matrix(3.136 0 0 0.598 1166 1553.5)" fill="#f90">G</text>
<text transform="matrix(3.380 0 0 0.399 1166 1556.5)" fill="#00e">C</text>
<text transform="matrix(3.993 0 0 2.629 1190.4 1528.4)" fill="#d00">T</text>
<text transform="matrix(3.136 0 0 1.727 1190.4 1540.8)" fill="#f90">G</text>
<text transform="matrix(3.380 0 0 1.799 1190.4 1553.6)" fill="#0a0">A</text>
<text transform="matrix(3.380 0 0 0.399 1190.4 1556.5)" fill="#00e">C</text>
<text transform="matrix(3.380 0 0 4.655 1214.8 1543.4)" fill="#00e">C</text>
<text transform="matrix(3.993 0 0 0.930 1214.8 1550.5)" fill="#d00">T</text>
<text transform="matrix(3.380 0 0 0.531 1214.8 1554.2)" fill="#0a0">A</text>
<text transform="matrix(3.136 0 0 0.319 1214.8 1556.5)" fill="#f90">G</text>
</g>
<path d="M78.6 1347.9H733.5M78.6 1400.5H733.5M78.6 1453.2H733.5M78.6 1505.9H733.5M78.6 1558.6H733.5M78.6 1611.3H733.5M78.6 1663.9H733.5M866.5 1347.7H1501M866.5 1401.1H1501M866.5 1454.1H1501M866.5 1507.5H1501M866.5 1560.9H1501" stroke="#000" stroke-width="1.9"/>
<text transform="translate(0.2 1323.6) scale(1.076 1)" font-weight="bold" font-size="41" stroke="#000" stroke-width="1.3" stroke-linejoin="round">e</text>
<text transform="translate(104.2 1335.2) scale(0.948 1)">Motif in LTR12C</text>
<text transform="translate(515.6 1335.2) scale(0.778 1)" text-anchor="middle">TF</text>
<text transform="translate(641.3 1335.2) scale(0.952 1)" text-anchor="middle"><tspan dy="0" font-style="italic">P</tspan><tspan dy="0"> value</tspan></text>
<text transform="translate(515.6 1384.3) scale(0.865 1)" text-anchor="middle">NFY</text>
<text transform="translate(640.6 1384.3) scale(0.868 1)" text-anchor="middle"><tspan dy="0">1 × 10</tspan><tspan dy="-10.5" font-size="18.4">−2,184</tspan></text>
<text transform="translate(515.6 1436.9) scale(0.916 1)" text-anchor="middle">FOXA2</text>
<text transform="translate(640.6 1436.9) scale(0.827 1)" text-anchor="middle"><tspan dy="0">1 × 10</tspan><tspan dy="-10.5" font-size="18.4">−1,511</tspan></text>
<text transform="translate(515.6 1489.6) scale(0.782 1)" text-anchor="middle">EN1</text>
<text transform="translate(640.6 1489.6) scale(0.826 1)" text-anchor="middle"><tspan dy="0">1 × 10</tspan><tspan dy="-10.5" font-size="18.4">−1,124</tspan></text>
<text transform="translate(515.6 1542.3) scale(0.932 1)" text-anchor="middle">DMRT6</text>
<text transform="translate(640.6 1542.3) scale(0.871 1)" text-anchor="middle"><tspan dy="0">1 × 10</tspan><tspan dy="-10.5" font-size="18.4">−615</tspan></text>
<text transform="translate(515.6 1595) scale(0.949 1)" text-anchor="middle">NANOG</text>
<text transform="translate(640.6 1595) scale(0.871 1)" text-anchor="middle"><tspan dy="0">1 × 10</tspan><tspan dy="-10.5" font-size="18.4">−591</tspan></text>
<text transform="translate(515.6 1647.7) scale(0.866 1)" text-anchor="middle">DMRT1</text>
<text transform="translate(640.6 1647.7) scale(0.891 1)" text-anchor="middle"><tspan dy="0">1 × 10</tspan><tspan dy="-10.5" font-size="18.4">−568</tspan></text>
<text transform="translate(849.4 1326.5) scale(1.052 1)" font-weight="bold" font-size="41" stroke="#000" stroke-width="1.3" stroke-linejoin="round">g</text>
<text transform="translate(934.9 1335)">Motif in ALR/Alpha</text>
<text transform="translate(1313 1335) scale(0.778 1)" text-anchor="middle">TF</text>
<text transform="translate(1426.5 1335) scale(0.952 1)" text-anchor="middle"><tspan dy="0" font-style="italic">P</tspan><tspan dy="0"> value</tspan></text>
<text transform="translate(1312.5 1384.1) scale(0.898 1)" text-anchor="middle">STAT5</text>
<text transform="translate(1426 1384.1) scale(0.886 1)" text-anchor="middle"><tspan dy="0">1 × 10</tspan><tspan dy="-10.5" font-size="18.4">−554</tspan></text>
<text transform="translate(1312.5 1437.5) scale(0.905 1)" text-anchor="middle">STAT6</text>
<text transform="translate(1426 1437.5) scale(0.886 1)" text-anchor="middle"><tspan dy="0">1 × 10</tspan><tspan dy="-10.5" font-size="18.4">−438</tspan></text>
<text transform="translate(1312.5 1490.5) scale(0.862 1)" text-anchor="middle">DMRT1</text>
<text transform="translate(1426 1490.5) scale(0.893 1)" text-anchor="middle"><tspan dy="0">1 × 10</tspan><tspan dy="-10.5" font-size="18.4">−50</tspan></text>
<text transform="translate(1312.5 1543.9) scale(0.917 1)" text-anchor="middle">DMRT6</text>
<text transform="translate(1426 1543.9) scale(0.893 1)" text-anchor="middle"><tspan dy="0">1 × 10</tspan><tspan dy="-10.5" font-size="18.4">−43</tspan></text>
<text transform="translate(2.7 1796) scale(0.959 1)" font-weight="bold" font-size="41" stroke="#000" stroke-width="1.3" stroke-linejoin="round">f</text>
<path d="M203.8 1817.2H856.3" stroke="#000" stroke-width="1.5"/>
<text transform="translate(514.8 1805.3) scale(0.869 1)" text-anchor="middle">LTR12C</text>
<text transform="translate(244.2 1858.4)" text-anchor="middle">5hmC</text>
<text transform="translate(498.2 1858.4) scale(0.994 1)" text-anchor="middle">5mC</text>
<text transform="translate(786 1858.4) scale(0.967 1)" text-anchor="middle">RNA exp</text>
<text transform="translate(42.5 2039) rotate(-90) scale(1.020 1)" text-anchor="middle">Methylation change</text>
<text transform="translate(72.7 2038.7) rotate(-90) scale(0.931 1)" text-anchor="middle">(DZ + PGCLC − 4i ES cell) (%)</text>
<text transform="translate(635.3 2039.8) rotate(-90) scale(0.959 1)" text-anchor="middle"><tspan dy="0">log</tspan><tspan dy="5.3" font-size="16.3">2</tspan><tspan dy="-5.3">FC</tspan></text>
<path d="M156.5 1875.9V2202.5M145.4 2202.5H156.5M145.4 2120.5H156.5M145.4 2039.5H156.5M145.4 1958.5H156.5M145.4 1876.5H156.5M145.4 2202.5H331.9M206.5 2202.5v9.3M281.5 2202.5v9.3" stroke="#3a3a3a" stroke-width="1.25"/>
<text transform="translate(134.2 2210.1) scale(0.930 1)" text-anchor="end" font-size="23">−10</text>
<text transform="translate(134.2 2128.7) scale(0.930 1)" text-anchor="end" font-size="23">−5</text>
<text transform="translate(132.4 2047.2) scale(1.020 1)" text-anchor="end" font-size="23">0</text>
<text transform="translate(132.4 1965.8) scale(1.020 1)" text-anchor="end" font-size="23">5</text>
<text transform="translate(134.2 1884.4) scale(0.930 1)" text-anchor="end" font-size="23">10</text>
<path d="M156.6 2039.5H332.5" stroke="#3a3a3a" stroke-width="1.9" stroke-dasharray="12.8 4.7"/>
<path class="d" d="M205.9 2618.5h1.2M205.9 2614.4h1.2M206.2 2610.3h1.3M206.1 2606.1h1.5M205.9 2602h1.2M206 2597.9h1.3M205.6 2593.8h1.6M205.9 2589.6h1.6M205.2 2585.5h2.1M205.9 2581.4h1.5M205.4 2577.3h3M204.8 2573.1h3.3M204.6 2569h4.5M204.5 2564.9h4.1M203.7 2560.8h6M202.2 2556.6h9.4M200.1 2552.5h12.8" stroke="#959595" stroke-width="5.0" transform="scale(1 0.8)"/>
<path class="d" d="M198.5 2542.7h16M197.8 2538.6h17.3M197.5 2534.5h18.7M196.8 2530.4h19.9M196.8 2526.2h19.4M196.7 2522.1h19.8M196 2518h20.9M196.6 2513.9h20.2M195.9 2509.7h20.7M197.4 2505.6h18.3M196.6 2501.5h20.6M197 2497.4h18.8M198 2493.2h17.7M199.4 2489.1h14.5M200.9 2485h11.7M202.3 2480.9h9.2M203.3 2476.7h6.3M203.3 2472.6h6.7M203.1 2468.5h7.3M203.7 2464.4h5.2M204.8 2460.2h3.7M204.3 2456.1h4.1M204.6 2452h4M205.4 2447.9h2.6M205.3 2443.7h3.1M205.3 2439.6h2M205.5 2435.5h1.9M205.5 2431.4h2.1M206 2427.2h1.5M205.8 2423.1h1.7M206.2 2419h1.5M205.7 2414.9h2M205.7 2410.7h2M205.8 2406.6h1.1M205.9 2402.5h1.8M205.7 2398.4h1.3M206.1 2394.2h1.2M206.1 2390.1h0.9M205.9 2386h1.3M206.2 2381.9h1.2M205.8 2377.7h1.2M205.9 2373.6h1.3M184.1 2549.3h45M185.1 2548.1h43M185.1 2550.5h43M206.6 2624.6h0M206.6 2628.7h0M206.6 2631.8h0M206.6 2653.1h0M206.6 2661.3h0M206.6 2691.8h0M206.6 2719.3h0M206.6 2366.1h0M206.6 2360h0M206.6 2355.9h0M206.6 2351.9h0M206.6 2347.8h0" stroke="#959595" stroke-width="5.0" transform="scale(1 0.8)"/>
<path class="d" d="M281.7 2300.7h0M281.7 2310h0M281.7 2315.5h0M283.9 2331.2h0M279.2 2335.6h0M283.9 2339h0M281.7 2355.7h0M283.9 2367.4h0M279.2 2371.7h0M288.6 2373.5h0M279.2 2376.5h0M283.9 2379.1h0M288.6 2380.9h0M279.2 2384.9h0M288.6 2385.8h0M294 2388.2h0M283.9 2389.8h0M290.7 2394.2h0M269.4 2396.8h0M279.2 2395.8h0M283.9 2399.2h0M294 2405.9h0M274.3 2406.5h0M264.1 2409.3h0M286.1 2408.5h0M279.2 2409.9h0M298.7 2411.7h0M274.3 2412.7h0M290.7 2411.9h0M281.7 2424.4h0M259.2 2430.9h0M274.3 2431.9h0M288.6 2431.9h0M303.7 2430.9h0M269.4 2434.9h0M283.9 2434.9h0M298.7 2433.7h0M279.2 2436.9h0M294 2436.9h0M264.1 2440.1h0M274.3 2440.1h0M288.6 2439.5h0M269.4 2442.1h0M283.9 2442.6h0M298.7 2441.1h0M259.2 2446h0M303.7 2445h0M264.1 2446.6h0M279.2 2446h0M294 2446.6h0M274.3 2448.6h0M288.6 2448.4h0M269.4 2449.4h0M283.9 2450h0M298.7 2448.4h0M279.2 2452.8h0M274.3 2456h0M283.9 2456h0M288.6 2454.4h0M279.2 2459.3h0M288.6 2458.7h0M283.9 2461.7h0M281.7 2466.1h0M283.9 2478.4h0M288.6 2479.4h0M279.2 2484.6h0M283.9 2486.7h0M281.7 2529.6h0" stroke="#5bae96" stroke-width="6.0" transform="scale(1 0.82)"/>
<path d="M181.6 2013.9h50" stroke="#f9300f" stroke-width="3.7"/>
<path d="M256.7 1983.6h50" stroke="#f9300f" stroke-width="3.7"/>
<text transform="translate(221.4 2233.5) scale(1 0.86) rotate(-45) scale(1.068 1)" text-anchor="end">Without</text>
<text transform="translate(295.5 2236.9) scale(1 0.86) rotate(-45) scale(0.875 1)" text-anchor="end">DMRT1</text>
<text transform="translate(308.2 2262.3) scale(1 0.86) rotate(-45) scale(0.974 1)" text-anchor="end">peak</text>
<path d="M409.5 1875.9V2202.5M398.7 2202.5H409.5M398.7 2120.5H409.5M398.7 2039.5H409.5M398.7 1958.5H409.5M398.7 1876.5H409.5M398.7 2202.5H585.3M459.5 2202.5v9.3M535.5 2202.5v9.3" stroke="#3a3a3a" stroke-width="1.25"/>
<text transform="translate(387.5 2210.1) scale(0.930 1)" text-anchor="end" font-size="23">−10</text>
<text transform="translate(387.5 2128.7) scale(0.930 1)" text-anchor="end" font-size="23">−5</text>
<text transform="translate(385.7 2047.2) scale(1.020 1)" text-anchor="end" font-size="23">0</text>
<text transform="translate(385.7 1965.8) scale(1.020 1)" text-anchor="end" font-size="23">5</text>
<text transform="translate(387.5 1884.4) scale(0.930 1)" text-anchor="end" font-size="23">10</text>
<path d="M409.9 2039.5H586" stroke="#3a3a3a" stroke-width="1.9" stroke-dasharray="12.8 4.7"/>
<path class="d" d="M459.5 2752.9h0.9M459.7 2748.8h1M459.4 2744.6h1.3M459 2740.5h1.5M459.1 2736.4h1M459.3 2732.2h1.2M459.2 2728.1h1.4M459.1 2724h1.2M459.4 2719.9h1.6M459.5 2715.7h1.2M459.5 2711.6h1.2M458.9 2707.5h2.1M459 2703.4h1.6M459.3 2699.2h1.7M458.9 2695.1h2.4M458.6 2691h2.8M458.9 2686.9h2.1M458.9 2682.7h2.3M458.3 2678.6h3.1M458 2674.5h3.4M458.1 2670.4h3.6M458.7 2666.2h2.7M458 2662.1h4M457.8 2658h4.3M457.9 2653.9h4.3M458 2649.7h4.3M457.9 2645.6h4.6M457.3 2641.5h5.1M457.1 2637.4h5.3M457.3 2633.2h5.3M457.2 2629.1h4.9M457.2 2625h5.7M457.5 2620.9h5.1M457.2 2616.7h5.5M456.9 2612.6h5.7M457 2608.5h6.4M457.6 2604.4h5.1M457.5 2600.2h5.4M457.2 2596.1h6M457.2 2592h6.1M457 2587.9h6.3M456.6 2583.7h6.8M456.6 2579.6h6.6M456.9 2575.5h6.7M457.1 2571.4h5.6M456.2 2567.2h7.1M456.3 2563.1h7.5M457 2559h6.4M455.7 2554.9h8" stroke="#959595" stroke-width="5.0" transform="scale(1 0.8)"/>
<path class="d" d="M455.1 2542.7h9.8M455.4 2538.6h9.4M454.9 2534.5h10.2M454.6 2530.4h10.2M455.5 2526.2h8.2M455.7 2522.1h8.3M455.5 2518h8.9M455.7 2513.9h8M455.8 2509.7h9M456.5 2505.6h7.3M456.5 2501.5h7.2M455.3 2497.4h9.2M456.1 2493.2h7.3M456.6 2489.1h7.1M456.1 2485h8.1M455.8 2480.9h8.5M456.9 2476.7h5.9M457.1 2472.6h5.9M456.5 2468.5h6.7M456.4 2464.4h6.6M456.9 2460.2h6.1M458 2456.1h4.1M457.4 2452h5.1M457.6 2447.9h4.7M457.9 2443.7h4.3M458.2 2439.6h3.8M458.3 2435.5h3.7M458 2431.4h3.7M458 2427.2h3.4M458.4 2423.1h3.1M458.4 2419h2.5M458.7 2414.9h2.7M459 2410.7h2.1M458.9 2406.6h2.1M458.8 2402.5h2.1M459 2398.4h2.2M459.3 2394.2h1.5M459.4 2390.1h1.6M459.4 2386h1.7M459.4 2381.9h1.6M459.3 2377.7h1.6M459.1 2373.6h1.7M459.1 2369.5h1.5M459.5 2365.4h1.4M459.5 2361.2h1M459.1 2357.1h1.3M459.4 2353h1.3M459.8 2348.9h0.9M437.4 2549.3h45M438.4 2548.1h43M438.4 2550.5h43" stroke="#959595" stroke-width="5.0" transform="scale(1 0.8)"/>
<path class="d" d="M535.2 2309.4h0M529.5 2392.4h0M540.6 2391.8h0M523.4 2440.9h0M535.2 2439.7h0M546.2 2441.7h0M535.2 2446h0M535.2 2456.6h0M529.5 2461.5h0M540.6 2461.5h0M535.2 2477.2h0M512.2 2481.8h0M558.2 2482.2h0M512.2 2487.5h0M523.4 2488.7h0M535.2 2488.7h0M546.2 2487.5h0M546.2 2491.7h0M540.6 2499.6h0M529.5 2503h0M535.2 2513.2h0M535.2 2519.7h0M535.2 2524.9h0M523.4 2526.9h0M546.2 2527.4h0M523.4 2532.2h0M535.2 2536h0M512.2 2555.5h0M523.4 2554.7h0M546.2 2553.9h0M558.2 2555.5h0M535.2 2556.6h0M512.2 2563.6h0M558.2 2564.4h0M523.4 2567.6h0M535.2 2566.4h0M546.2 2558.6h0M535.2 2577.3h0M535.2 2583.1h0M529.5 2596.2h0M540.6 2595.4h0M535.2 2602.1h0M535.2 2620.8h0M523.4 2624.6h0M546.2 2622.6h0M558.2 2621.4h0M535.2 2627.7h0M529.5 2634.3h0M540.6 2633.1h0M523.4 2640.1h0M546.2 2643.2h0M535.2 2646h0M529.5 2656.7h0M540.6 2658.3h0M535.2 2665.9h0" stroke="#5bae96" stroke-width="6.0" transform="scale(1 0.82)"/>
<path d="M434.9 1988.5h50" stroke="#f9300f" stroke-width="3.7"/>
<path d="M510.2 2086.2h50" stroke="#f9300f" stroke-width="3.7"/>
<text transform="translate(474.7 2233.5) scale(1 0.86) rotate(-45) scale(1.068 1)" text-anchor="end">Without</text>
<text transform="translate(549 2236.9) scale(1 0.86) rotate(-45) scale(0.875 1)" text-anchor="end">DMRT1</text>
<text transform="translate(561.7 2262.3) scale(1 0.86) rotate(-45) scale(0.974 1)" text-anchor="end">peak</text>
<path d="M699.5 1875.9V2202.5M687.8 2202.5H699.5M687.8 2148.5H699.5M687.8 2093.5H699.5M687.8 2039.5H699.5M687.8 1985.5H699.5M687.8 1930.5H699.5M687.8 1876.5H699.5M687.8 2202.5H873.5M747.5 2202.5v9.3M823.5 2202.5v9.3" stroke="#3a3a3a" stroke-width="1.25"/>
<text transform="translate(676.6 2210.1) scale(0.930 1)" text-anchor="end" font-size="23">−6</text>
<text transform="translate(676.6 2155.8) scale(0.930 1)" text-anchor="end" font-size="23">−4</text>
<text transform="translate(676.6 2101.5) scale(0.930 1)" text-anchor="end" font-size="23">−2</text>
<text transform="translate(674.8 2047.2) scale(1.020 1)" text-anchor="end" font-size="23">0</text>
<text transform="translate(674.8 1993) scale(1.020 1)" text-anchor="end" font-size="23">2</text>
<text transform="translate(674.8 1938.7) scale(1.020 1)" text-anchor="end" font-size="23">4</text>
<text transform="translate(674.8 1884.4) scale(1.020 1)" text-anchor="end" font-size="23">6</text>
<path d="M699 2039.5H874" stroke="#3a3a3a" stroke-width="1.9" stroke-dasharray="12.8 4.7"/>
<path class="d" d="M747.3 2672.4h1.5M747.2 2668.3h1.3M747.4 2664.2h1M746.8 2660h1.6M747.2 2655.9h1.3M746.7 2651.8h1.9M746.9 2647.7h1.8M746.9 2643.5h1.9M746.9 2639.4h2M746.6 2635.3h2.1M747 2631.2h1.5M747.1 2627h1.7M746.7 2622.9h2.1M746.4 2618.8h2M746.8 2614.7h1.7M746.2 2610.5h2.3M746.5 2606.4h2.2M746.3 2602.3h2.5M746.5 2598.2h1.9M746.7 2594h2.6M746.5 2589.9h2.2M746.8 2585.8h2.2M746.5 2581.7h2.2M746.7 2577.5h1.9M746.5 2573.4h2.2M746.3 2569.3h2.3M746.1 2565.2h2.7M745.8 2561h4M745.9 2556.9h4.1M744.9 2552.8h5.1M747.7 2683.3h0M747.7 2688.4h0M747.7 2693.5h0M747.7 2696.9h0M747.7 2703.7h0M747.7 2708.8h0M747.7 2713.9h0M747.7 2720.6h0M747.7 2725.7h0M747.7 2729.1h0M747.7 2732.5h0M747.7 2735.9h0" stroke="#959595" stroke-width="5.0" transform="scale(1 0.8)"/>
<path class="d" d="M745.6 2541.8h4.9M746 2537.7h3.8M746.6 2533.5h2.6M744.5 2529.4h6.2M743.7 2525.3h8.4M743.9 2521.2h7.4M745.2 2517h5.2M745.5 2512.9h4.7M744.5 2508.8h6.7M744 2504.7h7.3M745.6 2500.5h4.3M745.3 2496.4h5.2M743.9 2492.3h7.6M745.7 2488.2h3.5M746.3 2484h2.8M745.7 2479.9h3.4M746.1 2475.8h3.1M745.9 2471.7h3.2M746.2 2467.5h2.4M746.4 2463.4h3.1M746.4 2459.3h2.6M746.6 2455.2h2.5M746.5 2451h2.4M746.7 2446.9h2M746.6 2442.8h2.1M746.4 2438.7h2.1M746.3 2434.5h2.3M746.5 2430.4h2.6M746.9 2426.3h2.1M746.3 2422.2h2.2M746.4 2418h2M746.8 2413.9h2.2M746.3 2409.8h2.3M746.9 2405.7h1.8M746.4 2401.5h2.1M747 2397.4h1.6M746.8 2393.3h2M746.8 2389.2h2M746.8 2385h1.5M747.4 2380.9h1.4M747 2376.8h1.2M747 2372.7h1.4M747.1 2368.5h1.3M746.8 2364.4h1.4M747.1 2360.3h1M746.7 2356.2h1.4M746.7 2352h1.4M725.2 2549.3h45M726.2 2548.1h43M726.2 2550.6h43" stroke="#959595" stroke-width="5.0" transform="scale(1 0.8)"/>
<path class="d" d="M823 2324.6h0M819 2348.1h0M827.8 2344.8h0M827.8 2363.3h0M819 2367h0M801 2373.3h0M846 2374.6h0M827.8 2371.9h0M819 2376.6h0M836.7 2376.9h0M827.8 2380.6h0M819 2381.9h0M809.6 2387.8h0M827.8 2388.8h0M836.7 2391.5h0M809.6 2393.5h0M819 2391.1h0M809.6 2402.4h0M836.7 2402.1h0M801 2408h0M846 2406h0M819 2409h0M827.8 2411h0M809.6 2412h0M819 2416.6h0M827.8 2418.6h0M836.7 2419.9h0M809.6 2427.6h0M819 2426.6h0M827.8 2429.2h0M836.7 2430.2h0M801 2441.8h0M809.6 2440.8h0M819 2443.8h0M827.8 2445.8h0M836.7 2444.8h0M846 2443.1h0M801 2452.4h0M809.6 2454.4h0M819 2455.4h0M827.8 2456.4h0M836.7 2455.4h0M846 2453.7h0M809.6 2463.3h0M819 2465.3h0M827.8 2466.3h0M836.7 2465.3h0M809.6 2472.9h0M819 2474.9h0M827.8 2470.3h0M836.7 2470.9h0M836.7 2487.1h0M819 2488.5h0M827.8 2489.8h0M819 2499.4h0M827.8 2500h0M819 2510h0M827.8 2511h0M819 2516.6h0M819 2522.6h0M827.8 2524.2h0M819 2536.1h0M827.8 2535.5h0M823 2562.3h0M823 2606.3h0" stroke="#5bae96" stroke-width="6.0" transform="scale(1 0.82)"/>
<path d="M722.7 2018.3h50" stroke="#f9300f" stroke-width="3.7"/>
<path d="M798 1996.6h50" stroke="#f9300f" stroke-width="3.7"/>
<text transform="translate(762.5 2233.5) scale(1 0.86) rotate(-45) scale(1.068 1)" text-anchor="end">Without</text>
<text transform="translate(836.8 2236.9) scale(1 0.86) rotate(-45) scale(0.875 1)" text-anchor="end">DMRT1</text>
<text transform="translate(849.5 2262.3) scale(1 0.86) rotate(-45) scale(0.974 1)" text-anchor="end">peak</text>
<text transform="translate(1674.7 1325) scale(1.054 1)" font-weight="bold" font-size="41" stroke="#000" stroke-width="1.3" stroke-linejoin="round">h</text>
<text transform="translate(1745.4 1327.5) scale(0.967 1)">ALR/Alpha RNA exp</text>
<text transform="translate(1703.7 1525.3) rotate(-90) scale(0.972 1)" text-anchor="middle"><tspan dy="0">log</tspan><tspan dy="5.3" font-size="16.3">2</tspan><tspan dy="-5.3">FC</tspan></text>
<path d="M1780.5 1359.9V1690.5M1769.4 1690.5H1780.5M1769.4 1607.5H1780.5M1769.4 1525.5H1780.5M1769.4 1442.5H1780.5M1769.4 1360.5H1780.5M1769.4 1690.5H1939.4M1825.5 1690.5v9.6M1893.5 1690.5v9.6" stroke="#3a3a3a" stroke-width="1.25"/>
<text transform="translate(1759.4 1698.7) scale(0.930 1)" text-anchor="end" font-size="23">−4</text>
<text transform="translate(1759.4 1616.2) scale(0.930 1)" text-anchor="end" font-size="23">−2</text>
<text transform="translate(1757.6 1533.8) scale(1.020 1)" text-anchor="end" font-size="23">0</text>
<text transform="translate(1757.6 1451.4) scale(1.020 1)" text-anchor="end" font-size="23">2</text>
<text transform="translate(1757.6 1368.9) scale(1.020 1)" text-anchor="end" font-size="23">4</text>
<path d="M1780.3 1525.3H1941.4" stroke="#3a3a3a" stroke-width="1.9" stroke-dasharray="12.8 4.7"/>
<path class="d" d="M1824.8 1991.7h1.2M1825.4 1987.5h0.9M1825.1 1983.4h0.9M1824.8 1979.3h0.9M1825.2 1975.2h1M1825.4 1971h1.1M1825.1 1966.9h1.5M1824.6 1962.8h1.4M1824.7 1958.7h1.5M1824 1954.5h3.1M1824.7 1950.4h2.4M1825 1946.3h1.5M1824.9 1942.2h1.9M1825 1938h2M1824.7 1933.9h1.6M1824.6 1929.8h2M1824.9 1925.7h1.5M1824.8 1921.5h1.9M1825 1917.4h1.8M1824.4 1913.3h1.9M1825.6 1996.8h0M1825.6 2002h0M1825.6 2012.3h0M1825.6 2014.8h0M1825.6 2020h0M1825.6 2025.1h0M1825.6 2040.6h0" stroke="#959595" stroke-width="5.0" transform="scale(1 0.8)"/>
<path class="d" d="M1824.3 1901.5h2.1M1825.1 1897.3h1.6M1824.8 1893.2h1.5M1824.6 1889.1h1.5M1825 1885h1.5M1825.1 1880.8h1.7M1824.8 1876.7h2.1M1824.3 1872.6h1.8M1823.9 1868.5h3.1M1823.4 1864.3h4.3M1825.1 1860.2h1.7M1824.9 1856.1h1.6M1824.8 1852h2.1M1824.9 1847.8h2.1M1824.4 1843.7h2.2M1823.4 1839.6h4.5M1824.7 1835.5h1.8M1824.9 1831.3h1.7M1825.1 1827.2h1.6M1824.5 1823.1h1.7M1824.7 1819h1.7M1824.7 1814.8h1.5M1825 1810.7h1.7M1825 1806.6h1.7M1824.7 1802.5h1.6M1825.1 1798.3h1.4M1824.7 1794.2h1.5M1824.8 1790.1h1.5M1824.7 1786h1.5M1825.3 1781.8h1.3M1824.9 1777.7h1.4M1825.4 1773.6h1.1M1824.7 1769.5h1.3M1824.9 1765.3h1.5M1824.7 1761.2h1.2M1824.8 1757.1h1.3M1824.9 1753h1.1M1824.6 1748.8h1.4M1825.1 1744.7h1.1M1824.9 1740.6h1.2M1825.2 1736.5h1.1M1825 1732.3h0.8M1825.3 1728.2h1.2M1824.9 1724.1h1.1M1825.5 1720h0.9M1806.1 1906.6h39M1807.1 1905.4h37M1807.1 1907.9h37M1825.6 1708.2h0M1825.6 1703.1h0" stroke="#959595" stroke-width="5.0" transform="scale(1 0.8)"/>
<path class="d" d="M1887.1 1719.9h0M1901 1722.4h0M1893.9 1726.4h0M1897.2 1731.4h0M1890.4 1731.9h0M1887.1 1738.5h0M1893.9 1738.5h0M1907.3 1741h0M1880.2 1743h0M1901 1743h0M1873.7 1746.5h0M1880.2 1747h0M1887.1 1747h0M1893.9 1745.5h0M1907.3 1746h0M1914.4 1746.5h0M1893.9 1753.5h0M1887.1 1760.6h0M1893.9 1764.6h0M1893.9 1771.1h0M1893.9 1776.2h0M1887.1 1785.2h0M1893.9 1789.2h0M1901 1794.3h0M1887.1 1797.8h0M1893.9 1796.8h0M1901 1799.8h0M1887.1 1804.8h0M1893.9 1804.8h0M1901 1806.3h0M1893.9 1826.9h0M1893.9 1843h0M1893.9 1850.1h0M1890.4 1860.1h0M1897.2 1860.1h0M1893.9 1892.3h0" stroke="#e2a590" stroke-width="6.4" transform="scale(1 0.82)"/>
<path d="M1802.9 1500.2h45.4" stroke="#f9300f" stroke-width="3.6"/>
<path d="M1870.7 1437.9h45.4" stroke="#f9300f" stroke-width="3.6"/>
<text transform="translate(1839 1717.5) scale(1 0.86) rotate(-45) scale(1.068 1)" text-anchor="end">Without</text>
<text transform="translate(1909.8 1715.5) scale(1 0.86) rotate(-45) scale(0.875 1)" text-anchor="end">DMRT1</text>
<text transform="translate(1922.5 1750.4) scale(1 0.86) rotate(-45) scale(0.974 1)" text-anchor="end">peak</text>
<text transform="translate(1680.6 1830.5) scale(1.132 1)" font-weight="bold" font-size="41" stroke="#000" stroke-width="1.3" stroke-linejoin="round">j</text>
<text transform="translate(1757.9 1839.2) scale(0.993 1)">ALR/Alpha luciferase</text>
<text transform="translate(1724.2 2027.4) rotate(-90) scale(0.985 1)" text-anchor="middle">Relative change</text>
<path d="M1896.6 1855.3v13M1968.6 1855.3v13" stroke="#c4c8cc" stroke-width="1"/>
<rect x="1809.5" y="2028.5" width="28" height="166" fill="#959595" stroke="#3a3a3a" stroke-width="1.1"/>
<rect x="1845.5" y="1981.5" width="27" height="213" fill="#959595" stroke="#3a3a3a" stroke-width="1.1"/>
<rect x="1881.5" y="1920.5" width="27" height="274" fill="#e5a797" stroke="#3a3a3a" stroke-width="1.1"/>
<rect x="1916.5" y="2080.5" width="28" height="114" fill="#e5a797" stroke="#3a3a3a" stroke-width="1.1"/>
<path d="M1800.5 1860.9V2194.5M1790.4 2194.5H1800.5M1790.4 2111.5H1800.5M1790.4 2028.5H1800.5M1790.4 1945.5H1800.5M1790.4 1861.5H1800.5M1790.4 2194.5H1959.2" stroke="#3a3a3a" stroke-width="1.25"/>
<text transform="translate(1777.9 2203.6) scale(1.020 1)" text-anchor="end" font-size="23">0</text>
<text transform="translate(1779.7 2120.4) scale(0.930 1)" text-anchor="end" font-size="23">0.5</text>
<text transform="translate(1779.7 2037.1) scale(0.930 1)" text-anchor="end" font-size="23">1.0</text>
<text transform="translate(1779.7 1953.8) scale(0.930 1)" text-anchor="end" font-size="23">1.5</text>
<text transform="translate(1779.7 1870.6) scale(0.930 1)" text-anchor="end" font-size="23">2.0</text>
<path d="M1800 2028.3H1954.5" stroke="#3a3a3a" stroke-width="1.9" stroke-dasharray="12.8 4.7"/>
<circle cx="1859.2" cy="1973" r="2.1" fill="none" stroke="#111" stroke-width="1.1"/>
<circle cx="1859.2" cy="1990.4" r="2.1" fill="none" stroke="#111" stroke-width="1.1"/>
<circle cx="1895.3" cy="1892.5" r="2.1" fill="none" stroke="#111" stroke-width="1.1"/>
<circle cx="1895.3" cy="1948.8" r="2.1" fill="none" stroke="#111" stroke-width="1.1"/>
<circle cx="1931.2" cy="2066.2" r="2.1" fill="none" stroke="#111" stroke-width="1.1"/>
<circle cx="1931.2" cy="2094.8" r="2.1" fill="none" stroke="#111" stroke-width="1.1"/>
<circle cx="1823.4" cy="2029.6" r="2.3" fill="#222" stroke="#111"/>
<text transform="translate(1828 2208.6) rotate(-90) scale(0.913 1)" text-anchor="end" font-size="22.5">Neg</text>
<text transform="translate(1865.5 2208.6) rotate(-90) scale(0.838 1)" text-anchor="end" font-size="22.5">Pos</text>
<text transform="translate(1902.6 2208.6) rotate(-90) scale(0.855 1)" text-anchor="end" font-size="22.5">WT</text>
<text transform="translate(1938.4 2208.6) rotate(-90) scale(0.930 1)" text-anchor="end" font-size="22.5">dDM</text>
<path d="M1887 2261.8H1939.5" stroke="#333" stroke-width="1.3"/>
<text transform="translate(1913 2291.2) scale(0.836 1)" text-anchor="middle">DMRT1</text>
<text transform="translate(965.9 1702.1) scale(1.531 1)" font-weight="bold" font-size="41" stroke="#000" stroke-width="1.3" stroke-linejoin="round">i</text>
<path d="M1290 1704.7H1370.5M1440 1704.7H1521" stroke="#44546a" stroke-width="3.4"/>
<path d="M1278.9 1704.7l15.7 -6.6l-3 6.6l3 6.6zM1532.9 1704.7l-15.7 -6.6l3 6.6l-3 6.6z" style="fill:#44546a"/>
<text transform="translate(1404.4 1711.8) scale(0.995 1)" text-anchor="middle" font-size="25.8">24 kb</text>
<path d="M1278.4 1755.6H1517" stroke="#667" stroke-width="1"/>
<path d="M1278.4 1756.2L1278.4 1754.6L1279 1756.2L1279 1756.2L1279.6 1755L1280.2 1756.2L1280.8 1756.2L1281.4 1753.4L1282 1751.6L1282.6 1750.6L1283.2 1751.6L1283.8 1753.4L1284.4 1754.1L1285 1753.6L1285.6 1753.9L1286.2 1754.6L1286.8 1756.2L1288.6 1756.2L1289.2 1755.1L1289.8 1755.3L1290.4 1756.2L1291 1756.2L1291.6 1755.3L1292.2 1755L1292.8 1756.2L1294 1756.2L1294.6 1755L1295.2 1754.2L1295.8 1753.7L1296.4 1753.8L1297 1754.5L1297.6 1753.5L1298.2 1752.5L1298.8 1752.5L1299.4 1753.5L1300 1754.8L1300.6 1754.9L1301.2 1754.3L1301.8 1753.9L1302.4 1754.2L1303 1754.8L1303.6 1755.3L1304.2 1756.2L1304.8 1756.2L1305.4 1754.9L1306 1756.2L1306.6 1756.2L1307.2 1754.6L1307.8 1753.4L1308.4 1752.7L1309 1753L1309.6 1751.6L1310.2 1750.6L1310.8 1751.5L1311.4 1753.3L1312 1753.7L1312.6 1753.8L1313.2 1754.4L1313.8 1755.3L1314.4 1755L1315 1756.2L1316.8 1756.2L1317.4 1754.7L1318 1754L1318.6 1753.6L1319.2 1754L1319.8 1754.7L1320.4 1756.2L1320.4 1756.2L1321 1754.7L1321.6 1756.2L1325.2 1756.2L1325.8 1754.6L1326.4 1756.2L1326.4 1756.2L1327 1755L1327.6 1756.2L1328.2 1756.2L1328.8 1751.8L1329.4 1748.8L1330 1747.2L1330.6 1749L1331.2 1747.1L1331.8 1746.1L1332.4 1748.6L1333 1752.3L1333.6 1756.2L1334.2 1756.2L1334.8 1754.6L1335.4 1756.2L1336 1756.2L1336.6 1754.2L1337.2 1753L1337.8 1752.3L1338.4 1752.8L1339 1754L1339.6 1754.6L1340.2 1754.3L1340.8 1754.4L1341.4 1754.9L1342 1755.1L1342.6 1756.2L1344.4 1756.2L1345 1754.3L1345.6 1753.2L1346.2 1752.6L1346.8 1753.2L1347.4 1754.2L1348 1756.2L1348.6 1756.2L1349.2 1754.4L1349.8 1756.2L1350.4 1756.2L1351 1754.8L1351.6 1754.7L1352.2 1753.7L1352.8 1753.1L1353.4 1753.5L1354 1754.3L1354.6 1755.4L1355.2 1754.6L1355.8 1754.5L1356.4 1756.2L1358.2 1756.2L1358.8 1754.6L1359.4 1754.9L1360 1754.4L1360.6 1754.3L1361.2 1754.6L1361.8 1755.2L1362.4 1756.2L1363 1756.2L1363.6 1755.4L1364.2 1756.2L1364.2 1756.2L1364.8 1754.9L1365.4 1753.5L1366 1752.5L1366.6 1752.5L1367.2 1753.5L1367.8 1754.8L1368.4 1755.4L1369 1754.4L1369.6 1756.2L1369.6 1756.2L1370.2 1755.3L1370.8 1756.2L1372 1756.2L1372.6 1754.5L1373.2 1753.6L1373.8 1753.1L1374.4 1753.5L1375 1754.4L1375.6 1755.4L1376.2 1755L1376.8 1754.7L1377.4 1754.6L1378 1754.9L1378.6 1755.3L1379.2 1755.3L1379.8 1756.2L1381.6 1756.2L1382.2 1754.9L1382.8 1756.2L1382.8 1756.2L1383.4 1754.6L1384 1755.3L1384.6 1754.7L1385.2 1754.2L1385.8 1754.2L1386.4 1754.6L1387 1755.2L1387.6 1755L1388.2 1754.5L1388.8 1754.1L1389.4 1754.3L1390 1754.8L1390.6 1754.7L1391.2 1756.2L1391.2 1756.2L1391.8 1754.8L1392.4 1756.2L1393 1756.2L1393.6 1755.3L1394.2 1756.2L1394.8 1756.2L1395.4 1755.4L1396 1754.7L1396.6 1754.5L1397.2 1756.2L1397.2 1756.2L1397.8 1755.1L1398.4 1754.8L1399 1754.6L1399.6 1754.8L1400.2 1754.8L1400.8 1756.2L1401.4 1756.2L1402 1754.9L1402.6 1756.2L1405 1756.2L1405.6 1755.3L1406.2 1754.4L1406.8 1753.5L1407.4 1753.1L1408 1753.7L1408.6 1754.6L1409.2 1753.1L1409.8 1749L1410.4 1746.2L1411 1746.4L1411.6 1746.8L1412.2 1741.2L1412.8 1739.2L1413.4 1743.2L1414 1737.3L1414.6 1736.6L1415.2 1742.1L1415.8 1743.3L1416.4 1739.2L1417 1741.1L1417.6 1737.4L1418.2 1725.1L1418.8 1720L1419.4 1728.4L1420 1734.4L1420.6 1727.6L1421.2 1731.2L1421.8 1736.6L1422.4 1734.5L1423 1726L1423.6 1727.6L1424.2 1737.2L1424.8 1737.4L1425.4 1739.9L1426 1746.2L1426.6 1745.6L1427.2 1747.7L1427.8 1747.4L1428.4 1748.4L1429 1751.2L1429.6 1754.5L1430.2 1755.2L1430.8 1756.2L1431.4 1756.2L1432 1752L1432.6 1748.5L1433.2 1746.5L1433.8 1747.9L1434.4 1745.2L1435 1745.8L1435.6 1749.3L1436.2 1751.2L1436.8 1747.2L1437.4 1744.8L1438 1746.6L1438.6 1750.4L1439.2 1752L1439.8 1750.7L1440.4 1751.2L1441 1752.8L1441.6 1749.6L1442.2 1747L1442.8 1747.1L1443.4 1749.8L1444 1748.3L1444.6 1749L1445.2 1751.5L1445.8 1750.6L1446.4 1748.5L1447 1748.7L1447.6 1751L1448.2 1754.1L1448.8 1754.1L1449.4 1752.9L1450 1752.3L1450.6 1752.9L1451.2 1754.1L1451.8 1756.2L1451.8 1756.2L1452.4 1755.1L1453 1754.5L1453.6 1753.6L1454.2 1753.1L1454.8 1753.6L1455.4 1754.5L1456 1756.2L1456.6 1756.2L1457.2 1754.7L1457.8 1756.2L1457.8 1756.2L1458.4 1754.8L1459 1756.2L1459 1756.2L1459.6 1754.5L1460.2 1753.3L1460.8 1752.6L1461.4 1753L1462 1753.3L1462.6 1752.2L1463.2 1752.2L1463.8 1753.2L1464.4 1754.3L1465 1753.9L1465.6 1754.2L1466.2 1754.8L1466.8 1756.2L1466.8 1756.2L1467.4 1755L1468 1754.7L1468.6 1754.4L1469.2 1756.2L1469.8 1756.2L1470.4 1754.5L1471 1756.2L1471 1756.2L1471.6 1754.7L1472.2 1756.2L1477 1756.2L1477.6 1755.2L1478.2 1754.5L1478.8 1756.2L1478.8 1756.2L1479.4 1754.9L1480 1756.2L1480 1756.2L1480.6 1755.2L1481.2 1754.7L1481.8 1755.4L1482.4 1756.2L1482.4 1756.2L1483 1754.8L1483.6 1756.2L1484.2 1756.2L1484.8 1755.3L1485.4 1756.2L1485.4 1756.2L1486 1754.9L1486.6 1754.7L1487.2 1754.2L1487.8 1754L1488.4 1754.4L1489 1755L1489.6 1756.2L1493.2 1756.2L1493.8 1754.7L1494.4 1756.2L1496.2 1756.2L1496.8 1755L1497.4 1756.2L1497.4 1756.2L1498 1753.3L1498.6 1750.3L1499.2 1748.3L1499.8 1748.9L1500.4 1750.5L1501 1749L1501.6 1750L1502.2 1752.3L1502.8 1753.5L1503.4 1752.7L1504 1752.9L1504.6 1753.9L1505.2 1753.2L1505.8 1752.2L1506.4 1752.2L1507 1753.3L1507.6 1754.8L1508.2 1756.2L1509.4 1756.2L1510 1754.6L1510.6 1753.9L1511.2 1753.6L1511.8 1754.1L1512.4 1754.8L1513 1754.8L1513.6 1753.4L1514.2 1752.4L1514.8 1752.5L1515.4 1752.9L1516 1752L1516.6 1752.4L1517 1756.2Z" style="fill:#d2ab0c"/>
<path d="M1278.4 1804.3H1517" stroke="#667" stroke-width="1"/>
<path d="M1278.4 1804.9L1278.4 1804.9L1279 1803.1L1279.6 1801.4L1280.2 1800.3L1280.8 1800.5L1281.4 1800.1L1282 1800.6L1282.6 1800.2L1283.2 1801.3L1283.8 1803L1284.4 1804.9L1288 1804.9L1288.6 1803.7L1289.2 1803.8L1289.8 1804.9L1289.8 1804.9L1290.4 1803.8L1291 1803.1L1291.6 1802.7L1292.2 1802.8L1292.8 1803.3L1293.4 1804.1L1294 1804.9L1294 1804.9L1294.6 1803.2L1295.2 1804.9L1297.6 1804.9L1298.2 1802.3L1298.8 1800.8L1299.4 1800.1L1300 1801.1L1300.6 1800.2L1301.2 1800.8L1301.8 1802.2L1302.4 1804.1L1303 1804.9L1304.2 1804.9L1304.8 1802.9L1305.4 1801.7L1306 1801L1306.6 1801.5L1307.2 1801.1L1307.8 1801.3L1308.4 1802.4L1309 1803.9L1309.6 1802.7L1310.2 1800.1L1310.8 1798.3L1311.4 1798.5L1312 1800.4L1312.6 1801.8L1313.2 1802.1L1313.8 1803L1314.4 1803.2L1315 1802.7L1315.6 1802.8L1316.2 1803.3L1316.8 1804L1317.4 1804.9L1317.4 1804.9L1318 1803.3L1318.6 1804.9L1319.2 1804.9L1319.8 1803.4L1320.4 1803.5L1321 1804L1321.6 1804.9L1321.6 1804.9L1322.2 1803.6L1322.8 1802.6L1323.4 1801.9L1324 1802L1324.6 1802.8L1325.2 1802.7L1325.8 1802L1326.4 1801.9L1327 1802.7L1327.6 1802.6L1328.2 1801.7L1328.8 1801.4L1329.4 1802.1L1330 1801.5L1330.6 1801.5L1331.2 1802.4L1331.8 1803.6L1332.4 1803.6L1333 1804.9L1333 1804.9L1333.6 1803.9L1334.2 1803.8L1334.8 1804.9L1337.2 1804.9L1337.8 1804.1L1338.4 1802.5L1339 1801.2L1339.6 1800.7L1340.2 1801.5L1340.8 1802.8L1341.4 1802.3L1342 1802.6L1342.6 1803.2L1343.2 1802.9L1343.8 1802.6L1344.4 1803L1345 1803.6L1345.6 1804L1346.2 1803.4L1346.8 1803L1347.4 1803.1L1348 1803.5L1348.6 1804.1L1349.2 1804.9L1349.2 1804.9L1349.8 1803.8L1350.4 1803.6L1351 1804.9L1352.2 1804.9L1352.8 1803.8L1353.4 1804.9L1354.6 1804.9L1355.2 1803.4L1355.8 1804.9L1355.8 1804.9L1356.4 1804L1357 1803.7L1357.6 1801.6L1358.2 1799.5L1358.8 1798.5L1359.4 1799.6L1360 1798L1360.6 1798.9L1361.2 1801L1361.8 1803.9L1362.4 1803.8L1363 1804.9L1366.6 1804.9L1367.2 1803.1L1367.8 1804.9L1367.8 1804.9L1368.4 1803.3L1369 1802.4L1369.6 1801.8L1370.2 1802.2L1370.8 1800.8L1371.4 1800.1L1372 1801.1L1372.6 1802.7L1373.2 1802.7L1373.8 1802.3L1374.4 1802.6L1375 1802.9L1375.6 1802.6L1376.2 1803L1376.8 1803.7L1377.4 1804.9L1378.6 1804.9L1379.2 1803.3L1379.8 1804.9L1381 1804.9L1381.6 1803.5L1382.2 1804.9L1383.4 1804.9L1384 1804L1384.6 1803.3L1385.2 1802.8L1385.8 1802.7L1386.4 1803.2L1387 1803.9L1387.6 1804.9L1388.8 1804.9L1389.4 1804L1390 1804.9L1390 1804.9L1390.6 1803.8L1391.2 1804.9L1393 1804.9L1393.6 1803.9L1394.2 1803.7L1394.8 1802.9L1395.4 1802.4L1396 1802.5L1396.6 1803.1L1397.2 1804L1397.8 1803.9L1398.4 1803.5L1399 1804.9L1400.2 1804.9L1400.8 1803.7L1401.4 1804.9L1402 1804.9L1402.6 1803.7L1403.2 1803.6L1403.8 1803.2L1404.4 1803.4L1405 1803.7L1405.6 1804.9L1407.4 1804.9L1408 1803.8L1408.6 1803.6L1409.2 1802.7L1409.8 1799.9L1410.4 1798L1411 1798.1L1411.6 1796.4L1412.2 1791.4L1412.8 1789.5L1413.4 1789.7L1414 1785.9L1414.6 1789.3L1415.2 1791.8L1415.8 1786.7L1416.4 1787.7L1417 1792.9L1417.6 1783.5L1418.2 1778.4L1418.8 1783.4L1419.4 1789.9L1420 1787.9L1420.6 1789.1L1421.2 1781.4L1421.8 1780.5L1422.4 1778.1L1423 1777.6L1423.6 1785.7L1424.2 1787.9L1424.8 1792L1425.4 1798.5L1426 1803.3L1426.6 1804.9L1426.6 1804.9L1427.2 1803.4L1427.8 1803.3L1428.4 1802.4L1429 1801.8L1429.6 1802.2L1430.2 1803L1430.8 1804.9L1430.8 1804.9L1431.4 1803.1L1432 1804.9L1432 1804.9L1432.6 1802.3L1433.2 1798.5L1433.8 1795.8L1434.4 1795.7L1435 1798.4L1435.6 1798.6L1436.2 1799.1L1436.8 1799.8L1437.4 1798.5L1438 1799.4L1438.6 1801.5L1439.2 1803.8L1439.8 1802.4L1440.4 1801.3L1441 1801.1L1441.6 1802L1442.2 1803.3L1442.8 1803.6L1443.4 1802.8L1444 1802.3L1444.6 1802.5L1445.2 1803.2L1445.8 1801.5L1446.4 1800.4L1447 1800.5L1447.6 1801.7L1448.2 1803.5L1448.8 1803.5L1449.4 1804.9L1450.6 1804.9L1451.2 1803.3L1451.8 1803.5L1452.4 1804.9L1452.4 1804.9L1453 1803.6L1453.6 1803L1454.2 1802.6L1454.8 1803L1455.4 1803.6L1456 1804.9L1456.6 1804.9L1457.2 1800.9L1457.8 1798.2L1458.4 1796.8L1459 1798.3L1459.6 1801.1L1460.2 1801L1460.8 1801.9L1461.4 1803.2L1462 1803.6L1462.6 1802.6L1463.2 1801.9L1463.8 1802.1L1464.4 1802.8L1465 1803.9L1465.6 1804.9L1465.6 1804.9L1466.2 1803L1466.8 1801.4L1467.4 1800.3L1468 1800.6L1468.6 1801.9L1469.2 1803.7L1469.8 1804.9L1470.4 1804.9L1471 1803.3L1471.6 1800.7L1472.2 1798.7L1472.8 1798.2L1473.4 1798.2L1474 1798.6L1474.6 1797.9L1475.2 1799.1L1475.8 1801.4L1476.4 1804.9L1479.4 1804.9L1480 1803.6L1480.6 1804.9L1481.8 1804.9L1482.4 1803.2L1483 1804.9L1484.2 1804.9L1484.8 1803.1L1485.4 1804.9L1489.6 1804.9L1490.2 1803.3L1490.8 1804.9L1490.8 1804.9L1491.4 1803.5L1492 1803.9L1492.6 1804.9L1492.6 1804.9L1493.2 1804.1L1493.8 1804L1494.4 1804.9L1494.4 1804.9L1495 1803.9L1495.6 1804L1496.2 1804.9L1496.2 1804.9L1496.8 1803.9L1497.4 1804.9L1497.4 1804.9L1498 1799.8L1498.6 1793.8L1499.2 1789.8L1499.8 1790.9L1500.4 1795.3L1501 1792.7L1501.6 1794.5L1502.2 1796.7L1502.8 1795.1L1503.4 1797.2L1504 1800.6L1504.6 1799.8L1505.2 1798.5L1505.8 1799.4L1506.4 1801.5L1507 1801.9L1507.6 1801.1L1508.2 1801.4L1508.8 1802.4L1509.4 1803.9L1510 1801.4L1510.6 1799.4L1511.2 1798.5L1511.8 1799.8L1512.4 1802L1513 1801.7L1513.6 1801L1514.2 1801.6L1514.8 1799.8L1515.4 1797.9L1516 1798.2L1516.6 1797.6L1517 1804.9Z" style="fill:#d2ab0c"/>
<path d="M1278.4 1852.4H1517" stroke="#667" stroke-width="1"/>
<path d="M1278.4 1853L1278.4 1852L1279 1853L1281.4 1853L1282 1852.2L1282.6 1853L1282.6 1853L1283.2 1851.7L1283.8 1851.2L1284.4 1851.1L1285 1851.4L1285.6 1851.9L1286.2 1853L1288 1853L1288.6 1851.9L1289.2 1853L1297 1853L1297.6 1851.7L1298.2 1853L1298.8 1853L1299.4 1852L1300 1853L1305.4 1853L1306 1851.8L1306.6 1851.4L1307.2 1850.7L1307.8 1850.4L1308.4 1850.9L1309 1851.3L1309.6 1850.4L1310.2 1849.9L1310.8 1850.4L1311.4 1851.2L1312 1851.4L1312.6 1851.1L1313.2 1851.2L1313.8 1851.7L1314.4 1853L1314.4 1853L1315 1852L1315.6 1851.9L1316.2 1851.8L1316.8 1853L1322.2 1853L1322.8 1851.7L1323.4 1853L1325.2 1853L1325.8 1851.8L1326.4 1851.3L1327 1851.1L1327.6 1851.3L1328.2 1851.8L1328.8 1853L1330 1853L1330.6 1851.8L1331.2 1851L1331.8 1850.5L1332.4 1850.6L1333 1851.3L1333.6 1852.1L1334.2 1852L1334.8 1853L1334.8 1853L1335.4 1852L1336 1853L1336.6 1853L1337.2 1852.1L1337.8 1851.5L1338.4 1851.1L1339 1851.2L1339.6 1851.6L1340.2 1852.1L1340.8 1852.1L1341.4 1853L1341.4 1853L1342 1852.1L1342.6 1852.1L1343.2 1853L1343.2 1853L1343.8 1852.1L1344.4 1853L1344.4 1853L1345 1852L1345.6 1853L1345.6 1853L1346.2 1852.2L1346.8 1853L1348.6 1853L1349.2 1852.2L1349.8 1851.8L1350.4 1853L1351 1853L1351.6 1852.2L1352.2 1853L1354.6 1853L1355.2 1851.8L1355.8 1853L1355.8 1853L1356.4 1852.2L1357 1853L1358.8 1853L1359.4 1851.8L1360 1852.2L1360.6 1853L1366.6 1853L1367.2 1851.9L1367.8 1853L1369 1853L1369.6 1852.2L1370.2 1853L1370.8 1853L1371.4 1851.8L1372 1851.8L1372.6 1853L1373.8 1853L1374.4 1851.1L1375 1850.3L1375.6 1849.9L1376.2 1850.5L1376.8 1851.4L1377.4 1853L1379.2 1853L1379.8 1852.2L1380.4 1853L1380.4 1853L1381 1851.8L1381.6 1851.3L1382.2 1851.1L1382.8 1851.3L1383.4 1851.8L1384 1851.8L1384.6 1853L1385.8 1853L1386.4 1852L1387 1853L1387 1853L1387.6 1852.2L1388.2 1852L1388.8 1853L1391.2 1853L1391.8 1851.7L1392.4 1853L1392.4 1853L1393 1852L1393.6 1852.2L1394.2 1853L1396 1853L1396.6 1852.2L1397.2 1852L1397.8 1853L1398.4 1853L1399 1852.1L1399.6 1851L1400.2 1850.2L1400.8 1850L1401.4 1850.6L1402 1850.4L1402.6 1849.9L1403.2 1850.3L1403.8 1851.2L1404.4 1853L1406.8 1853L1407.4 1851.4L1408 1848.5L1408.6 1846.4L1409.2 1846L1409.8 1835.9L1410.4 1828.8L1411 1829.3L1411.6 1823L1412.2 1824.2L1412.8 1833.7L1413.4 1828.5L1414 1822.3L1414.6 1827.9L1415.2 1832.5L1415.8 1821.7L1416.4 1819.4L1417 1828.6L1417.6 1836.3L1418.2 1832.3L1418.8 1836.2L1419.4 1839.1L1420 1832L1420.6 1830.8L1421.2 1836.9L1421.8 1835.5L1422.4 1831.5L1423 1835.7L1423.6 1842.2L1424.2 1840.9L1424.8 1843.8L1425.4 1847L1426 1846.9L1426.6 1848.5L1427.2 1850L1427.8 1850.1L1428.4 1850.9L1429 1852L1429.6 1853L1429.6 1853L1430.2 1850.4L1430.8 1847.7L1431.4 1846L1432 1846.4L1432.6 1844.7L1433.2 1838.7L1433.8 1835.7L1434.4 1839.2L1435 1845.3L1435.6 1845.9L1436.2 1847.6L1436.8 1850.2L1437.4 1851.9L1438 1853L1439.8 1853L1440.4 1851.4L1441 1850.4L1441.6 1849.9L1442.2 1850.3L1442.8 1847.9L1443.4 1846.1L1444 1846.3L1444.6 1848.3L1445.2 1850.4L1445.8 1849.9L1446.4 1850.4L1447 1851.2L1447.6 1853L1447.6 1853L1448.2 1851.9L1448.8 1853L1450 1853L1450.6 1852.2L1451.2 1851.7L1451.8 1850.9L1452.4 1850.4L1453 1850.7L1453.6 1851.3L1454.2 1852.2L1454.8 1853L1455.4 1853L1456 1852L1456.6 1851.2L1457.2 1850.6L1457.8 1850.5L1458.4 1851.1L1459 1851.9L1459.6 1853L1460.8 1853L1461.4 1851.6L1462 1851L1462.6 1850.7L1463.2 1851.1L1463.8 1850L1464.4 1849.2L1465 1849.4L1465.6 1850.5L1466.2 1852L1466.8 1853L1467.4 1853L1468 1851.8L1468.6 1852.1L1469.2 1853L1470.4 1853L1471 1852.2L1471.6 1851.6L1472.2 1851.2L1472.8 1851.1L1473.4 1851.5L1474 1852L1474.6 1852L1475.2 1852.2L1475.8 1851.6L1476.4 1851.2L1477 1851.1L1477.6 1851.5L1478.2 1851.8L1478.8 1853L1478.8 1853L1479.4 1851.7L1480 1853L1481.2 1853L1481.8 1851.9L1482.4 1853L1483 1853L1483.6 1851.9L1484.2 1853L1485.4 1853L1486 1852.1L1486.6 1853L1488.4 1853L1489 1851.9L1489.6 1853L1489.6 1853L1490.2 1851.8L1490.8 1853L1490.8 1853L1491.4 1851.7L1492 1852.2L1492.6 1853L1495.6 1853L1496.2 1851.9L1496.8 1853L1497.4 1853L1498 1851.3L1498.6 1849.8L1499.2 1848.9L1499.8 1849.1L1500.4 1850.3L1501 1851.6L1501.6 1851.2L1502.2 1851.1L1502.8 1851.5L1503.4 1852.1L1504 1853L1504.6 1853L1505.2 1852.2L1505.8 1853L1510.6 1853L1511.2 1852.1L1511.8 1852L1512.4 1851.8L1513 1851.3L1513.6 1851.1L1514.2 1851.3L1514.8 1851.8L1515.4 1853L1517 1853Z" style="fill:#d2ab0c"/>
<path d="M1278.4 1901.3H1517" stroke="#667" stroke-width="1"/>
<path d="M1278.4 1901.9L1278.4 1901.1L1279 1901.9L1282 1901.9L1282.6 1900.5L1283.2 1901L1283.8 1901L1284.4 1901L1285 1900.3L1285.6 1899.8L1286.2 1899.7L1286.8 1900.2L1287.4 1900.9L1288 1901.9L1289.2 1901.9L1289.8 1900.4L1290.4 1901.9L1291 1901.9L1291.6 1900.6L1292.2 1899.9L1292.8 1901.9L1293.4 1901.9L1294 1899.9L1294.6 1901.9L1295.8 1901.9L1296.4 1901L1297 1900.7L1297.6 1900.5L1298.2 1900.6L1298.8 1900.8L1299.4 1901.9L1300.6 1901.9L1301.2 1900.5L1301.8 1901.9L1301.8 1901.9L1302.4 1899.8L1303 1900.7L1303.6 1900.4L1304.2 1900.8L1304.8 1901.9L1304.8 1901.9L1305.4 1900.5L1306 1899.7L1306.6 1898.9L1307.2 1899L1307.8 1899.7L1308.4 1895.4L1309 1892.3L1309.6 1891.7L1310.2 1884.1L1310.8 1876.8L1311.4 1877.5L1312 1885.4L1312.6 1891.6L1313.2 1893.2L1313.8 1890.6L1314.4 1892L1315 1895.7L1315.6 1898.4L1316.2 1898L1316.8 1898.8L1317.4 1898.3L1318 1898.1L1318.6 1899.1L1319.2 1900.4L1319.8 1901L1320.4 1901.9L1321.6 1901.9L1322.2 1900.1L1322.8 1898.4L1323.4 1897.3L1324 1897.5L1324.6 1898.8L1325.2 1900.7L1325.8 1899.3L1326.4 1897.9L1327 1897.1L1327.6 1898L1328.2 1896.5L1328.8 1894.8L1329.4 1895.4L1330 1897.6L1330.6 1900.5L1331.2 1900L1331.8 1901.9L1331.8 1901.9L1332.4 1900.6L1333 1900L1333.6 1899.6L1334.2 1899.9L1334.8 1900.5L1335.4 1901.9L1336.6 1901.9L1337.2 1900.3L1337.8 1898.6L1338.4 1897.4L1339 1897.4L1339.6 1898.7L1340.2 1900.4L1340.8 1899.5L1341.4 1898L1342 1897.1L1342.6 1897.9L1343.2 1898.7L1343.8 1895.8L1344.4 1893.9L1345 1894.8L1345.6 1894.6L1346.2 1892.9L1346.8 1894.5L1347.4 1897.2L1348 1892.7L1348.6 1889.8L1349.2 1891.2L1349.8 1895.1L1350.4 1898.5L1351 1897.3L1351.6 1897.5L1352.2 1898.8L1352.8 1900.6L1353.4 1901.9L1355.2 1901.9L1355.8 1899.7L1356.4 1898.2L1357 1897.2L1357.6 1897.7L1358.2 1899.2L1358.8 1901.1L1359.4 1901.9L1359.4 1901.9L1360 1900.3L1360.6 1900L1361.2 1899.6L1361.8 1899.9L1362.4 1900.5L1363 1901.9L1364.2 1901.9L1364.8 1900L1365.4 1897.6L1366 1895.9L1366.6 1895.8L1367.2 1897.5L1367.8 1900L1368.4 1898.6L1369 1896.1L1369.6 1894.6L1370.2 1895.7L1370.8 1898.1L1371.4 1901.9L1372 1901.9L1372.6 1901.1L1373.2 1900.8L1373.8 1900L1374.4 1899.4L1375 1899.4L1375.6 1900L1376.2 1900.9L1376.8 1900L1377.4 1900.8L1378 1900.7L1378.6 1900.5L1379.2 1900.5L1379.8 1900L1380.4 1901.1L1381 1901.9L1381 1901.9L1381.6 1900.5L1382.2 1901.9L1382.8 1901.9L1383.4 1900.8L1384 1901.9L1385.8 1901.9L1386.4 1900.9L1387 1901.9L1387 1901.9L1387.6 1900.8L1388.2 1900.3L1388.8 1900L1389.4 1900.2L1390 1900.6L1390.6 1901.9L1390.6 1901.9L1391.2 1899.9L1391.8 1901.9L1391.8 1901.9L1392.4 1900.9L1393 1900L1393.6 1899.5L1394.2 1899.4L1394.8 1900L1395.4 1900.1L1396 1900.5L1396.6 1899.8L1397.2 1899.3L1397.8 1899.6L1398.4 1899.9L1399 1901.9L1400.2 1901.9L1400.8 1900.6L1401.4 1899.2L1402 1898.2L1402.6 1898.2L1403.2 1899.2L1403.8 1900.6L1404.4 1898.6L1405 1896.1L1405.6 1894.6L1406.2 1895.8L1406.8 1895.7L1407.4 1894.7L1408 1896.2L1408.6 1898.7L1409.2 1894.8L1409.8 1883.7L1410.4 1876.1L1411 1876.7L1411.6 1864.1L1412.2 1860.9L1412.8 1866.7L1413.4 1859.7L1414 1868.8L1414.6 1869.7L1415.2 1870.7L1415.8 1861.4L1416.4 1863.5L1417 1861L1417.6 1863.9L1418.2 1877.2L1418.8 1891.8L1419.4 1893.9L1420 1890L1420.6 1889.3L1421.2 1892.7L1421.8 1897.2L1422.4 1896.3L1423 1897.3L1423.6 1897.3L1424.2 1893.1L1424.8 1890.6L1425.4 1892L1426 1895.7L1426.6 1898.4L1427.2 1897.3L1427.8 1897.5L1428.4 1898.9L1429 1898.2L1429.6 1896.7L1430.2 1896.6L1430.8 1893.8L1431.4 1886.2L1432 1881.5L1432.6 1880.8L1433.2 1874.7L1433.8 1877.8L1434.4 1871.3L1435 1876.5L1435.6 1887.1L1436.2 1892.4L1436.8 1895.6L1437.4 1899.6L1438 1899.9L1438.6 1900L1439.2 1900.8L1439.8 1899.4L1440.4 1898.3L1441 1898.1L1441.6 1899L1442.2 1900.3L1442.8 1898.5L1443.4 1895.2L1444 1893.1L1444.6 1894L1445.2 1893.5L1445.8 1893.5L1446.4 1896L1447 1899.5L1447.6 1901.9L1447.6 1901.9L1448.2 1900.7L1448.8 1901.9L1449.4 1901.9L1450 1900.7L1450.6 1901.9L1450.6 1901.9L1451.2 1900L1451.8 1899.9L1452.4 1901.1L1453 1901.9L1453 1901.9L1453.6 1900.4L1454.2 1899L1454.8 1898.1L1455.4 1898.3L1456 1899.3L1456.6 1900.7L1457.2 1901.9L1457.2 1901.9L1457.8 1900.4L1458.4 1899L1459 1898.1L1459.6 1898.3L1460.2 1899.3L1460.8 1900.8L1461.4 1900.4L1462 1901.9L1462 1901.9L1462.6 1900.3L1463.2 1901.9L1463.2 1901.9L1463.8 1898.1L1464.4 1894.9L1465 1893L1465.6 1894.3L1466.2 1897.1L1466.8 1896L1467.4 1894L1468 1894.6L1468.6 1897L1469.2 1900.3L1469.8 1901.9L1469.8 1901.9L1470.4 1900.5L1471 1899.5L1471.6 1898.9L1472.2 1899.1L1472.8 1899.9L1473.4 1900.2L1474 1901.9L1474.6 1901.9L1475.2 1900.8L1475.8 1899.4L1476.4 1898.3L1477 1898.1L1477.6 1899L1478.2 1899.8L1478.8 1901.9L1478.8 1901.9L1479.4 1901L1480 1900L1480.6 1899.8L1481.2 1899.7L1481.8 1900.1L1482.4 1900.6L1483 1900.8L1483.6 1901.9L1484.8 1901.9L1485.4 1900.7L1486 1901.9L1486 1901.9L1486.6 1900.7L1487.2 1901.9L1488.4 1901.9L1489 1900.3L1489.6 1900.9L1490.2 1900.4L1490.8 1900L1491.4 1900.1L1492 1900.5L1492.6 1901.1L1493.2 1900.2L1493.8 1899.9L1494.4 1899.6L1495 1900L1495.6 1900.4L1496.2 1900.5L1496.8 1900.9L1497.4 1899.9L1498 1900L1498.6 1898.4L1499.2 1897.3L1499.8 1897.6L1500.4 1898.9L1501 1897.1L1501.6 1895.1L1502.2 1895L1502.8 1897L1503.4 1899.8L1504 1899.1L1504.6 1898.9L1505.2 1899.5L1505.8 1900.4L1506.4 1901.9L1506.4 1901.9L1507 1901.1L1507.6 1900L1508.2 1899.8L1508.8 1899.7L1509.4 1900.1L1510 1900.8L1510.6 1899.8L1511.2 1901.9L1512.4 1901.9L1513 1900.1L1513.6 1898L1514.2 1896.6L1514.8 1896.7L1515.4 1895.2L1516 1893.1L1516.6 1894L1517 1901.9Z" style="fill:#ff6a0a"/>
<path d="M1278.4 1949.5H1517" stroke="#667" stroke-width="1"/>
<path d="M1278.4 1950.1L1281.4 1950.1L1282 1948.8L1282.6 1948.1L1283.2 1946.4L1283.8 1945.4L1284.4 1945.9L1285 1947.3L1285.6 1948.6L1286.2 1947.9L1286.8 1947.5L1287.4 1947.9L1288 1948.3L1288.6 1948.2L1289.2 1947.1L1289.8 1946.5L1290.4 1947.1L1291 1948.2L1291.6 1950.1L1291.6 1950.1L1292.2 1948.1L1292.8 1950.1L1293.4 1950.1L1294 1948.1L1294.6 1950.1L1295.8 1950.1L1296.4 1949L1297 1949.3L1297.6 1949L1298.2 1950.1L1298.2 1950.1L1298.8 1948.5L1299.4 1949L1300 1950.1L1300.6 1950.1L1301.2 1948.4L1301.8 1946.3L1302.4 1944.8L1303 1944.8L1303.6 1946.3L1304.2 1948.1L1304.8 1947.3L1305.4 1947.1L1306 1947.7L1306.6 1944.5L1307.2 1941L1307.8 1939.6L1308.4 1937.8L1309 1934.5L1309.6 1934.9L1310.2 1931.1L1310.8 1934.5L1311.4 1935.7L1312 1937L1312.6 1941.6L1313.2 1945L1313.8 1944.7L1314.4 1946.1L1315 1948.1L1315.6 1950.1L1315.6 1950.1L1316.2 1949L1316.8 1950.1L1316.8 1950.1L1317.4 1948.5L1318 1950.1L1320.4 1950.1L1321 1948.6L1321.6 1950.1L1322.8 1950.1L1323.4 1948.1L1324 1948.8L1324.6 1949L1325.2 1947.9L1325.8 1947.2L1326.4 1947.1L1327 1947.9L1327.6 1948.8L1328.2 1948.2L1328.8 1948.6L1329.4 1946.9L1330 1945.6L1330.6 1945.6L1331.2 1946.8L1331.8 1948.5L1332.4 1950.1L1333 1950.1L1333.6 1948.9L1334.2 1948.3L1334.8 1947.4L1335.4 1947L1336 1947.6L1336.6 1948.5L1337.2 1950.1L1337.2 1950.1L1337.8 1948.3L1338.4 1950.1L1338.4 1950.1L1339 1948.7L1339.6 1947.7L1340.2 1947.1L1340.8 1947.3L1341.4 1948.1L1342 1949.2L1342.6 1950.1L1343.2 1950.1L1343.8 1948.8L1344.4 1950.1L1345 1950.1L1345.6 1948.1L1346.2 1950.1L1346.8 1950.1L1347.4 1948.7L1348 1948.5L1348.6 1950.1L1349.2 1950.1L1349.8 1947.9L1350.4 1945.6L1351 1943.9L1351.6 1944.2L1352.2 1943.3L1352.8 1941.3L1353.4 1942.3L1354 1945.1L1354.6 1948.9L1355.2 1950.1L1355.2 1950.1L1355.8 1947.3L1356.4 1945.1L1357 1943.7L1357.6 1944.5L1358.2 1946.5L1358.8 1949.2L1359.4 1950.1L1360.6 1950.1L1361.2 1948.3L1361.8 1950.1L1361.8 1950.1L1362.4 1949.1L1363 1948.6L1363.6 1948.2L1364.2 1948.3L1364.8 1948.7L1365.4 1949.3L1366 1949.3L1366.6 1950.1L1367.2 1950.1L1367.8 1948.5L1368.4 1947.8L1369 1946.3L1369.6 1945.3L1370.2 1946L1370.8 1944.7L1371.4 1941.8L1372 1941.1L1372.6 1943.3L1373.2 1946.7L1373.8 1948.1L1374.4 1948.9L1375 1948.9L1375.6 1948.3L1376.2 1948L1376.8 1947.2L1377.4 1947.1L1378 1947.8L1378.6 1948.8L1379.2 1948.4L1379.8 1948.2L1380.4 1948.5L1381 1949L1381.6 1950.1L1381.6 1950.1L1382.2 1948.6L1382.8 1950.1L1385.8 1950.1L1386.4 1949.3L1387 1950.1L1387.6 1950.1L1388.2 1948.6L1388.8 1950.1L1390 1950.1L1390.6 1949.1L1391.2 1950.1L1393.6 1950.1L1394.2 1948L1394.8 1949L1395.4 1947.2L1396 1945.8L1396.6 1945.4L1397.2 1946.5L1397.8 1948.1L1398.4 1950.1L1398.4 1950.1L1399 1948.3L1399.6 1950.1L1399.6 1950.1L1400.2 1948.7L1400.8 1948.1L1401.4 1950.1L1401.4 1950.1L1402 1949.1L1402.6 1948L1403.2 1948.6L1403.8 1950.1L1405.6 1950.1L1406.2 1948.4L1406.8 1948.7L1407.4 1947.7L1408 1947.1L1408.6 1947.3L1409.2 1945.4L1409.8 1938.5L1410.4 1933.8L1411 1934.1L1411.6 1921.5L1412.2 1911.9L1412.8 1916L1413.4 1928.7L1414 1929.4L1414.6 1933.2L1415.2 1933L1415.8 1926.3L1416.4 1927.6L1417 1935.1L1417.6 1940.1L1418.2 1937.8L1418.8 1940.1L1419.4 1944.3L1420 1942.2L1420.6 1937.8L1421.2 1936.4L1421.8 1939.8L1422.4 1943.8L1423 1941.5L1423.6 1941.9L1424.2 1944.5L1424.8 1942.8L1425.4 1939.5L1426 1939.2L1426.6 1942.3L1427.2 1946.8L1427.8 1948L1428.4 1947.9L1429 1948.3L1429.6 1948.9L1430.2 1947.5L1430.8 1944.8L1431.4 1943.1L1432 1943.5L1432.6 1935.1L1433.2 1927.1L1433.8 1925.3L1434.4 1931.9L1435 1939.3L1435.6 1938.1L1436.2 1941L1436.8 1945.6L1437.4 1944.5L1438 1945.3L1438.6 1947.1L1439.2 1950.1L1441 1950.1L1441.6 1948.9L1442.2 1948.6L1442.8 1950.1L1444 1950.1L1444.6 1946.3L1445.2 1943.6L1445.8 1942L1446.4 1943.4L1447 1946L1447.6 1942.8L1448.2 1940.5L1448.8 1941.5L1449.4 1944.6L1450 1948.7L1450.6 1950.1L1450.6 1950.1L1451.2 1948.6L1451.8 1947.6L1452.4 1947L1453 1947.3L1453.6 1948.2L1454.2 1949.3L1454.8 1948.2L1455.4 1948.9L1456 1948.2L1456.6 1947.9L1457.2 1948.1L1457.8 1948.6L1458.4 1950.1L1458.4 1950.1L1459 1949.3L1459.6 1950.1L1460.8 1950.1L1461.4 1948.6L1462 1950.1L1462 1950.1L1462.6 1949L1463.2 1946.7L1463.8 1945.1L1464.4 1944.6L1465 1945.9L1465.6 1947.8L1466.2 1950.1L1466.2 1950.1L1466.8 1948.9L1467.4 1946.7L1468 1945.1L1468.6 1944.6L1469.2 1945.9L1469.8 1947.9L1470.4 1948.7L1471 1947.7L1471.6 1947.1L1472.2 1947.3L1472.8 1948.1L1473.4 1948.8L1474 1950.1L1475.8 1950.1L1476.4 1949.3L1477 1948.9L1477.6 1950.1L1477.6 1950.1L1478.2 1949.1L1478.8 1948.8L1479.4 1948.7L1480 1948.9L1480.6 1949.2L1481.2 1948.1L1481.8 1950.1L1484.8 1950.1L1485.4 1948.5L1486 1948.5L1486.6 1949.1L1487.2 1948.8L1487.8 1948.7L1488.4 1948.9L1489 1949.2L1489.6 1950.1L1489.6 1950.1L1490.2 1948.8L1490.8 1948.4L1491.4 1950.1L1491.4 1950.1L1492 1948.7L1492.6 1946.9L1493.2 1945.7L1493.8 1945.6L1494.4 1946.7L1495 1948.4L1495.6 1950.1L1496.8 1950.1L1497.4 1948.7L1498 1948.7L1498.6 1947.7L1499.2 1947.1L1499.8 1947.3L1500.4 1948.1L1501 1949.1L1501.6 1947.5L1502.2 1946L1502.8 1945.3L1503.4 1946.3L1504 1947.8L1504.6 1948.9L1505.2 1947.9L1505.8 1947.2L1506.4 1947.2L1507 1947.9L1507.6 1949L1508.2 1948.7L1508.8 1950.1L1510 1950.1L1510.6 1947.8L1511.2 1945.9L1511.8 1944.6L1512.4 1945.1L1513 1946.8L1513.6 1949L1514.2 1948.3L1514.8 1944.5L1515.4 1941.7L1516 1941.1L1516.6 1943.4L1517 1950.1Z" style="fill:#ff6a0a"/>
<path d="M1278.2 1998.2H1517.6" stroke="#000" stroke-width="1"/>
<path d="M1278.2 1998.8L1295 1998.8L1295.6 1997.3L1296.2 1996.8L1296.8 1997.1L1297.4 1997.9L1298 1998.8L1302.8 1998.8L1303.4 1997.5L1304 1996.9L1304.6 1997L1305.2 1997.6L1305.8 1998.8L1306.4 1998.8L1307 1996.4L1307.6 1994.9L1308.2 1995.3L1308.8 1994.8L1309.4 1992.3L1310 1993.2L1310.6 1996.3L1311.2 1995.6L1311.8 1996.1L1312.4 1997.5L1313 1998.8L1322 1998.8L1322.6 1997.4L1323.2 1994.9L1323.8 1993.8L1324.4 1995.4L1325 1994.8L1325.6 1993.9L1326.2 1993L1326.8 1989.6L1327.4 1991.3L1328 1996L1328.6 1998.8L1332.8 1998.8L1333.4 1996.9L1334 1995.2L1334.6 1994.9L1335.2 1993.8L1335.8 1992L1336.4 1994.1L1337 1996.3L1337.6 1994.3L1338.2 1994.3L1338.8 1996.3L1339.4 1997.4L1340 1995L1340.6 1993.8L1341.2 1995.3L1341.8 1994.9L1342.4 1993.8L1343 1995.4L1343.6 1998L1344.2 1995.3L1344.8 1993.2L1345.4 1993.9L1346 1993L1346.6 1992.4L1347.2 1995L1347.8 1998.8L1355.6 1998.8L1356.2 1996L1356.8 1994.1L1357.4 1994.5L1358 1996.6L1358.6 1996.3L1359.2 1995.6L1359.8 1996.5L1360.4 1996.9L1361 1996.5L1361.6 1997.1L1362.2 1998.8L1367 1998.8L1367.6 1998L1368.2 1994.9L1368.8 1993L1369.4 1991.4L1370 1990.8L1370.6 1994.3L1371.2 1995.1L1371.8 1995L1372.4 1996.6L1373 1995.8L1373.6 1995.8L1374.2 1997L1374.8 1998.8L1376 1998.8L1376.6 1997.7L1377.2 1996.2L1377.8 1995.6L1378.4 1996.5L1379 1998.8L1383.2 1998.8L1383.8 1997.4L1384.4 1996L1385 1995.7L1385.6 1996.8L1386.2 1997.9L1386.8 1994.3L1387.4 1992.1L1388 1993.6L1388.6 1992.6L1389.2 1992.7L1389.8 1995.6L1390.4 1998.8L1392.2 1998.8L1392.8 1996.2L1393.4 1994.2L1394 1994.3L1394.6 1996.4L1395.2 1995.7L1395.8 1995.9L1396.4 1997.2L1397 1998.8L1397.6 1998.8L1398.2 1997.2L1398.8 1996.5L1399.4 1996.8L1400 1997.7L1400.6 1998.8L1407.2 1998.8L1407.8 1997.1L1408.4 1995.9L1409 1995.8L1409.6 1997L1410.2 1994.1L1410.8 1992L1411.4 1993.7L1412 1997.2L1412.6 1998.8L1412.6 1998.8L1413.2 1996.9L1413.8 1995.7L1414.4 1996L1415 1997.3L1415.6 1998.8L1421 1998.8L1421.6 1998L1422.2 1994.9L1422.8 1993L1423.4 1994.2L1424 1994.2L1424.6 1992L1425.2 1993.7L1425.8 1995.2L1426.4 1993.8L1427 1995.1L1427.6 1997.6L1428.2 1998.8L1431.8 1998.8L1432.4 1997.2L1433 1994.8L1433.6 1993.9L1434.2 1993.5L1434.8 1990.4L1435.4 1992L1436 1995.7L1436.6 1996.1L1437.2 1997.4L1437.8 1998.8L1446.8 1998.8L1447.4 1997.4L1448 1995L1448.6 1993.8L1449.2 1995.3L1449.8 1992.2L1450.4 1990.4L1451 1993.2L1451.6 1997.9L1452.2 1998.8L1453.4 1998.8L1454 1997.2L1454.6 1996.5L1455.2 1996.8L1455.8 1997.7L1456.4 1998.8L1457 1998.8L1457.6 1997.1L1458.2 1996.5L1458.8 1996.9L1459.4 1997.8L1460 1998.8L1463 1998.8L1463.6 1996.2L1464.2 1994.2L1464.8 1994.3L1465.4 1992.8L1466 1992.6L1466.6 1995.4L1467.2 1998.8L1467.2 1998.8L1467.8 1997.2L1468.4 1994.8L1469 1993.9L1469.6 1995.5L1470.2 1996.1L1470.8 1995.6L1471.4 1996.6L1472 1998.8L1472.6 1998.8L1473.2 1997.4L1473.8 1996L1474.4 1995.7L1475 1996.8L1475.6 1998.8L1497.2 1998.8L1497.8 1998L1498.4 1997L1499 1996.4L1499.6 1997L1500.2 1998L1500.8 1998.8L1503.8 1998.8L1504.4 1997.3L1505 1996.5L1505.6 1996.7L1506.2 1997.6L1506.8 1998.8L1511 1998.8L1511.6 1996L1512.2 1994.7L1512.8 1995.5L1513.4 1997.4L1514 1996.5L1514.6 1994.4L1515.2 1994.2L1515.8 1995.4L1516.4 1992.2L1517 1992.2L1517.6 1998.8Z" style="fill:#000"/>
<path d="M1278.2 2046.7H1514.6" stroke="#555" stroke-width="1"/>
<path d="M1279.5 2047.2v-28.1h2.3v28.1zM1316.3 2047.2v-28.1h1.6v28.1zM1317.9 2047.2v-43.2h3.7v43.2zM1328.5 2047.2v-14h5.8v14zM1346.2 2047.2v-14h3.2v14zM1346.6 2047.2v-28.1h2.3v28.1zM1373.8 2047.2v-28.1h3v28.1zM1383 2047.2v-14h8.9v14zM1387.1 2047.2v-28.1h2.1v28.1zM1391 2047.2v-28.1h2.1v28.1zM1399.9 2047.2v-28.1h2.3v28.1zM1405.7 2047.2v-28.1h2.3v28.1zM1443.2 2047.2v-28.1h2.7v28.1zM1470.7 2047.2v-14h3.5v14zM1471.2 2047.2v-28.1h2.1v28.1zM1505.2 2047.2v-14h6.7v14zM1506.1 2047.2v-43.2h3v43.2z" style="fill:#d2ab0c"/>
<path d="M1278.2 2095.5H1514.6" stroke="#555" stroke-width="1"/>
<path d="M1312.2 2096v-13.2h7.1v13.2zM1312.8 2096v-26.2h6.6v26.2zM1343.2 2096v-13.2h3.2v13.2zM1343.9 2096v-26.2h2.1v26.2zM1376.3 2096v-13.2h6.4v13.2zM1376.8 2096v-43h2.7v43zM1380.7 2096v-26.2h2.3v26.2zM1388.9 2096v-13.2h3v13.2zM1389.8 2096v-26.2h1.8v26.2zM1407.5 2096v-13.2h4.4v13.2zM1413.7 2096v-13.2h3.5v13.2zM1414.6 2096v-26.2h1.8v26.2zM1422 2096v-13.2h3.2v13.2zM1422.5 2096v-26.2h2.1v26.2zM1444.1 2096v-13.2h5.8v13.2zM1450.9 2096v-26.2h3v26.2zM1456.2 2096v-26.2h3.5v26.2zM1457.4 2096v-43h1.6v43zM1511.9 2096v-26.2h3v26.2z" style="fill:#d2ab0c"/>
<path d="M1278.2 2143.9H1514.6" stroke="#555" stroke-width="1"/>
<path d="M1296.3 2144.4v-10.2h3.5v10.2zM1297.2 2144.4v-20h2.1v20zM1312.2 2144.4v-10.2h3.5v10.2zM1312.8 2144.4v-20h2.5v20zM1342.9 2144.4v-10.2h3.2v10.2zM1343.2 2144.4v-20h1.8v20zM1376 2144.4v-20h4.1v20zM1376.8 2144.4v-31.1h2.1v31.1zM1406.9 2144.4v-20h2.3v20zM1410.8 2144.4v-20h3.2v20zM1440.6 2144.4v-10.2h3.5v10.2zM1441.1 2144.4v-20h2.1v20zM1452.6 2144.4v-20h2.7v20zM1453 2144.4v-41.8h1.8v41.8zM1470.7 2144.4v-20h3.5v20zM1471.9 2144.4v-41.8h1.9v41.8zM1498.1 2144.4v-10.2h3.2v10.2zM1499 2144.4v-20h1.4v20z" style="fill:#ff6a0a"/>
<path d="M1278.2 2192.6H1514.6" stroke="#555" stroke-width="1"/>
<path d="M1326.9 2193.1v-10.8h4.4v10.8zM1326.9 2193.1v-21.7h2.5v21.7zM1326.9 2193.1v-32.4h1.8v32.4zM1356.8 2193.1v-10.8h2.8v10.8zM1357.4 2193.1v-21.7h2.3v21.7zM1363.9 2193.1v-10.8h2.8v10.8zM1364.8 2193.1v-21.7h1.9v21.7zM1396.9 2193.1v-10.8h3v10.8zM1397.4 2193.1v-21.7h1.8v21.7zM1410.5 2193.1v-10.8h3.5v10.8zM1410.8 2193.1v-32.4h2.8v32.4zM1411 2193.1v-43.3h1.6v43.3zM1422 2193.1v-10.8h3.2v10.8zM1422.9 2193.1v-21.7h1.8v21.7zM1437 2193.1v-10.8h2.8v10.8zM1437.4 2193.1v-21.7h1.8v21.7z" style="fill:#ff6a0a"/>
<rect x="1302.1" y="2209" width="18.6" height="11.9" fill="#000"/>
<rect x="1323.7" y="2209" width="43.2" height="11.9" fill="#000"/>
<rect x="1381.3" y="2209" width="80" height="11.9" fill="#000"/>
<rect x="1461.9" y="2209" width="38.3" height="11.9" fill="#000"/>
<path d="M1310.4 2212.3l1.2 2.6l-1.2 2.6M1331.1 2212.3l1.2 2.6l-1.2 2.6M1349.3 2212.3l1.2 2.6l-1.2 2.6M1389.2 2212.3l1.2 2.6l-1.2 2.6M1407.2 2212.3l1.2 2.6l-1.2 2.6M1425.3 2212.3l1.2 2.6l-1.2 2.6M1443.5 2212.3l1.2 2.6l-1.2 2.6M1469.2 2212.3l1.2 2.6l-1.2 2.6M1487.4 2212.3l1.2 2.6l-1.2 2.6" stroke="#fff" stroke-width="0.8"/>
<text transform="translate(1365.7 2251) scale(0.966 1)" text-anchor="middle">ALR/Alpha</text>
<text transform="translate(1376 2285) scale(1.023 1)" text-anchor="middle">chr5:23,883,000–23,907,000</text>
<path d="M1066.3 1732.7V1989.4M1066.3 2039.8V2163.6M1264 1723.1V1843.8M1264 1874.5V1947.8M1264 1962.8V1989.3M1264 2013.2V2086.6M1264 2111.8V2185.6" stroke="#000" stroke-width="1.6"/>
<text transform="translate(1250.5 1792.3) scale(0.939 1)" text-anchor="end"><tspan dy="0">d4 DZ</tspan><tspan dy="-9.5" font-size="16.3">+</tspan><tspan dy="9.5">PGCLC</tspan></text>
<text transform="translate(1250.5 1920.1) scale(0.939 1)" text-anchor="end"><tspan dy="0">d8 DZ</tspan><tspan dy="-9.5" font-size="16.3">+</tspan><tspan dy="9.5">PGCLC</tspan></text>
<text transform="translate(1250.5 1985.7) scale(0.955 1)" text-anchor="end">IgG</text>
<text transform="translate(1250.5 2059.4) scale(0.939 1)" text-anchor="end"><tspan dy="0">d4 DZ</tspan><tspan dy="-9.5" font-size="16.3">+</tspan><tspan dy="9.5">PGCLC</tspan></text>
<text transform="translate(1250.5 2160.6) scale(0.939 1)" text-anchor="end"><tspan dy="0">d8 DZ</tspan><tspan dy="-9.5" font-size="16.3">+</tspan><tspan dy="9.5">PGCLC</tspan></text>
<text transform="translate(1013.7 1838.4) scale(0.850 1)" text-anchor="middle">DMRT1</text>
<text transform="translate(1013.7 1867.8) scale(0.968 1)" text-anchor="middle">peak</text>
<text transform="translate(1013.7 1899.1) scale(1.067 1)" text-anchor="middle">[0–30]</text>
<text transform="translate(1013 2078.9) scale(0.895 1)" text-anchor="middle">RNA</text>
<text transform="translate(1013 2108.3)" text-anchor="middle">exp</text>
<text transform="translate(1013 2140.4) scale(1.039 1)" text-anchor="middle">[0–0.4]</text>
</svg></body></html>
